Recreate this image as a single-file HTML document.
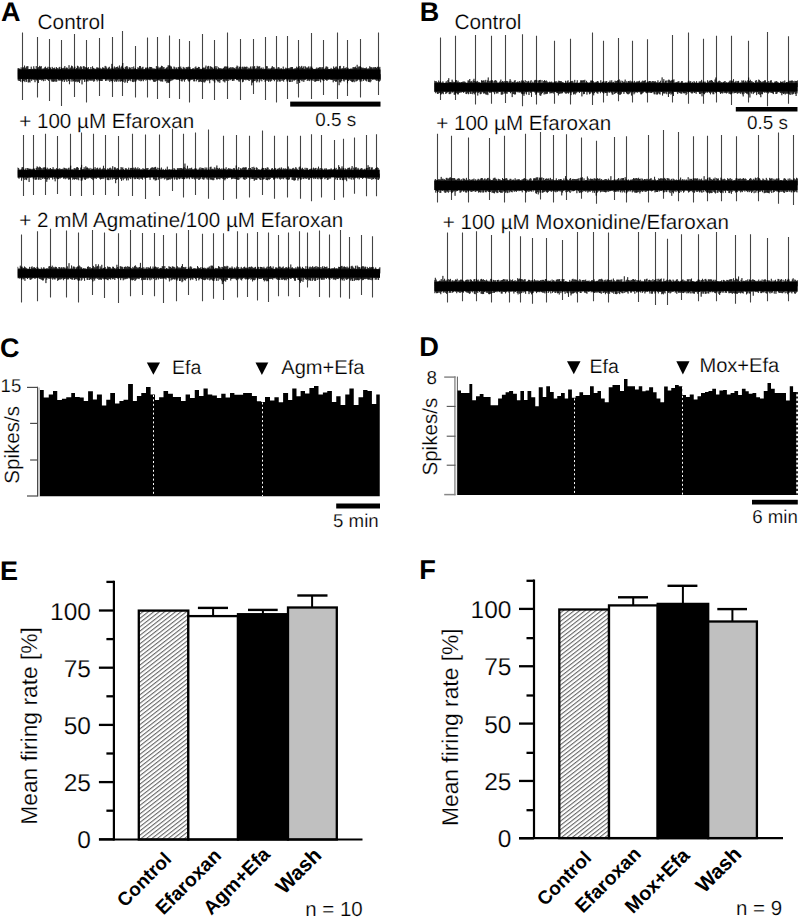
<!DOCTYPE html>
<html><head><meta charset="utf-8"><style>
html,body{margin:0;padding:0;background:#fff;}
svg{display:block;}
text{font-family:"Liberation Sans", sans-serif;fill:#000;text-rendering:geometricPrecision;stroke:#fff;stroke-width:0.2px;}
text[font-weight=bold]{stroke:none;}
</style></head><body>
<svg width="800" height="918" viewBox="0 0 800 918">
<defs>
<pattern id="hatch" patternUnits="userSpaceOnUse" width="10" height="3.35" patternTransform="rotate(-38)">
<rect width="10" height="3.35" fill="#fff"/>
<line x1="0" y1="0.6" x2="10" y2="0.6" stroke="#444" stroke-width="0.9"/>
</pattern>
</defs>
<rect width="800" height="918" fill="#fff"/>
<text x="1.1" y="20.9" font-size="27" font-weight="bold" text-anchor="start" >A</text>
<text x="419.8" y="20.8" font-size="27" font-weight="bold" text-anchor="start" >B</text>
<text x="-0.1" y="356.6" font-size="27" font-weight="bold" text-anchor="start" >C</text>
<text x="419.3" y="356.4" font-size="27.2" font-weight="bold" text-anchor="start" >D</text>
<text x="0.0" y="579.5" font-size="27" font-weight="bold" text-anchor="start" >E</text>
<text x="419.3" y="579.4" font-size="27.2" font-weight="bold" text-anchor="start" >F</text>
<text x="37.6" y="28.7" font-size="20.8" font-weight="normal" text-anchor="start" >Control</text>
<text x="19.2" y="128.0" font-size="20.6" font-weight="normal" text-anchor="start" >+ 100 µM Efaroxan</text>
<text x="19.2" y="227.0" font-size="20.62" font-weight="normal" text-anchor="start" >+ 2 mM Agmatine/100 µM Efaroxan</text>
<text x="454.4" y="28.7" font-size="20.8" font-weight="normal" text-anchor="start" >Control</text>
<text x="436.2" y="130.3" font-size="20.6" font-weight="normal" text-anchor="start" >+ 100 µM Efaroxan</text>
<text x="442.8" y="229.2" font-size="20.6" font-weight="normal" text-anchor="start" >+ 100 µM Moxonidine/Efaroxan</text>
<line x1="22.5" y1="32.5" x2="22.5" y2="100" stroke="#444" stroke-width="1.1"/>
<line x1="37.5" y1="37" x2="37.5" y2="97.5" stroke="#444" stroke-width="1.1"/>
<line x1="49.5" y1="39" x2="49.5" y2="101" stroke="#444" stroke-width="1.1"/>
<line x1="61.5" y1="40" x2="61.5" y2="106" stroke="#444" stroke-width="1.1"/>
<line x1="74.5" y1="34" x2="74.5" y2="97" stroke="#444" stroke-width="1.1"/>
<line x1="86.5" y1="40" x2="86.5" y2="102.5" stroke="#444" stroke-width="1.1"/>
<line x1="99.5" y1="38" x2="99.5" y2="96" stroke="#444" stroke-width="1.1"/>
<line x1="112.5" y1="37" x2="112.5" y2="97" stroke="#444" stroke-width="1.1"/>
<line x1="122.5" y1="31" x2="122.5" y2="96" stroke="#444" stroke-width="1.1"/>
<line x1="135.5" y1="46" x2="135.5" y2="97.5" stroke="#444" stroke-width="1.1"/>
<line x1="147.5" y1="37.5" x2="147.5" y2="97.5" stroke="#444" stroke-width="1.1"/>
<line x1="157.5" y1="37" x2="157.5" y2="99" stroke="#444" stroke-width="1.1"/>
<line x1="169.5" y1="35.5" x2="169.5" y2="98" stroke="#444" stroke-width="1.1"/>
<line x1="179.5" y1="39" x2="179.5" y2="99" stroke="#444" stroke-width="1.1"/>
<line x1="189.5" y1="41" x2="189.5" y2="102.5" stroke="#444" stroke-width="1.1"/>
<line x1="202.5" y1="34" x2="202.5" y2="99" stroke="#444" stroke-width="1.1"/>
<line x1="214.5" y1="40" x2="214.5" y2="100" stroke="#444" stroke-width="1.1"/>
<line x1="227.5" y1="32.5" x2="227.5" y2="99" stroke="#444" stroke-width="1.1"/>
<line x1="240.5" y1="39" x2="240.5" y2="100" stroke="#444" stroke-width="1.1"/>
<line x1="253.5" y1="39" x2="253.5" y2="94" stroke="#444" stroke-width="1.1"/>
<line x1="265.5" y1="37" x2="265.5" y2="100" stroke="#444" stroke-width="1.1"/>
<line x1="276.5" y1="36" x2="276.5" y2="102.5" stroke="#444" stroke-width="1.1"/>
<line x1="287.5" y1="36" x2="287.5" y2="99" stroke="#444" stroke-width="1.1"/>
<line x1="298.5" y1="40" x2="298.5" y2="97.5" stroke="#444" stroke-width="1.1"/>
<line x1="311.5" y1="33" x2="311.5" y2="99" stroke="#444" stroke-width="1.1"/>
<line x1="323.5" y1="40" x2="323.5" y2="95" stroke="#444" stroke-width="1.1"/>
<line x1="337.5" y1="32.5" x2="337.5" y2="99" stroke="#444" stroke-width="1.1"/>
<line x1="347.5" y1="40" x2="347.5" y2="96" stroke="#444" stroke-width="1.1"/>
<line x1="360.5" y1="39" x2="360.5" y2="97.5" stroke="#444" stroke-width="1.1"/>
<line x1="378.5" y1="32.5" x2="378.5" y2="95" stroke="#444" stroke-width="1.1"/>
<rect x="17.8" y="69.50" width="362.7" height="9.40" fill="#000"/>
<polyline points="17.80,68.2 17.92,74.2 18.22,80.4 18.34,74.2 18.64,68.2 18.76,74.2 19.06,80.9 19.18,74.2 19.48,68.7 19.60,74.2 19.90,81.0 20.02,74.2 20.32,69.3 20.44,74.2 20.74,81.8 20.86,74.2 21.16,67.4 21.28,74.2 21.58,79.0 21.70,74.2 22.00,69.2 22.12,74.2 22.42,82.4 22.54,74.2 22.84,67.6 22.96,74.2 23.26,81.1 23.38,74.2 23.68,67.4 23.80,74.2 24.10,80.9 24.22,74.2 24.52,65.6 24.64,74.2 24.94,82.1 25.06,74.2 25.36,68.2 25.48,74.2 25.78,80.1 25.90,74.2 26.20,66.8 26.32,74.2 26.62,81.9 26.74,74.2 27.04,66.2 27.16,74.2 27.46,78.9 27.58,74.2 27.88,66.2 28.00,74.2 28.30,82.5 28.42,74.2 28.72,69.1 28.84,74.2 29.14,81.9 29.26,74.2 29.56,69.1 29.68,74.2 29.98,82.5 30.10,74.2 30.40,69.0 30.52,74.2 30.82,79.4 30.94,74.2 31.24,66.7 31.36,74.2 31.66,80.9 31.78,74.2 32.08,68.8 32.20,74.2 32.50,79.4 32.62,74.2 32.92,69.0 33.04,74.2 33.34,79.7 33.46,74.2 33.76,66.3 33.88,74.2 34.18,80.1 34.30,74.2 34.60,68.6 34.72,74.2 35.02,82.2 35.14,74.2 35.44,69.0 35.56,74.2 35.86,79.9 35.98,74.2 36.28,66.1 36.40,74.2 36.70,80.4 36.82,74.2 37.12,69.0 37.24,74.2 37.54,80.1 37.66,74.2 37.96,67.7 38.08,74.2 38.38,83.0 38.50,74.2 38.80,67.0 38.92,74.2 39.22,79.8 39.34,74.2 39.64,65.9 39.76,74.2 40.06,80.0 40.18,74.2 40.48,66.7 40.60,74.2 40.90,79.8 41.02,74.2 41.32,66.2 41.44,74.2 41.74,80.6 41.86,74.2 42.16,69.3 42.28,74.2 42.58,79.9 42.70,74.2 43.00,68.4 43.12,74.2 43.42,81.2 43.54,74.2 43.84,68.7 43.96,74.2 44.26,79.2 44.38,74.2 44.68,67.5 44.80,74.2 45.10,80.9 45.22,74.2 45.52,66.7 45.64,74.2 45.94,79.0 46.06,74.2 46.36,68.2 46.48,74.2 46.78,79.4 46.90,74.2 47.20,67.9 47.32,74.2 47.62,79.9 47.74,74.2 48.04,66.8 48.16,74.2 48.46,80.9 48.58,74.2 48.88,69.0 49.00,74.2 49.30,79.0 49.42,74.2 49.72,67.1 49.84,74.2 50.14,79.0 50.26,74.2 50.56,67.7 50.68,74.2 50.98,80.2 51.10,74.2 51.40,69.2 51.52,74.2 51.82,81.5 51.94,74.2 52.24,66.9 52.36,74.2 52.66,81.6 52.78,74.2 53.08,68.3 53.20,74.2 53.50,81.7 53.62,74.2 53.92,68.1 54.04,74.2 54.34,81.5 54.46,74.2 54.76,67.6 54.88,74.2 55.18,80.7 55.30,74.2 55.60,69.2 55.72,74.2 56.02,82.0 56.14,74.2 56.44,67.1 56.56,74.2 56.86,81.3 56.98,74.2 57.28,68.0 57.40,74.2 57.70,79.2 57.82,74.2 58.12,69.4 58.24,74.2 58.54,80.4 58.66,74.2 58.96,67.6 59.08,74.2 59.38,80.5 59.50,74.2 59.80,66.9 59.92,74.2 60.22,80.5 60.34,74.2 60.64,69.1 60.76,74.2 61.06,80.4 61.18,74.2 61.48,67.5 61.60,74.2 61.90,80.6 62.02,74.2 62.32,68.3 62.44,74.2 62.74,81.5 62.86,74.2 63.16,68.2 63.28,74.2 63.58,80.0 63.70,74.2 64.00,67.7 64.12,74.2 64.42,81.9 64.54,74.2 64.84,66.1 64.96,74.2 65.26,79.6 65.38,74.2 65.68,68.4 65.80,74.2 66.10,80.5 66.22,74.2 66.52,67.6 66.64,74.2 66.94,81.9 67.06,74.2 67.36,67.8 67.48,74.2 67.78,79.1 67.90,74.2 68.20,69.3 68.32,74.2 68.62,81.0 68.74,74.2 69.04,65.2 69.16,74.2 69.46,84.2 69.58,74.2 69.88,68.5 70.00,74.2 70.30,79.1 70.42,74.2 70.72,67.6 70.84,74.2 71.14,81.6 71.26,74.2 71.56,65.7 71.68,74.2 71.98,79.8 72.10,74.2 72.40,66.3 72.52,74.2 72.82,81.5 72.94,74.2 73.24,68.5 73.36,74.2 73.66,81.2 73.78,74.2 74.08,67.5 74.20,74.2 74.50,80.2 74.62,74.2 74.92,66.7 75.04,74.2 75.34,81.8 75.46,74.2 75.76,69.0 75.88,74.2 76.18,81.1 76.30,74.2 76.60,68.0 76.72,74.2 77.02,82.2 77.14,74.2 77.44,65.8 77.56,74.2 77.86,81.6 77.98,74.2 78.28,66.4 78.40,74.2 78.70,81.7 78.82,74.2 79.12,68.5 79.24,74.2 79.54,83.0 79.66,74.2 79.96,67.2 80.08,74.2 80.38,80.3 80.50,74.2 80.80,66.1 80.92,74.2 81.22,79.3 81.34,74.2 81.64,67.2 81.76,74.2 82.06,84.4 82.18,74.2 82.48,69.2 82.60,74.2 82.90,79.7 83.02,74.2 83.32,66.2 83.44,74.2 83.74,79.7 83.86,74.2 84.16,66.3 84.28,74.2 84.58,81.9 84.70,74.2 85.00,67.3 85.12,74.2 85.42,79.3 85.54,74.2 85.84,67.3 85.96,74.2 86.26,81.7 86.38,74.2 86.68,67.5 86.80,74.2 87.10,80.9 87.22,74.2 87.52,68.2 87.64,74.2 87.94,81.5 88.06,74.2 88.36,67.1 88.48,74.2 88.78,80.4 88.90,74.2 89.20,68.9 89.32,74.2 89.62,80.4 89.74,74.2 90.04,69.4 90.16,74.2 90.46,80.5 90.58,74.2 90.88,67.0 91.00,74.2 91.30,80.6 91.42,74.2 91.72,69.2 91.84,74.2 92.14,80.4 92.26,74.2 92.56,66.3 92.68,74.2 92.98,80.6 93.10,74.2 93.40,67.9 93.52,74.2 93.82,81.8 93.94,74.2 94.24,68.4 94.36,74.2 94.66,80.9 94.78,74.2 95.08,69.0 95.20,74.2 95.50,79.0 95.62,74.2 95.92,68.7 96.04,74.2 96.34,80.0 96.46,74.2 96.76,67.4 96.88,74.2 97.18,81.4 97.30,74.2 97.60,67.6 97.72,74.2 98.02,79.7 98.14,74.2 98.44,67.8 98.56,74.2 98.86,80.5 98.98,74.2 99.28,68.9 99.40,74.2 99.70,81.0 99.82,74.2 100.12,67.8 100.24,74.2 100.54,80.7 100.66,74.2 100.96,68.8 101.08,74.2 101.38,81.0 101.50,74.2 101.80,68.7 101.92,74.2 102.22,81.0 102.34,74.2 102.64,67.3 102.76,74.2 103.06,79.3 103.18,74.2 103.48,67.8 103.60,74.2 103.90,79.2 104.02,74.2 104.32,68.3 104.44,74.2 104.74,79.3 104.86,74.2 105.16,65.9 105.28,74.2 105.58,81.0 105.70,74.2 106.00,66.5 106.12,74.2 106.42,80.6 106.54,74.2 106.84,67.8 106.96,74.2 107.26,79.6 107.38,74.2 107.68,69.1 107.80,74.2 108.10,80.7 108.22,74.2 108.52,67.7 108.64,74.2 108.94,79.6 109.06,74.2 109.36,66.8 109.48,74.2 109.78,81.9 109.90,74.2 110.20,69.2 110.32,74.2 110.62,80.7 110.74,74.2 111.04,68.2 111.16,74.2 111.46,81.0 111.58,74.2 111.88,63.9 112.00,74.2 112.30,82.4 112.42,74.2 112.72,67.5 112.84,74.2 113.14,80.7 113.26,74.2 113.56,68.7 113.68,74.2 113.98,79.0 114.10,74.2 114.40,66.5 114.52,74.2 114.82,81.9 114.94,74.2 115.24,68.0 115.36,74.2 115.66,80.6 115.78,74.2 116.08,67.0 116.20,74.2 116.50,81.7 116.62,74.2 116.92,67.1 117.04,74.2 117.34,80.3 117.46,74.2 117.76,66.6 117.88,74.2 118.18,81.6 118.30,74.2 118.60,67.9 118.72,74.2 119.02,79.2 119.14,74.2 119.44,65.5 119.56,74.2 119.86,81.4 119.98,74.2 120.28,68.5 120.40,74.2 120.70,81.6 120.82,74.2 121.12,66.9 121.24,74.2 121.54,81.0 121.66,74.2 121.96,65.8 122.08,74.2 122.38,81.6 122.50,74.2 122.80,63.0 122.92,74.2 123.22,81.8 123.34,74.2 123.64,67.8 123.76,74.2 124.06,79.8 124.18,74.2 124.48,69.0 124.60,74.2 124.90,82.8 125.02,74.2 125.32,67.1 125.44,74.2 125.74,81.6 125.86,74.2 126.16,66.5 126.28,74.2 126.58,79.3 126.70,74.2 127.00,66.0 127.12,74.2 127.42,82.9 127.54,74.2 127.84,67.4 127.96,74.2 128.26,81.0 128.38,74.2 128.68,69.2 128.80,74.2 129.10,80.5 129.22,74.2 129.52,67.4 129.64,74.2 129.94,79.9 130.06,74.2 130.36,67.7 130.48,74.2 130.78,81.2 130.90,74.2 131.20,69.4 131.32,74.2 131.62,79.1 131.74,74.2 132.04,67.0 132.16,74.2 132.46,81.8 132.58,74.2 132.88,69.3 133.00,74.2 133.30,82.1 133.42,74.2 133.72,66.5 133.84,74.2 134.14,80.6 134.26,74.2 134.56,68.6 134.68,74.2 134.98,81.9 135.10,74.2 135.40,68.0 135.52,74.2 135.82,81.4 135.94,74.2 136.24,69.1 136.36,74.2 136.66,80.3 136.78,74.2 137.08,69.3 137.20,74.2 137.50,79.4 137.62,74.2 137.92,67.3 138.04,74.2 138.34,79.9 138.46,74.2 138.76,67.9 138.88,74.2 139.18,80.9 139.30,74.2 139.60,66.0 139.72,74.2 140.02,79.9 140.14,74.2 140.44,66.1 140.56,74.2 140.86,81.3 140.98,74.2 141.28,68.4 141.40,74.2 141.70,80.9 141.82,74.2 142.12,67.4 142.24,74.2 142.54,79.6 142.66,74.2 142.96,66.8 143.08,74.2 143.38,81.2 143.50,74.2 143.80,69.3 143.92,74.2 144.22,80.0 144.34,74.2 144.64,69.2 144.76,74.2 145.06,79.1 145.18,74.2 145.48,67.7 145.60,74.2 145.90,80.6 146.02,74.2 146.32,68.1 146.44,74.2 146.74,79.9 146.86,74.2 147.16,67.1 147.28,74.2 147.58,79.3 147.70,74.2 148.00,67.7 148.12,74.2 148.42,79.6 148.54,74.2 148.84,68.7 148.96,74.2 149.26,80.0 149.38,74.2 149.68,66.9 149.80,74.2 150.10,80.4 150.22,74.2 150.52,67.1 150.64,74.2 150.94,80.0 151.06,74.2 151.36,67.0 151.48,74.2 151.78,79.2 151.90,74.2 152.20,67.8 152.32,74.2 152.62,80.1 152.74,74.2 153.04,69.1 153.16,74.2 153.46,81.5 153.58,74.2 153.88,68.2 154.00,74.2 154.30,81.8 154.42,74.2 154.72,68.8 154.84,74.2 155.14,81.9 155.26,74.2 155.56,68.9 155.68,74.2 155.98,81.1 156.10,74.2 156.40,66.1 156.52,74.2 156.82,80.5 156.94,74.2 157.24,68.4 157.36,74.2 157.66,80.3 157.78,74.2 158.08,66.6 158.20,74.2 158.50,80.2 158.62,74.2 158.92,68.2 159.04,74.2 159.34,80.3 159.46,74.2 159.76,67.5 159.88,74.2 160.18,80.9 160.30,74.2 160.60,67.4 160.72,74.2 161.02,81.7 161.14,74.2 161.44,65.8 161.56,74.2 161.86,81.0 161.98,74.2 162.28,66.1 162.40,74.2 162.70,81.7 162.82,74.2 163.12,67.5 163.24,74.2 163.54,79.3 163.66,74.2 163.96,67.0 164.08,74.2 164.38,79.3 164.50,74.2 164.80,68.9 164.92,74.2 165.22,81.3 165.34,74.2 165.64,68.6 165.76,74.2 166.06,81.1 166.18,74.2 166.48,67.7 166.60,74.2 166.90,83.1 167.02,74.2 167.32,67.2 167.44,74.2 167.74,82.3 167.86,74.2 168.16,65.3 168.28,74.2 168.58,82.8 168.70,74.2 169.00,65.6 169.12,74.2 169.42,82.6 169.54,74.2 169.84,65.4 169.96,74.2 170.26,81.2 170.38,74.2 170.68,66.3 170.80,74.2 171.10,80.6 171.22,74.2 171.52,66.7 171.64,74.2 171.94,80.4 172.06,74.2 172.36,68.7 172.48,74.2 172.78,80.1 172.90,74.2 173.20,69.2 173.32,74.2 173.62,79.4 173.74,74.2 174.04,66.6 174.16,74.2 174.46,79.2 174.58,74.2 174.88,67.3 175.00,74.2 175.30,79.1 175.42,74.2 175.72,68.8 175.84,74.2 176.14,79.8 176.26,74.2 176.56,67.5 176.68,74.2 176.98,79.6 177.10,74.2 177.40,68.9 177.52,74.2 177.82,79.9 177.94,74.2 178.24,67.2 178.36,74.2 178.66,79.7 178.78,74.2 179.08,66.9 179.20,74.2 179.50,80.6 179.62,74.2 179.92,67.9 180.04,74.2 180.34,79.1 180.46,74.2 180.76,66.6 180.88,74.2 181.18,80.9 181.30,74.2 181.60,68.3 181.72,74.2 182.02,81.5 182.14,74.2 182.44,69.4 182.56,74.2 182.86,80.4 182.98,74.2 183.28,66.9 183.40,74.2 183.70,79.5 183.82,74.2 184.12,68.3 184.24,74.2 184.54,81.6 184.66,74.2 184.96,67.5 185.08,74.2 185.38,79.8 185.50,74.2 185.80,69.0 185.92,74.2 186.22,78.9 186.34,74.2 186.64,67.1 186.76,74.2 187.06,79.2 187.18,74.2 187.48,67.4 187.60,74.2 187.90,80.4 188.02,74.2 188.32,66.7 188.44,74.2 188.74,81.4 188.86,74.2 189.16,67.2 189.28,74.2 189.58,81.4 189.70,74.2 190.00,67.3 190.12,74.2 190.42,80.3 190.54,74.2 190.84,69.0 190.96,74.2 191.26,79.7 191.38,74.2 191.68,69.3 191.80,74.2 192.10,80.0 192.22,74.2 192.52,68.6 192.64,74.2 192.94,79.2 193.06,74.2 193.36,68.2 193.48,74.2 193.78,81.3 193.90,74.2 194.20,69.4 194.32,74.2 194.62,81.3 194.74,74.2 195.04,67.4 195.16,74.2 195.46,79.0 195.58,74.2 195.88,66.5 196.00,74.2 196.30,81.3 196.42,74.2 196.72,68.0 196.84,74.2 197.14,80.1 197.26,74.2 197.56,68.0 197.68,74.2 197.98,79.9 198.10,74.2 198.40,66.9 198.52,74.2 198.82,82.1 198.94,74.2 199.24,67.0 199.36,74.2 199.66,81.7 199.78,74.2 200.08,68.9 200.20,74.2 200.50,81.3 200.62,74.2 200.92,68.8 201.04,74.2 201.34,82.0 201.46,74.2 201.76,69.1 201.88,74.2 202.18,79.6 202.30,74.2 202.60,67.9 202.72,74.2 203.02,82.3 203.14,74.2 203.44,67.6 203.56,74.2 203.86,81.6 203.98,74.2 204.28,68.1 204.40,74.2 204.70,82.5 204.82,74.2 205.12,67.3 205.24,74.2 205.54,81.3 205.66,74.2 205.96,65.6 206.08,74.2 206.38,80.1 206.50,74.2 206.80,69.1 206.92,74.2 207.22,80.7 207.34,74.2 207.64,66.5 207.76,74.2 208.06,79.6 208.18,74.2 208.48,65.9 208.60,74.2 208.90,80.5 209.02,74.2 209.32,68.8 209.44,74.2 209.74,83.2 209.86,74.2 210.16,66.2 210.28,74.2 210.58,79.9 210.70,74.2 211.00,66.7 211.12,74.2 211.42,79.4 211.54,74.2 211.84,67.0 211.96,74.2 212.26,80.4 212.38,74.2 212.68,67.9 212.80,74.2 213.10,79.5 213.22,74.2 213.52,68.9 213.64,74.2 213.94,81.2 214.06,74.2 214.36,67.2 214.48,74.2 214.78,82.6 214.90,74.2 215.20,66.1 215.32,74.2 215.62,79.5 215.74,74.2 216.04,68.2 216.16,74.2 216.46,80.0 216.58,74.2 216.88,66.2 217.00,74.2 217.30,81.0 217.42,74.2 217.72,69.3 217.84,74.2 218.14,82.2 218.26,74.2 218.56,67.4 218.68,74.2 218.98,81.0 219.10,74.2 219.40,68.3 219.52,74.2 219.82,82.8 219.94,74.2 220.24,68.1 220.36,74.2 220.66,80.1 220.78,74.2 221.08,68.9 221.20,74.2 221.50,79.8 221.62,74.2 221.92,68.3 222.04,74.2 222.34,79.1 222.46,74.2 222.76,68.9 222.88,74.2 223.18,81.2 223.30,74.2 223.60,67.9 223.72,74.2 224.02,81.5 224.14,74.2 224.44,66.7 224.56,74.2 224.86,82.4 224.98,74.2 225.28,66.5 225.40,74.2 225.70,80.5 225.82,74.2 226.12,66.6 226.24,74.2 226.54,80.7 226.66,74.2 226.96,66.7 227.08,74.2 227.38,79.1 227.50,74.2 227.80,66.6 227.92,74.2 228.22,80.9 228.34,74.2 228.64,68.4 228.76,74.2 229.06,79.2 229.18,74.2 229.48,67.9 229.60,74.2 229.90,80.3 230.02,74.2 230.32,67.2 230.44,74.2 230.74,79.8 230.86,74.2 231.16,68.2 231.28,74.2 231.58,79.2 231.70,74.2 232.00,67.0 232.12,74.2 232.42,81.0 232.54,74.2 232.84,67.6 232.96,74.2 233.26,80.6 233.38,74.2 233.68,67.6 233.80,74.2 234.10,80.6 234.22,74.2 234.52,68.2 234.64,74.2 234.94,78.9 235.06,74.2 235.36,68.7 235.48,74.2 235.78,79.1 235.90,74.2 236.20,67.1 236.32,74.2 236.62,80.1 236.74,74.2 237.04,65.6 237.16,74.2 237.46,80.0 237.58,74.2 237.88,66.4 238.00,74.2 238.30,80.6 238.42,74.2 238.72,68.4 238.84,74.2 239.14,81.8 239.26,74.2 239.56,66.8 239.68,74.2 239.98,80.5 240.10,74.2 240.40,66.7 240.52,74.2 240.82,79.7 240.94,74.2 241.24,68.8 241.36,74.2 241.66,79.1 241.78,74.2 242.08,66.9 242.20,74.2 242.50,82.2 242.62,74.2 242.92,66.7 243.04,74.2 243.34,81.6 243.46,74.2 243.76,67.6 243.88,74.2 244.18,79.9 244.30,74.2 244.60,66.7 244.72,74.2 245.02,79.7 245.14,74.2 245.44,67.1 245.56,74.2 245.86,80.3 245.98,74.2 246.28,66.7 246.40,74.2 246.70,79.7 246.82,74.2 247.12,66.8 247.24,74.2 247.54,79.8 247.66,74.2 247.96,69.2 248.08,74.2 248.38,80.3 248.50,74.2 248.80,67.7 248.92,74.2 249.22,81.0 249.34,74.2 249.64,68.5 249.76,74.2 250.06,79.3 250.18,74.2 250.48,66.6 250.60,74.2 250.90,80.1 251.02,74.2 251.32,68.6 251.44,74.2 251.74,85.3 251.86,74.2 252.16,66.4 252.28,74.2 252.58,82.6 252.70,74.2 253.00,68.7 253.12,74.2 253.42,81.5 253.54,74.2 253.84,66.8 253.96,74.2 254.26,81.0 254.38,74.2 254.68,66.1 254.80,74.2 255.10,81.1 255.22,74.2 255.52,68.7 255.64,74.2 255.94,79.7 256.06,74.2 256.36,68.3 256.48,74.2 256.78,82.4 256.90,74.2 257.20,65.9 257.32,74.2 257.62,81.2 257.74,74.2 258.04,66.8 258.16,74.2 258.46,79.1 258.58,74.2 258.88,66.5 259.00,74.2 259.30,82.3 259.42,74.2 259.72,66.3 259.84,74.2 260.14,80.5 260.26,74.2 260.56,68.5 260.68,74.2 260.98,79.2 261.10,74.2 261.40,67.7 261.52,74.2 261.82,81.3 261.94,74.2 262.24,69.0 262.36,74.2 262.66,79.1 262.78,74.2 263.08,67.5 263.20,74.2 263.50,79.9 263.62,74.2 263.92,69.1 264.04,74.2 264.34,79.6 264.46,74.2 264.76,68.8 264.88,74.2 265.18,81.9 265.30,74.2 265.60,69.2 265.72,74.2 266.02,80.3 266.14,74.2 266.44,66.2 266.56,74.2 266.86,80.6 266.98,74.2 267.28,66.3 267.40,74.2 267.70,80.5 267.82,74.2 268.12,69.3 268.24,74.2 268.54,81.8 268.66,74.2 268.96,68.1 269.08,74.2 269.38,80.4 269.50,74.2 269.80,69.3 269.92,74.2 270.22,81.7 270.34,74.2 270.64,68.5 270.76,74.2 271.06,81.1 271.18,74.2 271.48,67.7 271.60,74.2 271.90,80.4 272.02,74.2 272.32,66.1 272.44,74.2 272.74,79.1 272.86,74.2 273.16,67.4 273.28,74.2 273.58,80.0 273.70,74.2 274.00,67.1 274.12,74.2 274.42,81.2 274.54,74.2 274.84,68.5 274.96,74.2 275.26,79.9 275.38,74.2 275.68,68.9 275.80,74.2 276.10,79.4 276.22,74.2 276.52,69.0 276.64,74.2 276.94,79.5 277.06,74.2 277.36,68.6 277.48,74.2 277.78,81.6 277.90,74.2 278.20,67.1 278.32,74.2 278.62,80.1 278.74,74.2 279.04,67.4 279.16,74.2 279.46,81.4 279.58,74.2 279.88,68.6 280.00,74.2 280.30,81.5 280.42,74.2 280.72,68.6 280.84,74.2 281.14,79.4 281.26,74.2 281.56,68.4 281.68,74.2 281.98,81.0 282.10,74.2 282.40,69.4 282.52,74.2 282.82,80.2 282.94,74.2 283.24,66.6 283.36,74.2 283.66,81.6 283.78,74.2 284.08,69.2 284.20,74.2 284.50,79.9 284.62,74.2 284.92,68.8 285.04,74.2 285.34,79.1 285.46,74.2 285.76,67.7 285.88,74.2 286.18,79.5 286.30,74.2 286.60,68.4 286.72,74.2 287.02,81.4 287.14,74.2 287.44,68.7 287.56,74.2 287.86,81.3 287.98,74.2 288.28,68.2 288.40,74.2 288.70,79.7 288.82,74.2 289.12,68.4 289.24,74.2 289.54,82.0 289.66,74.2 289.96,67.7 290.08,74.2 290.38,81.9 290.50,74.2 290.80,67.3 290.92,74.2 291.22,79.7 291.34,74.2 291.64,67.1 291.76,74.2 292.06,82.0 292.18,74.2 292.48,67.1 292.60,74.2 292.90,80.6 293.02,74.2 293.32,69.2 293.44,74.2 293.74,80.2 293.86,74.2 294.16,68.4 294.28,74.2 294.58,80.5 294.70,74.2 295.00,68.8 295.12,74.2 295.42,79.9 295.54,74.2 295.84,68.1 295.96,74.2 296.26,79.6 296.38,74.2 296.68,66.7 296.80,74.2 297.10,83.9 297.22,74.2 297.52,67.8 297.64,74.2 297.94,80.8 298.06,74.2 298.36,67.1 298.48,74.2 298.78,81.2 298.90,74.2 299.20,66.1 299.32,74.2 299.62,83.0 299.74,74.2 300.04,68.1 300.16,74.2 300.46,79.9 300.58,74.2 300.88,66.8 301.00,74.2 301.30,80.5 301.42,74.2 301.72,65.9 301.84,74.2 302.14,81.3 302.26,74.2 302.56,67.9 302.68,74.2 302.98,80.0 303.10,74.2 303.40,66.5 303.52,74.2 303.82,81.9 303.94,74.2 304.24,68.9 304.36,74.2 304.66,80.1 304.78,74.2 305.08,66.1 305.20,74.2 305.50,79.7 305.62,74.2 305.92,67.0 306.04,74.2 306.34,78.9 306.46,74.2 306.76,68.0 306.88,74.2 307.18,80.7 307.30,74.2 307.60,67.6 307.72,74.2 308.02,80.8 308.14,74.2 308.44,66.5 308.56,74.2 308.86,80.1 308.98,74.2 309.28,68.4 309.40,74.2 309.70,81.1 309.82,74.2 310.12,66.5 310.24,74.2 310.54,79.5 310.66,74.2 310.96,67.8 311.08,74.2 311.38,80.3 311.50,74.2 311.80,66.7 311.92,74.2 312.22,79.9 312.34,74.2 312.64,68.1 312.76,74.2 313.06,81.0 313.18,74.2 313.48,69.2 313.60,74.2 313.90,79.4 314.02,74.2 314.32,69.0 314.44,74.2 314.74,81.7 314.86,74.2 315.16,68.9 315.28,74.2 315.58,81.6 315.70,74.2 316.00,68.7 316.12,74.2 316.42,81.1 316.54,74.2 316.84,67.5 316.96,74.2 317.26,80.8 317.38,74.2 317.68,68.5 317.80,74.2 318.10,81.1 318.22,74.2 318.52,67.9 318.64,74.2 318.94,80.9 319.06,74.2 319.36,67.2 319.48,74.2 319.78,79.3 319.90,74.2 320.20,67.6 320.32,74.2 320.62,82.3 320.74,74.2 321.04,67.0 321.16,74.2 321.46,79.3 321.58,74.2 321.88,68.4 322.00,74.2 322.30,80.0 322.42,74.2 322.72,67.1 322.84,74.2 323.14,80.7 323.26,74.2 323.56,69.4 323.68,74.2 323.98,80.8 324.10,74.2 324.40,69.1 324.52,74.2 324.82,79.0 324.94,74.2 325.24,67.9 325.36,74.2 325.66,80.0 325.78,74.2 326.08,66.5 326.20,74.2 326.50,80.5 326.62,74.2 326.92,66.6 327.04,74.2 327.34,80.5 327.46,74.2 327.76,67.3 327.88,74.2 328.18,79.6 328.30,74.2 328.60,69.0 328.72,74.2 329.02,79.9 329.14,74.2 329.44,69.0 329.56,74.2 329.86,79.0 329.98,74.2 330.28,69.0 330.40,74.2 330.70,79.9 330.82,74.2 331.12,67.9 331.24,74.2 331.54,79.8 331.66,74.2 331.96,69.2 332.08,74.2 332.38,80.0 332.50,74.2 332.80,68.8 332.92,74.2 333.22,82.3 333.34,74.2 333.64,66.5 333.76,74.2 334.06,80.5 334.18,74.2 334.48,68.0 334.60,74.2 334.90,80.9 335.02,74.2 335.32,67.3 335.44,74.2 335.74,81.9 335.86,74.2 336.16,66.4 336.28,74.2 336.58,81.5 336.70,74.2 337.00,67.3 337.12,74.2 337.42,79.4 337.54,74.2 337.84,68.2 337.96,74.2 338.26,80.1 338.38,74.2 338.68,69.4 338.80,74.2 339.10,85.2 339.22,74.2 339.52,66.2 339.64,74.2 339.94,82.1 340.06,74.2 340.36,65.9 340.48,74.2 340.78,82.4 340.90,74.2 341.20,68.9 341.32,74.2 341.62,80.9 341.74,74.2 342.04,68.2 342.16,74.2 342.46,79.0 342.58,74.2 342.88,68.4 343.00,74.2 343.30,80.6 343.42,74.2 343.72,66.2 343.84,74.2 344.14,81.5 344.26,74.2 344.56,68.3 344.68,74.2 344.98,80.2 345.10,74.2 345.40,68.1 345.52,74.2 345.82,79.8 345.94,74.2 346.24,67.3 346.36,74.2 346.66,79.7 346.78,74.2 347.08,68.8 347.20,74.2 347.50,83.2 347.62,74.2 347.92,67.8 348.04,74.2 348.34,81.0 348.46,74.2 348.76,68.7 348.88,74.2 349.18,80.1 349.30,74.2 349.60,69.1 349.72,74.2 350.02,80.3 350.14,74.2 350.44,68.7 350.56,74.2 350.86,81.0 350.98,74.2 351.28,68.6 351.40,74.2 351.70,81.7 351.82,74.2 352.12,68.8 352.24,74.2 352.54,82.1 352.66,74.2 352.96,67.3 353.08,74.2 353.38,81.3 353.50,74.2 353.80,67.1 353.92,74.2 354.22,82.2 354.34,74.2 354.64,67.4 354.76,74.2 355.06,79.5 355.18,74.2 355.48,66.7 355.60,74.2 355.90,81.5 356.02,74.2 356.32,68.0 356.44,74.2 356.74,81.1 356.86,74.2 357.16,64.8 357.28,74.2 357.58,80.5 357.70,74.2 358.00,67.5 358.12,74.2 358.42,79.5 358.54,74.2 358.84,66.5 358.96,74.2 359.26,80.0 359.38,74.2 359.68,66.5 359.80,74.2 360.10,81.6 360.22,74.2 360.52,66.4 360.64,74.2 360.94,79.7 361.06,74.2 361.36,67.4 361.48,74.2 361.78,81.4 361.90,74.2 362.20,67.9 362.32,74.2 362.62,79.1 362.74,74.2 363.04,67.6 363.16,74.2 363.46,80.9 363.58,74.2 363.88,68.2 364.00,74.2 364.30,79.4 364.42,74.2 364.72,68.1 364.84,74.2 365.14,80.2 365.26,74.2 365.56,68.3 365.68,74.2 365.98,80.8 366.10,74.2 366.40,67.5 366.52,74.2 366.82,81.4 366.94,74.2 367.24,69.0 367.36,74.2 367.66,79.3 367.78,74.2 368.08,68.2 368.20,74.2 368.50,81.8 368.62,74.2 368.92,68.8 369.04,74.2 369.34,81.9 369.46,74.2 369.76,66.3 369.88,74.2 370.18,82.3 370.30,74.2 370.60,67.3 370.72,74.2 371.02,81.3 371.14,74.2 371.44,67.3 371.56,74.2 371.86,79.0 371.98,74.2 372.28,68.4 372.40,74.2 372.70,79.9 372.82,74.2 373.12,67.1 373.24,74.2 373.54,79.4 373.66,74.2 373.96,67.8 374.08,74.2 374.38,79.4 374.50,74.2 374.80,67.2 374.92,74.2 375.22,79.7 375.34,74.2 375.64,67.0 375.76,74.2 376.06,80.3 376.18,74.2 376.48,68.0 376.60,74.2 376.90,81.0 377.02,74.2 377.32,66.9 377.44,74.2 377.74,80.3 377.86,74.2 378.16,66.8 378.28,74.2 378.58,80.9 378.70,74.2 379.00,67.8 379.12,74.2 379.42,81.5 379.54,74.2 379.84,66.9 379.96,74.2 380.26,80.5 380.38,74.2" fill="none" stroke="#000" stroke-width="0.6"/>
<line x1="23.5" y1="135" x2="23.5" y2="196" stroke="#444" stroke-width="1.1"/>
<line x1="33.5" y1="135" x2="33.5" y2="195" stroke="#444" stroke-width="1.1"/>
<line x1="45.5" y1="133.75" x2="45.5" y2="195" stroke="#444" stroke-width="1.1"/>
<line x1="57.5" y1="136" x2="57.5" y2="194" stroke="#444" stroke-width="1.1"/>
<line x1="70.5" y1="133.75" x2="70.5" y2="196" stroke="#444" stroke-width="1.1"/>
<line x1="81.5" y1="132.5" x2="81.5" y2="196" stroke="#444" stroke-width="1.1"/>
<line x1="93.5" y1="133.75" x2="93.5" y2="195" stroke="#444" stroke-width="1.1"/>
<line x1="105.5" y1="135" x2="105.5" y2="195" stroke="#444" stroke-width="1.1"/>
<line x1="118.5" y1="136" x2="118.5" y2="196" stroke="#444" stroke-width="1.1"/>
<line x1="132.5" y1="133.75" x2="132.5" y2="196" stroke="#444" stroke-width="1.1"/>
<line x1="145.5" y1="134.5" x2="145.5" y2="199" stroke="#444" stroke-width="1.1"/>
<line x1="159.5" y1="134.5" x2="159.5" y2="196" stroke="#444" stroke-width="1.1"/>
<line x1="172.5" y1="128.75" x2="172.5" y2="191" stroke="#444" stroke-width="1.1"/>
<line x1="183.5" y1="133.75" x2="183.5" y2="197.5" stroke="#444" stroke-width="1.1"/>
<line x1="195.5" y1="132.5" x2="195.5" y2="195" stroke="#444" stroke-width="1.1"/>
<line x1="208.5" y1="129.5" x2="208.5" y2="198.75" stroke="#444" stroke-width="1.1"/>
<line x1="223.5" y1="135.75" x2="223.5" y2="200" stroke="#444" stroke-width="1.1"/>
<line x1="236.5" y1="135" x2="236.5" y2="198.75" stroke="#444" stroke-width="1.1"/>
<line x1="249.5" y1="135.75" x2="249.5" y2="197.5" stroke="#444" stroke-width="1.1"/>
<line x1="262.5" y1="130.5" x2="262.5" y2="195" stroke="#444" stroke-width="1.1"/>
<line x1="274.5" y1="135.75" x2="274.5" y2="198.75" stroke="#444" stroke-width="1.1"/>
<line x1="287.5" y1="135.75" x2="287.5" y2="197.5" stroke="#444" stroke-width="1.1"/>
<line x1="300.5" y1="135.75" x2="300.5" y2="198.75" stroke="#444" stroke-width="1.1"/>
<line x1="311.5" y1="134.25" x2="311.5" y2="201.25" stroke="#444" stroke-width="1.1"/>
<line x1="321.5" y1="135" x2="321.5" y2="197.5" stroke="#444" stroke-width="1.1"/>
<line x1="334.5" y1="140" x2="334.5" y2="200" stroke="#444" stroke-width="1.1"/>
<line x1="343.5" y1="138.75" x2="343.5" y2="197.5" stroke="#444" stroke-width="1.1"/>
<line x1="354.5" y1="137.5" x2="354.5" y2="193.75" stroke="#444" stroke-width="1.1"/>
<line x1="366.5" y1="135" x2="366.5" y2="196.25" stroke="#444" stroke-width="1.1"/>
<line x1="376.5" y1="134.25" x2="376.5" y2="196.25" stroke="#444" stroke-width="1.1"/>
<rect x="17.8" y="170.10" width="361.7" height="7.00" fill="#000"/>
<polyline points="17.80,167.5 17.92,173.6 18.22,177.9 18.34,173.6 18.64,168.1 18.76,173.6 19.06,178.7 19.18,173.6 19.48,169.6 19.60,173.6 19.90,177.6 20.02,173.6 20.32,169.9 20.44,173.6 20.74,177.4 20.86,173.6 21.16,169.1 21.28,173.6 21.58,180.7 21.70,173.6 22.00,167.4 22.12,173.6 22.42,177.5 22.54,173.6 22.84,167.1 22.96,173.6 23.26,178.6 23.38,173.6 23.68,168.9 23.80,173.6 24.10,177.8 24.22,173.6 24.52,169.9 24.64,173.6 24.94,180.0 25.06,173.6 25.36,168.5 25.48,173.6 25.78,178.8 25.90,173.6 26.20,170.0 26.32,173.6 26.62,180.1 26.74,173.6 27.04,168.1 27.16,173.6 27.46,178.2 27.58,173.6 27.88,168.2 28.00,173.6 28.30,177.8 28.42,173.6 28.72,168.7 28.84,173.6 29.14,182.0 29.26,173.6 29.56,168.8 29.68,173.6 29.98,177.8 30.10,173.6 30.40,168.8 30.52,173.6 30.82,177.5 30.94,173.6 31.24,169.4 31.36,173.6 31.66,177.3 31.78,173.6 32.08,168.8 32.20,173.6 32.50,177.3 32.62,173.6 32.92,169.3 33.04,173.6 33.34,178.8 33.46,173.6 33.76,168.4 33.88,173.6 34.18,177.7 34.30,173.6 34.60,168.8 34.72,173.6 35.02,179.6 35.14,173.6 35.44,170.1 35.56,173.6 35.86,179.7 35.98,173.6 36.28,168.0 36.40,173.6 36.70,179.4 36.82,173.6 37.12,166.4 37.24,173.6 37.54,177.2 37.66,173.6 37.96,167.0 38.08,173.6 38.38,179.7 38.50,173.6 38.80,168.0 38.92,173.6 39.22,179.5 39.34,173.6 39.64,166.7 39.76,173.6 40.06,177.8 40.18,173.6 40.48,167.3 40.60,173.6 40.90,180.0 41.02,173.6 41.32,168.1 41.44,173.6 41.74,177.8 41.86,173.6 42.16,169.3 42.28,173.6 42.58,178.9 42.70,173.6 43.00,167.8 43.12,173.6 43.42,177.8 43.54,173.6 43.84,167.5 43.96,173.6 44.26,178.9 44.38,173.6 44.68,167.4 44.80,173.6 45.10,178.4 45.22,173.6 45.52,167.5 45.64,173.6 45.94,178.8 46.06,173.6 46.36,169.0 46.48,173.6 46.78,181.8 46.90,173.6 47.20,167.7 47.32,173.6 47.62,179.4 47.74,173.6 48.04,168.7 48.16,173.6 48.46,178.1 48.58,173.6 48.88,169.1 49.00,173.6 49.30,179.5 49.42,173.6 49.72,168.6 49.84,173.6 50.14,177.5 50.26,173.6 50.56,168.0 50.68,173.6 50.98,177.9 51.10,173.6 51.40,169.0 51.52,173.6 51.82,177.6 51.94,173.6 52.24,169.0 52.36,173.6 52.66,179.5 52.78,173.6 53.08,167.2 53.20,173.6 53.50,177.2 53.62,173.6 53.92,168.8 54.04,173.6 54.34,178.9 54.46,173.6 54.76,169.4 54.88,173.6 55.18,181.3 55.30,173.6 55.60,169.4 55.72,173.6 56.02,178.1 56.14,173.6 56.44,168.2 56.56,173.6 56.86,178.6 56.98,173.6 57.28,169.0 57.40,173.6 57.70,179.0 57.82,173.6 58.12,169.0 58.24,173.6 58.54,179.1 58.66,173.6 58.96,168.7 59.08,173.6 59.38,178.2 59.50,173.6 59.80,168.4 59.92,173.6 60.22,178.5 60.34,173.6 60.64,169.2 60.76,173.6 61.06,177.9 61.18,173.6 61.48,169.2 61.60,173.6 61.90,177.5 62.02,173.6 62.32,168.8 62.44,173.6 62.74,177.2 62.86,173.6 63.16,169.3 63.28,173.6 63.58,178.7 63.70,173.6 64.00,167.7 64.12,173.6 64.42,178.2 64.54,173.6 64.84,168.0 64.96,173.6 65.26,179.2 65.38,173.6 65.68,168.6 65.80,173.6 66.10,178.1 66.22,173.6 66.52,168.6 66.64,173.6 66.94,178.6 67.06,173.6 67.36,169.4 67.48,173.6 67.78,178.1 67.90,173.6 68.20,168.3 68.32,173.6 68.62,179.7 68.74,173.6 69.04,167.7 69.16,173.6 69.46,179.2 69.58,173.6 69.88,169.6 70.00,173.6 70.30,179.5 70.42,173.6 70.72,165.7 70.84,173.6 71.14,177.2 71.26,173.6 71.56,169.5 71.68,173.6 71.98,178.1 72.10,173.6 72.40,169.4 72.52,173.6 72.82,179.8 72.94,173.6 73.24,169.7 73.36,173.6 73.66,178.9 73.78,173.6 74.08,168.4 74.20,173.6 74.50,179.6 74.62,173.6 74.92,168.1 75.04,173.6 75.34,179.0 75.46,173.6 75.76,168.8 75.88,173.6 76.18,179.2 76.30,173.6 76.60,167.4 76.72,173.6 77.02,179.7 77.14,173.6 77.44,167.1 77.56,173.6 77.86,178.6 77.98,173.6 78.28,167.9 78.40,173.6 78.70,180.2 78.82,173.6 79.12,169.8 79.24,173.6 79.54,177.5 79.66,173.6 79.96,170.0 80.08,173.6 80.38,177.7 80.50,173.6 80.80,167.6 80.92,173.6 81.22,180.7 81.34,173.6 81.64,164.9 81.76,173.6 82.06,180.4 82.18,173.6 82.48,169.3 82.60,173.6 82.90,178.6 83.02,173.6 83.32,169.0 83.44,173.6 83.74,177.4 83.86,173.6 84.16,167.3 84.28,173.6 84.58,179.4 84.70,173.6 85.00,168.9 85.12,173.6 85.42,179.9 85.54,173.6 85.84,166.3 85.96,173.6 86.26,178.7 86.38,173.6 86.68,167.6 86.80,173.6 87.10,178.2 87.22,173.6 87.52,167.6 87.64,173.6 87.94,178.5 88.06,173.6 88.36,168.4 88.48,173.6 88.78,178.1 88.90,173.6 89.20,169.1 89.32,173.6 89.62,177.5 89.74,173.6 90.04,167.9 90.16,173.6 90.46,177.8 90.58,173.6 90.88,169.8 91.00,173.6 91.30,178.7 91.42,173.6 91.72,168.6 91.84,173.6 92.14,178.8 92.26,173.6 92.56,169.1 92.68,173.6 92.98,180.1 93.10,173.6 93.40,168.4 93.52,173.6 93.82,177.8 93.94,173.6 94.24,169.3 94.36,173.6 94.66,178.4 94.78,173.6 95.08,167.2 95.20,173.6 95.50,178.2 95.62,173.6 95.92,168.9 96.04,173.6 96.34,178.9 96.46,173.6 96.76,168.3 96.88,173.6 97.18,177.8 97.30,173.6 97.60,167.7 97.72,173.6 98.02,177.6 98.14,173.6 98.44,169.3 98.56,173.6 98.86,177.7 98.98,173.6 99.28,168.5 99.40,173.6 99.70,178.6 99.82,173.6 100.12,167.7 100.24,173.6 100.54,179.5 100.66,173.6 100.96,168.9 101.08,173.6 101.38,178.9 101.50,173.6 101.80,169.5 101.92,173.6 102.22,178.7 102.34,173.6 102.64,168.7 102.76,173.6 103.06,178.6 103.18,173.6 103.48,165.8 103.60,173.6 103.90,178.7 104.02,173.6 104.32,168.2 104.44,173.6 104.74,177.5 104.86,173.6 105.16,169.1 105.28,173.6 105.58,177.8 105.70,173.6 106.00,169.9 106.12,173.6 106.42,177.5 106.54,173.6 106.84,169.5 106.96,173.6 107.26,179.7 107.38,173.6 107.68,168.4 107.80,173.6 108.10,180.1 108.22,173.6 108.52,169.2 108.64,173.6 108.94,180.1 109.06,173.6 109.36,168.3 109.48,173.6 109.78,177.8 109.90,173.6 110.20,167.7 110.32,173.6 110.62,179.5 110.74,173.6 111.04,168.5 111.16,173.6 111.46,177.5 111.58,173.6 111.88,169.5 112.00,173.6 112.30,179.6 112.42,173.6 112.72,166.2 112.84,173.6 113.14,178.3 113.26,173.6 113.56,169.8 113.68,173.6 113.98,178.9 114.10,173.6 114.40,167.4 114.52,173.6 114.82,178.9 114.94,173.6 115.24,167.4 115.36,173.6 115.66,183.2 115.78,173.6 116.08,168.5 116.20,173.6 116.50,179.9 116.62,173.6 116.92,168.9 117.04,173.6 117.34,179.1 117.46,173.6 117.76,168.0 117.88,173.6 118.18,179.4 118.30,173.6 118.60,169.0 118.72,173.6 119.02,177.4 119.14,173.6 119.44,169.9 119.56,173.6 119.86,177.6 119.98,173.6 120.28,169.5 120.40,173.6 120.70,179.1 120.82,173.6 121.12,167.0 121.24,173.6 121.54,180.8 121.66,173.6 121.96,168.4 122.08,173.6 122.38,178.3 122.50,173.6 122.80,167.4 122.92,173.6 123.22,180.2 123.34,173.6 123.64,169.0 123.76,173.6 124.06,178.7 124.18,173.6 124.48,170.0 124.60,173.6 124.90,178.4 125.02,173.6 125.32,168.4 125.44,173.6 125.74,178.3 125.86,173.6 126.16,168.2 126.28,173.6 126.58,180.4 126.70,173.6 127.00,169.0 127.12,173.6 127.42,178.3 127.54,173.6 127.84,169.8 127.96,173.6 128.26,180.3 128.38,173.6 128.68,167.7 128.80,173.6 129.10,177.6 129.22,173.6 129.52,169.8 129.64,173.6 129.94,178.4 130.06,173.6 130.36,168.2 130.48,173.6 130.78,179.1 130.90,173.6 131.20,167.9 131.32,173.6 131.62,177.3 131.74,173.6 132.04,168.0 132.16,173.6 132.46,178.3 132.58,173.6 132.88,169.5 133.00,173.6 133.30,177.4 133.42,173.6 133.72,167.7 133.84,173.6 134.14,178.6 134.26,173.6 134.56,168.6 134.68,173.6 134.98,179.3 135.10,173.6 135.40,167.4 135.52,173.6 135.82,179.0 135.94,173.6 136.24,168.5 136.36,173.6 136.66,177.7 136.78,173.6 137.08,168.8 137.20,173.6 137.50,179.0 137.62,173.6 137.92,167.4 138.04,173.6 138.34,178.6 138.46,173.6 138.76,169.0 138.88,173.6 139.18,179.6 139.30,173.6 139.60,168.3 139.72,173.6 140.02,177.6 140.14,173.6 140.44,169.6 140.56,173.6 140.86,178.8 140.98,173.6 141.28,169.3 141.40,173.6 141.70,178.6 141.82,173.6 142.12,169.6 142.24,173.6 142.54,179.6 142.66,173.6 142.96,168.2 143.08,173.6 143.38,177.5 143.50,173.6 143.80,168.9 143.92,173.6 144.22,177.5 144.34,173.6 144.64,168.9 144.76,173.6 145.06,178.7 145.18,173.6 145.48,169.9 145.60,173.6 145.90,177.7 146.02,173.6 146.32,168.4 146.44,173.6 146.74,178.0 146.86,173.6 147.16,168.3 147.28,173.6 147.58,177.6 147.70,173.6 148.00,168.0 148.12,173.6 148.42,177.3 148.54,173.6 148.84,170.1 148.96,173.6 149.26,177.6 149.38,173.6 149.68,169.4 149.80,173.6 150.10,179.8 150.22,173.6 150.52,168.5 150.64,173.6 150.94,177.7 151.06,173.6 151.36,167.8 151.48,173.6 151.78,177.2 151.90,173.6 152.20,167.4 152.32,173.6 152.62,177.4 152.74,173.6 153.04,167.5 153.16,173.6 153.46,179.3 153.58,173.6 153.88,168.0 154.00,173.6 154.30,179.1 154.42,173.6 154.72,167.2 154.84,173.6 155.14,180.4 155.26,173.6 155.56,166.9 155.68,173.6 155.98,180.4 156.10,173.6 156.40,169.1 156.52,173.6 156.82,180.0 156.94,173.6 157.24,167.7 157.36,173.6 157.66,177.1 157.78,173.6 158.08,170.1 158.20,173.6 158.50,179.6 158.62,173.6 158.92,167.9 159.04,173.6 159.34,178.2 159.46,173.6 159.76,168.4 159.88,173.6 160.18,177.4 160.30,173.6 160.60,169.6 160.72,173.6 161.02,179.1 161.14,173.6 161.44,167.6 161.56,173.6 161.86,178.1 161.98,173.6 162.28,169.9 162.40,173.6 162.70,178.3 162.82,173.6 163.12,168.9 163.24,173.6 163.54,177.8 163.66,173.6 163.96,169.8 164.08,173.6 164.38,179.4 164.50,173.6 164.80,170.1 164.92,173.6 165.22,178.4 165.34,173.6 165.64,168.8 165.76,173.6 166.06,178.6 166.18,173.6 166.48,169.8 166.60,173.6 166.90,180.3 167.02,173.6 167.32,166.7 167.44,173.6 167.74,179.8 167.86,173.6 168.16,169.6 168.28,173.6 168.58,179.7 168.70,173.6 169.00,169.4 169.12,173.6 169.42,179.2 169.54,173.6 169.84,169.2 169.96,173.6 170.26,179.5 170.38,173.6 170.68,169.7 170.80,173.6 171.10,178.4 171.22,173.6 171.52,169.6 171.64,173.6 171.94,178.7 172.06,173.6 172.36,169.5 172.48,173.6 172.78,178.4 172.90,173.6 173.20,169.9 173.32,173.6 173.62,177.3 173.74,173.6 174.04,168.1 174.16,173.6 174.46,179.5 174.58,173.6 174.88,168.9 175.00,173.6 175.30,177.4 175.42,173.6 175.72,169.9 175.84,173.6 176.14,179.1 176.26,173.6 176.56,169.9 176.68,173.6 176.98,180.0 177.10,173.6 177.40,168.3 177.52,173.6 177.82,178.6 177.94,173.6 178.24,168.3 178.36,173.6 178.66,178.3 178.78,173.6 179.08,168.4 179.20,173.6 179.50,179.2 179.62,173.6 179.92,168.1 180.04,173.6 180.34,178.5 180.46,173.6 180.76,168.1 180.88,173.6 181.18,177.6 181.30,173.6 181.60,168.2 181.72,173.6 182.02,178.9 182.14,173.6 182.44,168.7 182.56,173.6 182.86,179.0 182.98,173.6 183.28,168.6 183.40,173.6 183.70,179.3 183.82,173.6 184.12,167.1 184.24,173.6 184.54,179.1 184.66,173.6 184.96,163.6 185.08,173.6 185.38,177.4 185.50,173.6 185.80,168.2 185.92,173.6 186.22,178.7 186.34,173.6 186.64,169.1 186.76,173.6 187.06,178.1 187.18,173.6 187.48,165.8 187.60,173.6 187.90,178.5 188.02,173.6 188.32,169.0 188.44,173.6 188.74,177.5 188.86,173.6 189.16,168.1 189.28,173.6 189.58,179.2 189.70,173.6 190.00,169.1 190.12,173.6 190.42,177.2 190.54,173.6 190.84,168.1 190.96,173.6 191.26,177.6 191.38,173.6 191.68,167.7 191.80,173.6 192.10,178.8 192.22,173.6 192.52,169.3 192.64,173.6 192.94,178.8 193.06,173.6 193.36,169.4 193.48,173.6 193.78,177.7 193.90,173.6 194.20,168.9 194.32,173.6 194.62,179.4 194.74,173.6 195.04,168.3 195.16,173.6 195.46,177.4 195.58,173.6 195.88,168.7 196.00,173.6 196.30,178.4 196.42,173.6 196.72,168.7 196.84,173.6 197.14,178.9 197.26,173.6 197.56,169.8 197.68,173.6 197.98,178.1 198.10,173.6 198.40,169.6 198.52,173.6 198.82,180.0 198.94,173.6 199.24,168.5 199.36,173.6 199.66,179.5 199.78,173.6 200.08,167.4 200.20,173.6 200.50,178.6 200.62,173.6 200.92,169.2 201.04,173.6 201.34,177.1 201.46,173.6 201.76,167.8 201.88,173.6 202.18,178.8 202.30,173.6 202.60,168.1 202.72,173.6 203.02,179.3 203.14,173.6 203.44,168.3 203.56,173.6 203.86,179.7 203.98,173.6 204.28,169.4 204.40,173.6 204.70,178.4 204.82,173.6 205.12,167.5 205.24,173.6 205.54,177.5 205.66,173.6 205.96,169.0 206.08,173.6 206.38,178.4 206.50,173.6 206.80,167.6 206.92,173.6 207.22,179.5 207.34,173.6 207.64,169.7 207.76,173.6 208.06,177.6 208.18,173.6 208.48,168.7 208.60,173.6 208.90,179.6 209.02,173.6 209.32,169.5 209.44,173.6 209.74,178.1 209.86,173.6 210.16,167.2 210.28,173.6 210.58,179.5 210.70,173.6 211.00,166.7 211.12,173.6 211.42,179.5 211.54,173.6 211.84,168.9 211.96,173.6 212.26,179.8 212.38,173.6 212.68,168.8 212.80,173.6 213.10,180.3 213.22,173.6 213.52,169.4 213.64,173.6 213.94,179.8 214.06,173.6 214.36,167.4 214.48,173.6 214.78,178.0 214.90,173.6 215.20,169.3 215.32,173.6 215.62,177.6 215.74,173.6 216.04,167.7 216.16,173.6 216.46,179.3 216.58,173.6 216.88,165.5 217.00,173.6 217.30,179.4 217.42,173.6 217.72,168.1 217.84,173.6 218.14,178.6 218.26,173.6 218.56,168.9 218.68,173.6 218.98,178.9 219.10,173.6 219.40,167.9 219.52,173.6 219.82,179.4 219.94,173.6 220.24,168.9 220.36,173.6 220.66,178.3 220.78,173.6 221.08,169.2 221.20,173.6 221.50,178.0 221.62,173.6 221.92,168.4 222.04,173.6 222.34,178.6 222.46,173.6 222.76,169.5 222.88,173.6 223.18,178.5 223.30,173.6 223.60,168.4 223.72,173.6 224.02,179.2 224.14,173.6 224.44,168.8 224.56,173.6 224.86,180.3 224.98,173.6 225.28,168.9 225.40,173.6 225.70,179.1 225.82,173.6 226.12,167.3 226.24,173.6 226.54,178.0 226.66,173.6 226.96,169.8 227.08,173.6 227.38,178.7 227.50,173.6 227.80,168.9 227.92,173.6 228.22,177.8 228.34,173.6 228.64,168.2 228.76,173.6 229.06,177.8 229.18,173.6 229.48,168.7 229.60,173.6 229.90,177.4 230.02,173.6 230.32,168.6 230.44,173.6 230.74,177.5 230.86,173.6 231.16,169.0 231.28,173.6 231.58,179.2 231.70,173.6 232.00,168.8 232.12,173.6 232.42,178.7 232.54,173.6 232.84,169.5 232.96,173.6 233.26,178.4 233.38,173.6 233.68,168.1 233.80,173.6 234.10,178.7 234.22,173.6 234.52,168.4 234.64,173.6 234.94,178.8 235.06,173.6 235.36,169.8 235.48,173.6 235.78,179.1 235.90,173.6 236.20,165.5 236.32,173.6 236.62,179.0 236.74,173.6 237.04,168.7 237.16,173.6 237.46,179.7 237.58,173.6 237.88,169.7 238.00,173.6 238.30,179.9 238.42,173.6 238.72,167.2 238.84,173.6 239.14,179.4 239.26,173.6 239.56,170.0 239.68,173.6 239.98,177.1 240.10,173.6 240.40,168.2 240.52,173.6 240.82,178.3 240.94,173.6 241.24,169.1 241.36,173.6 241.66,177.2 241.78,173.6 242.08,168.2 242.20,173.6 242.50,177.2 242.62,173.6 242.92,167.6 243.04,173.6 243.34,179.1 243.46,173.6 243.76,167.4 243.88,173.6 244.18,179.4 244.30,173.6 244.60,167.7 244.72,173.6 245.02,179.9 245.14,173.6 245.44,167.4 245.56,173.6 245.86,178.3 245.98,173.6 246.28,167.4 246.40,173.6 246.70,178.9 246.82,173.6 247.12,170.0 247.24,173.6 247.54,177.3 247.66,173.6 247.96,169.4 248.08,173.6 248.38,177.6 248.50,173.6 248.80,168.0 248.92,173.6 249.22,177.5 249.34,173.6 249.64,170.0 249.76,173.6 250.06,179.3 250.18,173.6 250.48,168.0 250.60,173.6 250.90,177.5 251.02,173.6 251.32,169.1 251.44,173.6 251.74,178.9 251.86,173.6 252.16,167.0 252.28,173.6 252.58,178.9 252.70,173.6 253.00,169.3 253.12,173.6 253.42,178.8 253.54,173.6 253.84,166.8 253.96,173.6 254.26,180.8 254.38,173.6 254.68,168.0 254.80,173.6 255.10,179.9 255.22,173.6 255.52,170.0 255.64,173.6 255.94,179.4 256.06,173.6 256.36,167.4 256.48,173.6 256.78,180.0 256.90,173.6 257.20,167.9 257.32,173.6 257.62,178.3 257.74,173.6 258.04,169.7 258.16,173.6 258.46,178.1 258.58,173.6 258.88,169.1 259.00,173.6 259.30,178.8 259.42,173.6 259.72,169.8 259.84,173.6 260.14,179.8 260.26,173.6 260.56,169.8 260.68,173.6 260.98,180.0 261.10,173.6 261.40,169.1 261.52,173.6 261.82,178.1 261.94,173.6 262.24,167.8 262.36,173.6 262.66,179.5 262.78,173.6 263.08,168.0 263.20,173.6 263.50,179.3 263.62,173.6 263.92,168.1 264.04,173.6 264.34,178.8 264.46,173.6 264.76,169.8 264.88,173.6 265.18,177.3 265.30,173.6 265.60,168.1 265.72,173.6 266.02,179.7 266.14,173.6 266.44,168.8 266.56,173.6 266.86,180.0 266.98,173.6 267.28,167.4 267.40,173.6 267.70,180.2 267.82,173.6 268.12,167.7 268.24,173.6 268.54,179.2 268.66,173.6 268.96,169.6 269.08,173.6 269.38,179.6 269.50,173.6 269.80,169.4 269.92,173.6 270.22,179.0 270.34,173.6 270.64,170.0 270.76,173.6 271.06,177.5 271.18,173.6 271.48,168.7 271.60,173.6 271.90,178.0 272.02,173.6 272.32,168.0 272.44,173.6 272.74,177.8 272.86,173.6 273.16,169.3 273.28,173.6 273.58,179.5 273.70,173.6 274.00,169.5 274.12,173.6 274.42,179.2 274.54,173.6 274.84,167.9 274.96,173.6 275.26,178.5 275.38,173.6 275.68,168.4 275.80,173.6 276.10,177.7 276.22,173.6 276.52,169.8 276.64,173.6 276.94,178.4 277.06,173.6 277.36,168.9 277.48,173.6 277.78,178.5 277.90,173.6 278.20,168.7 278.32,173.6 278.62,177.4 278.74,173.6 279.04,168.3 279.16,173.6 279.46,178.7 279.58,173.6 279.88,167.7 280.00,173.6 280.30,179.6 280.42,173.6 280.72,169.0 280.84,173.6 281.14,178.3 281.26,173.6 281.56,167.5 281.68,173.6 281.98,179.0 282.10,173.6 282.40,169.5 282.52,173.6 282.82,178.1 282.94,173.6 283.24,168.4 283.36,173.6 283.66,179.2 283.78,173.6 284.08,168.6 284.20,173.6 284.50,177.7 284.62,173.6 284.92,168.9 285.04,173.6 285.34,177.6 285.46,173.6 285.76,168.4 285.88,173.6 286.18,179.1 286.30,173.6 286.60,169.1 286.72,173.6 287.02,179.5 287.14,173.6 287.44,169.2 287.56,173.6 287.86,179.2 287.98,173.6 288.28,166.6 288.40,173.6 288.70,179.9 288.82,173.6 289.12,168.6 289.24,173.6 289.54,179.2 289.66,173.6 289.96,169.2 290.08,173.6 290.38,177.3 290.50,173.6 290.80,168.8 290.92,173.6 291.22,177.1 291.34,173.6 291.64,169.4 291.76,173.6 292.06,179.8 292.18,173.6 292.48,168.5 292.60,173.6 292.90,179.9 293.02,173.6 293.32,167.9 293.44,173.6 293.74,180.4 293.86,173.6 294.16,169.1 294.28,173.6 294.58,180.5 294.70,173.6 295.00,168.6 295.12,173.6 295.42,180.1 295.54,173.6 295.84,167.1 295.96,173.6 296.26,177.7 296.38,173.6 296.68,168.4 296.80,173.6 297.10,177.9 297.22,173.6 297.52,169.4 297.64,173.6 297.94,180.5 298.06,173.6 298.36,170.0 298.48,173.6 298.78,179.1 298.90,173.6 299.20,167.3 299.32,173.6 299.62,178.1 299.74,173.6 300.04,166.5 300.16,173.6 300.46,179.7 300.58,173.6 300.88,168.4 301.00,173.6 301.30,179.5 301.42,173.6 301.72,168.8 301.84,173.6 302.14,177.3 302.26,173.6 302.56,167.8 302.68,173.6 302.98,178.8 303.10,173.6 303.40,169.1 303.52,173.6 303.82,179.1 303.94,173.6 304.24,169.9 304.36,173.6 304.66,178.1 304.78,173.6 305.08,167.8 305.20,173.6 305.50,178.4 305.62,173.6 305.92,169.7 306.04,173.6 306.34,178.9 306.46,173.6 306.76,167.9 306.88,173.6 307.18,178.0 307.30,173.6 307.60,168.4 307.72,173.6 308.02,178.7 308.14,173.6 308.44,170.0 308.56,173.6 308.86,180.0 308.98,173.6 309.28,169.3 309.40,173.6 309.70,179.3 309.82,173.6 310.12,168.9 310.24,173.6 310.54,178.0 310.66,173.6 310.96,168.8 311.08,173.6 311.38,178.1 311.50,173.6 311.80,168.4 311.92,173.6 312.22,177.6 312.34,173.6 312.64,169.6 312.76,173.6 313.06,178.2 313.18,173.6 313.48,167.7 313.60,173.6 313.90,179.1 314.02,173.6 314.32,168.8 314.44,173.6 314.74,178.1 314.86,173.6 315.16,168.1 315.28,173.6 315.58,178.9 315.70,173.6 316.00,167.9 316.12,173.6 316.42,177.6 316.54,173.6 316.84,169.9 316.96,173.6 317.26,178.8 317.38,173.6 317.68,168.6 317.80,173.6 318.10,179.3 318.22,173.6 318.52,166.7 318.64,173.6 318.94,177.8 319.06,173.6 319.36,169.4 319.48,173.6 319.78,178.5 319.90,173.6 320.20,168.0 320.32,173.6 320.62,179.3 320.74,173.6 321.04,169.6 321.16,173.6 321.46,179.0 321.58,173.6 321.88,168.2 322.00,173.6 322.30,178.7 322.42,173.6 322.72,169.2 322.84,173.6 323.14,177.6 323.26,173.6 323.56,169.9 323.68,173.6 323.98,177.3 324.10,173.6 324.40,168.6 324.52,173.6 324.82,179.2 324.94,173.6 325.24,169.4 325.36,173.6 325.66,178.3 325.78,173.6 326.08,168.1 326.20,173.6 326.50,178.0 326.62,173.6 326.92,169.0 327.04,173.6 327.34,179.8 327.46,173.6 327.76,169.9 327.88,173.6 328.18,179.6 328.30,173.6 328.60,169.4 328.72,173.6 329.02,178.5 329.14,173.6 329.44,169.4 329.56,173.6 329.86,178.5 329.98,173.6 330.28,169.3 330.40,173.6 330.70,178.4 330.82,173.6 331.12,168.3 331.24,173.6 331.54,177.2 331.66,173.6 331.96,169.0 332.08,173.6 332.38,177.3 332.50,173.6 332.80,169.9 332.92,173.6 333.22,177.2 333.34,173.6 333.64,169.1 333.76,173.6 334.06,177.4 334.18,173.6 334.48,167.7 334.60,173.6 334.90,177.3 335.02,173.6 335.32,168.9 335.44,173.6 335.74,179.4 335.86,173.6 336.16,167.9 336.28,173.6 336.58,177.9 336.70,173.6 337.00,169.8 337.12,173.6 337.42,180.0 337.54,173.6 337.84,169.3 337.96,173.6 338.26,178.0 338.38,173.6 338.68,165.2 338.80,173.6 339.10,177.9 339.22,173.6 339.52,167.0 339.64,173.6 339.94,179.7 340.06,173.6 340.36,168.6 340.48,173.6 340.78,179.8 340.90,173.6 341.20,168.6 341.32,173.6 341.62,178.0 341.74,173.6 342.04,166.4 342.16,173.6 342.46,180.1 342.58,173.6 342.88,168.5 343.00,173.6 343.30,180.2 343.42,173.6 343.72,168.0 343.84,173.6 344.14,179.6 344.26,173.6 344.56,169.7 344.68,173.6 344.98,177.8 345.10,173.6 345.40,168.5 345.52,173.6 345.82,179.7 345.94,173.6 346.24,169.5 346.36,173.6 346.66,181.2 346.78,173.6 347.08,169.0 347.20,173.6 347.50,177.3 347.62,173.6 347.92,167.9 348.04,173.6 348.34,178.5 348.46,173.6 348.76,167.9 348.88,173.6 349.18,178.0 349.30,173.6 349.60,167.6 349.72,173.6 350.02,179.2 350.14,173.6 350.44,169.5 350.56,173.6 350.86,177.4 350.98,173.6 351.28,168.4 351.40,173.6 351.70,179.6 351.82,173.6 352.12,166.1 352.24,173.6 352.54,177.8 352.66,173.6 352.96,169.8 353.08,173.6 353.38,179.5 353.50,173.6 353.80,167.7 353.92,173.6 354.22,177.6 354.34,173.6 354.64,169.3 354.76,173.6 355.06,178.4 355.18,173.6 355.48,167.5 355.60,173.6 355.90,178.0 356.02,173.6 356.32,167.3 356.44,173.6 356.74,177.6 356.86,173.6 357.16,169.2 357.28,173.6 357.58,178.4 357.70,173.6 358.00,167.9 358.12,173.6 358.42,177.6 358.54,173.6 358.84,168.8 358.96,173.6 359.26,179.3 359.38,173.6 359.68,169.9 359.80,173.6 360.10,177.6 360.22,173.6 360.52,168.8 360.64,173.6 360.94,178.0 361.06,173.6 361.36,168.1 361.48,173.6 361.78,178.0 361.90,173.6 362.20,168.5 362.32,173.6 362.62,179.0 362.74,173.6 363.04,169.8 363.16,173.6 363.46,178.0 363.58,173.6 363.88,169.4 364.00,173.6 364.30,177.4 364.42,173.6 364.72,168.8 364.84,173.6 365.14,178.0 365.26,173.6 365.56,169.6 365.68,173.6 365.98,178.3 366.10,173.6 366.40,168.0 366.52,173.6 366.82,177.4 366.94,173.6 367.24,168.0 367.36,173.6 367.66,178.5 367.78,173.6 368.08,165.2 368.20,173.6 368.50,178.5 368.62,173.6 368.92,167.5 369.04,173.6 369.34,178.6 369.46,173.6 369.76,166.9 369.88,173.6 370.18,178.9 370.30,173.6 370.60,169.6 370.72,173.6 371.02,177.9 371.14,173.6 371.44,167.6 371.56,173.6 371.86,179.9 371.98,173.6 372.28,167.4 372.40,173.6 372.70,178.8 372.82,173.6 373.12,169.8 373.24,173.6 373.54,179.1 373.66,173.6 373.96,169.3 374.08,173.6 374.38,178.0 374.50,173.6 374.80,169.4 374.92,173.6 375.22,179.2 375.34,173.6 375.64,168.2 375.76,173.6 376.06,179.0 376.18,173.6 376.48,167.8 376.60,173.6 376.90,177.5 377.02,173.6 377.32,167.4 377.44,173.6 377.74,179.7 377.86,173.6 378.16,168.0 378.28,173.6 378.58,179.9 378.70,173.6 379.00,169.6 379.12,173.6 379.42,178.5 379.54,173.6" fill="none" stroke="#000" stroke-width="0.6"/>
<line x1="21.5" y1="234.5" x2="21.5" y2="302.5" stroke="#444" stroke-width="1.1"/>
<line x1="37.5" y1="231.25" x2="37.5" y2="301.25" stroke="#444" stroke-width="1.1"/>
<line x1="50.5" y1="228.75" x2="50.5" y2="297.5" stroke="#444" stroke-width="1.1"/>
<line x1="66.5" y1="230.5" x2="66.5" y2="297.5" stroke="#444" stroke-width="1.1"/>
<line x1="78.5" y1="232.5" x2="78.5" y2="302.5" stroke="#444" stroke-width="1.1"/>
<line x1="92.5" y1="230" x2="92.5" y2="295" stroke="#444" stroke-width="1.1"/>
<line x1="104.5" y1="232.5" x2="104.5" y2="298" stroke="#444" stroke-width="1.1"/>
<line x1="118.5" y1="233.25" x2="118.5" y2="303" stroke="#444" stroke-width="1.1"/>
<line x1="130.5" y1="230" x2="130.5" y2="296.25" stroke="#444" stroke-width="1.1"/>
<line x1="142.5" y1="233" x2="142.5" y2="295" stroke="#444" stroke-width="1.1"/>
<line x1="154.5" y1="233" x2="154.5" y2="296.25" stroke="#444" stroke-width="1.1"/>
<line x1="163.5" y1="235" x2="163.5" y2="303" stroke="#444" stroke-width="1.1"/>
<line x1="176.5" y1="233.25" x2="176.5" y2="301.25" stroke="#444" stroke-width="1.1"/>
<line x1="188.5" y1="230" x2="188.5" y2="295" stroke="#444" stroke-width="1.1"/>
<line x1="202.5" y1="233.75" x2="202.5" y2="301.25" stroke="#444" stroke-width="1.1"/>
<line x1="213.5" y1="233.25" x2="213.5" y2="298.75" stroke="#444" stroke-width="1.1"/>
<line x1="223.5" y1="233.25" x2="223.5" y2="300" stroke="#444" stroke-width="1.1"/>
<line x1="237.5" y1="231.25" x2="237.5" y2="297.5" stroke="#444" stroke-width="1.1"/>
<line x1="247.5" y1="233.25" x2="247.5" y2="297" stroke="#444" stroke-width="1.1"/>
<line x1="257.5" y1="232" x2="257.5" y2="300.5" stroke="#444" stroke-width="1.1"/>
<line x1="268.5" y1="232.5" x2="268.5" y2="302" stroke="#444" stroke-width="1.1"/>
<line x1="278.5" y1="235" x2="278.5" y2="296.25" stroke="#444" stroke-width="1.1"/>
<line x1="288.5" y1="232.5" x2="288.5" y2="296.25" stroke="#444" stroke-width="1.1"/>
<line x1="299.5" y1="231.25" x2="299.5" y2="297" stroke="#444" stroke-width="1.1"/>
<line x1="307.5" y1="232.5" x2="307.5" y2="287.5" stroke="#444" stroke-width="1.1"/>
<line x1="319.5" y1="230.5" x2="319.5" y2="297" stroke="#444" stroke-width="1.1"/>
<line x1="329.5" y1="234.5" x2="329.5" y2="297.5" stroke="#444" stroke-width="1.1"/>
<line x1="340.5" y1="230" x2="340.5" y2="297.5" stroke="#444" stroke-width="1.1"/>
<line x1="349.5" y1="237" x2="349.5" y2="298.75" stroke="#444" stroke-width="1.1"/>
<line x1="361.5" y1="235" x2="361.5" y2="295" stroke="#444" stroke-width="1.1"/>
<line x1="372.5" y1="236.25" x2="372.5" y2="297.5" stroke="#444" stroke-width="1.1"/>
<rect x="17.8" y="269.30" width="362.2" height="8.20" fill="#000"/>
<polyline points="17.80,266.8 17.92,273.4 18.22,278.3 18.34,273.4 18.64,268.5 18.76,273.4 19.06,278.0 19.18,273.4 19.48,268.6 19.60,273.4 19.90,278.8 20.02,273.4 20.32,265.7 20.44,273.4 20.74,278.0 20.86,273.4 21.16,267.0 21.28,273.4 21.58,279.8 21.70,273.4 22.00,266.6 22.12,273.4 22.42,278.4 22.54,273.4 22.84,267.7 22.96,273.4 23.26,279.4 23.38,273.4 23.68,268.0 23.80,273.4 24.10,278.7 24.22,273.4 24.52,266.5 24.64,273.4 24.94,280.8 25.06,273.4 25.36,267.4 25.48,273.4 25.78,278.0 25.90,273.4 26.20,267.9 26.32,273.4 26.62,278.1 26.74,273.4 27.04,268.6 27.16,273.4 27.46,279.0 27.58,273.4 27.88,268.9 28.00,273.4 28.30,278.1 28.42,273.4 28.72,268.8 28.84,273.4 29.14,277.7 29.26,273.4 29.56,266.9 29.68,273.4 29.98,279.5 30.10,273.4 30.40,269.1 30.52,273.4 30.82,279.9 30.94,273.4 31.24,267.2 31.36,273.4 31.66,278.9 31.78,273.4 32.08,266.4 32.20,273.4 32.50,278.3 32.62,273.4 32.92,268.0 33.04,273.4 33.34,278.0 33.46,273.4 33.76,267.3 33.88,273.4 34.18,278.3 34.30,273.4 34.60,267.3 34.72,273.4 35.02,278.8 35.14,273.4 35.44,268.0 35.56,273.4 35.86,278.2 35.98,273.4 36.28,268.8 36.40,273.4 36.70,277.8 36.82,273.4 37.12,266.9 37.24,273.4 37.54,277.7 37.66,273.4 37.96,267.7 38.08,273.4 38.38,277.5 38.50,273.4 38.80,268.7 38.92,273.4 39.22,278.7 39.34,273.4 39.64,268.9 39.76,273.4 40.06,279.0 40.18,273.4 40.48,269.3 40.60,273.4 40.90,279.3 41.02,273.4 41.32,267.5 41.44,273.4 41.74,279.7 41.86,273.4 42.16,269.2 42.28,273.4 42.58,280.4 42.70,273.4 43.00,268.4 43.12,273.4 43.42,280.3 43.54,273.4 43.84,267.2 43.96,273.4 44.26,278.5 44.38,273.4 44.68,268.5 44.80,273.4 45.10,277.7 45.22,273.4 45.52,268.9 45.64,273.4 45.94,283.1 46.06,273.4 46.36,268.5 46.48,273.4 46.78,279.6 46.90,273.4 47.20,268.2 47.32,273.4 47.62,278.1 47.74,273.4 48.04,268.8 48.16,273.4 48.46,278.4 48.58,273.4 48.88,266.5 49.00,273.4 49.30,278.9 49.42,273.4 49.72,266.1 49.84,273.4 50.14,277.7 50.26,273.4 50.56,268.7 50.68,273.4 50.98,278.9 51.10,273.4 51.40,267.0 51.52,273.4 51.82,277.5 51.94,273.4 52.24,265.7 52.36,273.4 52.66,279.6 52.78,273.4 53.08,267.8 53.20,273.4 53.50,278.4 53.62,273.4 53.92,266.9 54.04,273.4 54.34,279.3 54.46,273.4 54.76,267.8 54.88,273.4 55.18,279.4 55.30,273.4 55.60,266.8 55.72,273.4 56.02,277.9 56.14,273.4 56.44,267.1 56.56,273.4 56.86,278.4 56.98,273.4 57.28,268.4 57.40,273.4 57.70,280.9 57.82,273.4 58.12,268.9 58.24,273.4 58.54,280.0 58.66,273.4 58.96,267.0 59.08,273.4 59.38,279.3 59.50,273.4 59.80,267.2 59.92,273.4 60.22,279.6 60.34,273.4 60.64,268.4 60.76,273.4 61.06,278.8 61.18,273.4 61.48,267.3 61.60,273.4 61.90,279.3 62.02,273.4 62.32,268.4 62.44,273.4 62.74,278.2 62.86,273.4 63.16,267.0 63.28,273.4 63.58,280.2 63.70,273.4 64.00,267.8 64.12,273.4 64.42,279.0 64.54,273.4 64.84,267.5 64.96,273.4 65.26,278.9 65.38,273.4 65.68,268.5 65.80,273.4 66.10,277.7 66.22,273.4 66.52,268.6 66.64,273.4 66.94,279.6 67.06,273.4 67.36,266.4 67.48,273.4 67.78,279.2 67.90,273.4 68.20,268.6 68.32,273.4 68.62,279.3 68.74,273.4 69.04,263.2 69.16,273.4 69.46,277.9 69.58,273.4 69.88,268.8 70.00,273.4 70.30,278.8 70.42,273.4 70.72,268.6 70.84,273.4 71.14,279.1 71.26,273.4 71.56,265.5 71.68,273.4 71.98,279.6 72.10,273.4 72.40,268.6 72.52,273.4 72.82,279.6 72.94,273.4 73.24,266.6 73.36,273.4 73.66,277.9 73.78,273.4 74.08,266.6 74.20,273.4 74.50,279.9 74.62,273.4 74.92,267.3 75.04,273.4 75.34,279.2 75.46,273.4 75.76,268.9 75.88,273.4 76.18,279.2 76.30,273.4 76.60,267.4 76.72,273.4 77.02,279.1 77.14,273.4 77.44,266.5 77.56,273.4 77.86,280.3 77.98,273.4 78.28,267.1 78.40,273.4 78.70,281.0 78.82,273.4 79.12,265.5 79.24,273.4 79.54,280.3 79.66,273.4 79.96,266.4 80.08,273.4 80.38,277.9 80.50,273.4 80.80,267.4 80.92,273.4 81.22,280.7 81.34,273.4 81.64,267.4 81.76,273.4 82.06,279.7 82.18,273.4 82.48,268.9 82.60,273.4 82.90,278.1 83.02,273.4 83.32,268.2 83.44,273.4 83.74,278.3 83.86,273.4 84.16,268.2 84.28,273.4 84.58,280.8 84.70,273.4 85.00,268.8 85.12,273.4 85.42,277.8 85.54,273.4 85.84,268.4 85.96,273.4 86.26,277.6 86.38,273.4 86.68,269.1 86.80,273.4 87.10,279.7 87.22,273.4 87.52,266.9 87.64,273.4 87.94,280.0 88.06,273.4 88.36,266.4 88.48,273.4 88.78,277.7 88.90,273.4 89.20,267.5 89.32,273.4 89.62,280.0 89.74,273.4 90.04,267.0 90.16,273.4 90.46,279.0 90.58,273.4 90.88,268.3 91.00,273.4 91.30,279.5 91.42,273.4 91.72,268.2 91.84,273.4 92.14,278.0 92.26,273.4 92.56,268.5 92.68,273.4 92.98,281.4 93.10,273.4 93.40,265.9 93.52,273.4 93.82,278.9 93.94,273.4 94.24,267.3 94.36,273.4 94.66,280.5 94.78,273.4 95.08,267.5 95.20,273.4 95.50,278.5 95.62,273.4 95.92,264.2 96.04,273.4 96.34,277.9 96.46,273.4 96.76,266.6 96.88,273.4 97.18,279.0 97.30,273.4 97.60,266.2 97.72,273.4 98.02,278.4 98.14,273.4 98.44,264.4 98.56,273.4 98.86,279.9 98.98,273.4 99.28,268.9 99.40,273.4 99.70,279.4 99.82,273.4 100.12,266.3 100.24,273.4 100.54,279.4 100.66,273.4 100.96,267.7 101.08,273.4 101.38,279.9 101.50,273.4 101.80,264.8 101.92,273.4 102.22,278.5 102.34,273.4 102.64,268.5 102.76,273.4 103.06,278.5 103.18,273.4 103.48,267.9 103.60,273.4 103.90,279.3 104.02,273.4 104.32,268.0 104.44,273.4 104.74,279.3 104.86,273.4 105.16,267.0 105.28,273.4 105.58,279.1 105.70,273.4 106.00,268.5 106.12,273.4 106.42,279.1 106.54,273.4 106.84,269.1 106.96,273.4 107.26,280.0 107.38,273.4 107.68,266.4 107.80,273.4 108.10,280.2 108.22,273.4 108.52,267.3 108.64,273.4 108.94,278.9 109.06,273.4 109.36,266.9 109.48,273.4 109.78,278.9 109.90,273.4 110.20,267.2 110.32,273.4 110.62,279.6 110.74,273.4 111.04,268.1 111.16,273.4 111.46,277.9 111.58,273.4 111.88,269.0 112.00,273.4 112.30,279.2 112.42,273.4 112.72,266.7 112.84,273.4 113.14,279.1 113.26,273.4 113.56,266.9 113.68,273.4 113.98,278.3 114.10,273.4 114.40,268.0 114.52,273.4 114.82,280.0 114.94,273.4 115.24,269.2 115.36,273.4 115.66,278.1 115.78,273.4 116.08,267.9 116.20,273.4 116.50,277.9 116.62,273.4 116.92,264.8 117.04,273.4 117.34,278.3 117.46,273.4 117.76,267.0 117.88,273.4 118.18,278.8 118.30,273.4 118.60,268.6 118.72,273.4 119.02,277.9 119.14,273.4 119.44,269.0 119.56,273.4 119.86,278.2 119.98,273.4 120.28,266.2 120.40,273.4 120.70,280.1 120.82,273.4 121.12,266.7 121.24,273.4 121.54,278.2 121.66,273.4 121.96,266.7 122.08,273.4 122.38,278.2 122.50,273.4 122.80,267.2 122.92,273.4 123.22,280.3 123.34,273.4 123.64,268.9 123.76,273.4 124.06,279.5 124.18,273.4 124.48,267.0 124.60,273.4 124.90,278.7 125.02,273.4 125.32,266.6 125.44,273.4 125.74,279.2 125.86,273.4 126.16,266.8 126.28,273.4 126.58,278.6 126.70,273.4 127.00,267.4 127.12,273.4 127.42,278.7 127.54,273.4 127.84,266.1 127.96,273.4 128.26,277.5 128.38,273.4 128.68,267.0 128.80,273.4 129.10,278.5 129.22,273.4 129.52,266.8 129.64,273.4 129.94,278.1 130.06,273.4 130.36,267.8 130.48,273.4 130.78,280.3 130.90,273.4 131.20,268.1 131.32,273.4 131.62,279.6 131.74,273.4 132.04,268.7 132.16,273.4 132.46,280.3 132.58,273.4 132.88,266.9 133.00,273.4 133.30,280.0 133.42,273.4 133.72,267.9 133.84,273.4 134.14,278.9 134.26,273.4 134.56,266.2 134.68,273.4 134.98,281.0 135.10,273.4 135.40,265.4 135.52,273.4 135.82,280.0 135.94,273.4 136.24,266.8 136.36,273.4 136.66,278.8 136.78,273.4 137.08,267.5 137.20,273.4 137.50,278.4 137.62,273.4 137.92,267.8 138.04,273.4 138.34,278.7 138.46,273.4 138.76,267.5 138.88,273.4 139.18,279.1 139.30,273.4 139.60,267.0 139.72,273.4 140.02,278.0 140.14,273.4 140.44,262.9 140.56,273.4 140.86,277.6 140.98,273.4 141.28,268.0 141.40,273.4 141.70,280.2 141.82,273.4 142.12,267.7 142.24,273.4 142.54,278.1 142.66,273.4 142.96,269.1 143.08,273.4 143.38,279.8 143.50,273.4 143.80,267.3 143.92,273.4 144.22,279.8 144.34,273.4 144.64,268.7 144.76,273.4 145.06,279.8 145.18,273.4 145.48,268.7 145.60,273.4 145.90,279.6 146.02,273.4 146.32,267.3 146.44,273.4 146.74,277.5 146.86,273.4 147.16,268.7 147.28,273.4 147.58,280.1 147.70,273.4 148.00,267.1 148.12,273.4 148.42,277.9 148.54,273.4 148.84,267.8 148.96,273.4 149.26,279.4 149.38,273.4 149.68,267.8 149.80,273.4 150.10,280.3 150.22,273.4 150.52,266.5 150.64,273.4 150.94,278.2 151.06,273.4 151.36,268.7 151.48,273.4 151.78,279.5 151.90,273.4 152.20,268.7 152.32,273.4 152.62,277.9 152.74,273.4 153.04,266.6 153.16,273.4 153.46,278.8 153.58,273.4 153.88,268.1 154.00,273.4 154.30,278.1 154.42,273.4 154.72,267.1 154.84,273.4 155.14,277.8 155.26,273.4 155.56,266.6 155.68,273.4 155.98,280.1 156.10,273.4 156.40,267.3 156.52,273.4 156.82,279.3 156.94,273.4 157.24,267.8 157.36,273.4 157.66,277.8 157.78,273.4 158.08,267.1 158.20,273.4 158.50,279.4 158.62,273.4 158.92,269.0 159.04,273.4 159.34,277.8 159.46,273.4 159.76,268.3 159.88,273.4 160.18,278.8 160.30,273.4 160.60,267.9 160.72,273.4 161.02,278.8 161.14,273.4 161.44,268.2 161.56,273.4 161.86,278.5 161.98,273.4 162.28,266.3 162.40,273.4 162.70,278.6 162.82,273.4 163.12,266.4 163.24,273.4 163.54,278.2 163.66,273.4 163.96,268.9 164.08,273.4 164.38,278.4 164.50,273.4 164.80,266.1 164.92,273.4 165.22,278.6 165.34,273.4 165.64,269.2 165.76,273.4 166.06,279.5 166.18,273.4 166.48,268.0 166.60,273.4 166.90,277.6 167.02,273.4 167.32,268.5 167.44,273.4 167.74,277.8 167.86,273.4 168.16,269.2 168.28,273.4 168.58,278.3 168.70,273.4 169.00,266.2 169.12,273.4 169.42,281.4 169.54,273.4 169.84,267.0 169.96,273.4 170.26,277.9 170.38,273.4 170.68,266.9 170.80,273.4 171.10,280.4 171.22,273.4 171.52,268.1 171.64,273.4 171.94,279.5 172.06,273.4 172.36,266.4 172.48,273.4 172.78,279.4 172.90,273.4 173.20,266.7 173.32,273.4 173.62,278.9 173.74,273.4 174.04,266.9 174.16,273.4 174.46,279.5 174.58,273.4 174.88,267.5 175.00,273.4 175.30,278.7 175.42,273.4 175.72,268.6 175.84,273.4 176.14,279.7 176.26,273.4 176.56,268.4 176.68,273.4 176.98,280.6 177.10,273.4 177.40,266.3 177.52,273.4 177.82,279.3 177.94,273.4 178.24,267.7 178.36,273.4 178.66,277.7 178.78,273.4 179.08,267.3 179.20,273.4 179.50,281.0 179.62,273.4 179.92,268.0 180.04,273.4 180.34,280.8 180.46,273.4 180.76,267.6 180.88,273.4 181.18,278.8 181.30,273.4 181.60,266.2 181.72,273.4 182.02,282.2 182.14,273.4 182.44,264.1 182.56,273.4 182.86,281.2 182.98,273.4 183.28,267.1 183.40,273.4 183.70,278.8 183.82,273.4 184.12,267.0 184.24,273.4 184.54,280.1 184.66,273.4 184.96,267.8 185.08,273.4 185.38,280.5 185.50,273.4 185.80,266.9 185.92,273.4 186.22,279.1 186.34,273.4 186.64,269.0 186.76,273.4 187.06,278.5 187.18,273.4 187.48,269.2 187.60,273.4 187.90,278.3 188.02,273.4 188.32,267.6 188.44,273.4 188.74,278.1 188.86,273.4 189.16,268.3 189.28,273.4 189.58,278.1 189.70,273.4 190.00,266.7 190.12,273.4 190.42,280.2 190.54,273.4 190.84,266.4 190.96,273.4 191.26,278.4 191.38,273.4 191.68,267.4 191.80,273.4 192.10,279.5 192.22,273.4 192.52,269.0 192.64,273.4 192.94,279.5 193.06,273.4 193.36,268.5 193.48,273.4 193.78,277.6 193.90,273.4 194.20,268.3 194.32,273.4 194.62,278.1 194.74,273.4 195.04,268.2 195.16,273.4 195.46,278.9 195.58,273.4 195.88,268.7 196.00,273.4 196.30,280.8 196.42,273.4 196.72,268.7 196.84,273.4 197.14,278.1 197.26,273.4 197.56,266.0 197.68,273.4 197.98,277.9 198.10,273.4 198.40,267.4 198.52,273.4 198.82,280.3 198.94,273.4 199.24,268.2 199.36,273.4 199.66,279.1 199.78,273.4 200.08,268.0 200.20,273.4 200.50,278.2 200.62,273.4 200.92,267.1 201.04,273.4 201.34,279.1 201.46,273.4 201.76,268.9 201.88,273.4 202.18,279.0 202.30,273.4 202.60,267.5 202.72,273.4 203.02,279.7 203.14,273.4 203.44,268.0 203.56,273.4 203.86,279.9 203.98,273.4 204.28,267.7 204.40,273.4 204.70,280.2 204.82,273.4 205.12,268.5 205.24,273.4 205.54,279.7 205.66,273.4 205.96,267.9 206.08,273.4 206.38,278.5 206.50,273.4 206.80,269.1 206.92,273.4 207.22,279.4 207.34,273.4 207.64,267.7 207.76,273.4 208.06,279.6 208.18,273.4 208.48,267.7 208.60,273.4 208.90,278.0 209.02,273.4 209.32,266.5 209.44,273.4 209.74,280.4 209.86,273.4 210.16,268.5 210.28,273.4 210.58,279.5 210.70,273.4 211.00,265.7 211.12,273.4 211.42,279.2 211.54,273.4 211.84,265.7 211.96,273.4 212.26,280.0 212.38,273.4 212.68,265.8 212.80,273.4 213.10,281.0 213.22,273.4 213.52,267.3 213.64,273.4 213.94,280.8 214.06,273.4 214.36,269.1 214.48,273.4 214.78,279.1 214.90,273.4 215.20,267.9 215.32,273.4 215.62,277.6 215.74,273.4 216.04,268.5 216.16,273.4 216.46,280.8 216.58,273.4 216.88,268.1 217.00,273.4 217.30,278.0 217.42,273.4 217.72,268.5 217.84,273.4 218.14,280.8 218.26,273.4 218.56,266.1 218.68,273.4 218.98,278.3 219.10,273.4 219.40,266.8 219.52,273.4 219.82,279.4 219.94,273.4 220.24,267.5 220.36,273.4 220.66,279.1 220.78,273.4 221.08,268.9 221.20,273.4 221.50,280.4 221.62,273.4 221.92,266.9 222.04,273.4 222.34,284.1 222.46,273.4 222.76,267.2 222.88,273.4 223.18,282.1 223.30,273.4 223.60,268.2 223.72,273.4 224.02,281.1 224.14,273.4 224.44,266.3 224.56,273.4 224.86,280.6 224.98,273.4 225.28,266.4 225.40,273.4 225.70,281.6 225.82,273.4 226.12,266.9 226.24,273.4 226.54,279.7 226.66,273.4 226.96,265.8 227.08,273.4 227.38,280.0 227.50,273.4 227.80,266.2 227.92,273.4 228.22,277.7 228.34,273.4 228.64,268.9 228.76,273.4 229.06,278.3 229.18,273.4 229.48,267.8 229.60,273.4 229.90,278.0 230.02,273.4 230.32,267.7 230.44,273.4 230.74,280.5 230.86,273.4 231.16,268.1 231.28,273.4 231.58,279.0 231.70,273.4 232.00,266.5 232.12,273.4 232.42,278.7 232.54,273.4 232.84,267.8 232.96,273.4 233.26,278.4 233.38,273.4 233.68,269.2 233.80,273.4 234.10,278.8 234.22,273.4 234.52,267.5 234.64,273.4 234.94,278.3 235.06,273.4 235.36,268.5 235.48,273.4 235.78,279.2 235.90,273.4 236.20,267.6 236.32,273.4 236.62,280.2 236.74,273.4 237.04,266.4 237.16,273.4 237.46,278.8 237.58,273.4 237.88,268.8 238.00,273.4 238.30,279.3 238.42,273.4 238.72,267.1 238.84,273.4 239.14,278.3 239.26,273.4 239.56,268.9 239.68,273.4 239.98,278.5 240.10,273.4 240.40,268.7 240.52,273.4 240.82,279.7 240.94,273.4 241.24,266.9 241.36,273.4 241.66,280.4 241.78,273.4 242.08,268.0 242.20,273.4 242.50,278.8 242.62,273.4 242.92,268.7 243.04,273.4 243.34,278.2 243.46,273.4 243.76,267.2 243.88,273.4 244.18,277.5 244.30,273.4 244.60,266.7 244.72,273.4 245.02,279.0 245.14,273.4 245.44,267.8 245.56,273.4 245.86,279.5 245.98,273.4 246.28,267.7 246.40,273.4 246.70,278.9 246.82,273.4 247.12,267.9 247.24,273.4 247.54,279.4 247.66,273.4 247.96,268.6 248.08,273.4 248.38,279.4 248.50,273.4 248.80,267.3 248.92,273.4 249.22,279.0 249.34,273.4 249.64,266.9 249.76,273.4 250.06,278.0 250.18,273.4 250.48,267.4 250.60,273.4 250.90,279.7 251.02,273.4 251.32,266.5 251.44,273.4 251.74,279.0 251.86,273.4 252.16,266.9 252.28,273.4 252.58,281.4 252.70,273.4 253.00,267.8 253.12,273.4 253.42,279.9 253.54,273.4 253.84,267.9 253.96,273.4 254.26,280.3 254.38,273.4 254.68,267.5 254.80,273.4 255.10,279.8 255.22,273.4 255.52,266.9 255.64,273.4 255.94,278.4 256.06,273.4 256.36,269.3 256.48,273.4 256.78,277.6 256.90,273.4 257.20,268.3 257.32,273.4 257.62,280.1 257.74,273.4 258.04,266.8 258.16,273.4 258.46,278.4 258.58,273.4 258.88,267.1 259.00,273.4 259.30,278.9 259.42,273.4 259.72,269.2 259.84,273.4 260.14,279.0 260.26,273.4 260.56,266.9 260.68,273.4 260.98,278.8 261.10,273.4 261.40,267.0 261.52,273.4 261.82,278.8 261.94,273.4 262.24,267.3 262.36,273.4 262.66,278.0 262.78,273.4 263.08,268.2 263.20,273.4 263.50,280.0 263.62,273.4 263.92,266.8 264.04,273.4 264.34,281.3 264.46,273.4 264.76,268.2 264.88,273.4 265.18,279.9 265.30,273.4 265.60,268.5 265.72,273.4 266.02,280.7 266.14,273.4 266.44,267.6 266.56,273.4 266.86,281.3 266.98,273.4 267.28,266.6 267.40,273.4 267.70,280.9 267.82,273.4 268.12,268.9 268.24,273.4 268.54,281.2 268.66,273.4 268.96,267.0 269.08,273.4 269.38,279.0 269.50,273.4 269.80,266.7 269.92,273.4 270.22,279.1 270.34,273.4 270.64,266.1 270.76,273.4 271.06,278.8 271.18,273.4 271.48,267.6 271.60,273.4 271.90,278.9 272.02,273.4 272.32,268.2 272.44,273.4 272.74,279.6 272.86,273.4 273.16,266.5 273.28,273.4 273.58,278.2 273.70,273.4 274.00,269.2 274.12,273.4 274.42,278.3 274.54,273.4 274.84,268.8 274.96,273.4 275.26,277.6 275.38,273.4 275.68,267.4 275.80,273.4 276.10,278.8 276.22,273.4 276.52,267.6 276.64,273.4 276.94,279.3 277.06,273.4 277.36,267.8 277.48,273.4 277.78,279.8 277.90,273.4 278.20,269.1 278.32,273.4 278.62,279.5 278.74,273.4 279.04,266.9 279.16,273.4 279.46,279.9 279.58,273.4 279.88,266.5 280.00,273.4 280.30,277.7 280.42,273.4 280.72,267.4 280.84,273.4 281.14,279.8 281.26,273.4 281.56,267.9 281.68,273.4 281.98,279.4 282.10,273.4 282.40,267.4 282.52,273.4 282.82,279.9 282.94,273.4 283.24,266.5 283.36,273.4 283.66,279.0 283.78,273.4 284.08,268.4 284.20,273.4 284.50,280.2 284.62,273.4 284.92,268.0 285.04,273.4 285.34,279.6 285.46,273.4 285.76,267.3 285.88,273.4 286.18,280.3 286.30,273.4 286.60,267.3 286.72,273.4 287.02,279.2 287.14,273.4 287.44,268.1 287.56,273.4 287.86,278.9 287.98,273.4 288.28,266.7 288.40,273.4 288.70,279.6 288.82,273.4 289.12,267.3 289.24,273.4 289.54,277.9 289.66,273.4 289.96,268.6 290.08,273.4 290.38,278.8 290.50,273.4 290.80,264.5 290.92,273.4 291.22,278.7 291.34,273.4 291.64,267.7 291.76,273.4 292.06,278.0 292.18,273.4 292.48,267.4 292.60,273.4 292.90,278.0 293.02,273.4 293.32,268.4 293.44,273.4 293.74,278.6 293.86,273.4 294.16,268.3 294.28,273.4 294.58,280.6 294.70,273.4 295.00,268.7 295.12,273.4 295.42,280.8 295.54,273.4 295.84,267.3 295.96,273.4 296.26,277.6 296.38,273.4 296.68,268.5 296.80,273.4 297.10,278.0 297.22,273.4 297.52,266.6 297.64,273.4 297.94,279.8 298.06,273.4 298.36,267.5 298.48,273.4 298.78,280.0 298.90,273.4 299.20,266.8 299.32,273.4 299.62,280.9 299.74,273.4 300.04,266.6 300.16,273.4 300.46,282.7 300.58,273.4 300.88,267.8 301.00,273.4 301.30,281.1 301.42,273.4 301.72,268.7 301.84,273.4 302.14,277.5 302.26,273.4 302.56,266.9 302.68,273.4 302.98,281.8 303.10,273.4 303.40,268.0 303.52,273.4 303.82,279.8 303.94,273.4 304.24,268.6 304.36,273.4 304.66,277.7 304.78,273.4 305.08,269.1 305.20,273.4 305.50,279.1 305.62,273.4 305.92,266.2 306.04,273.4 306.34,279.8 306.46,273.4 306.76,269.0 306.88,273.4 307.18,278.9 307.30,273.4 307.60,266.3 307.72,273.4 308.02,279.2 308.14,273.4 308.44,268.8 308.56,273.4 308.86,280.5 308.98,273.4 309.28,267.4 309.40,273.4 309.70,280.1 309.82,273.4 310.12,266.6 310.24,273.4 310.54,280.7 310.66,273.4 310.96,267.5 311.08,273.4 311.38,278.2 311.50,273.4 311.80,267.3 311.92,273.4 312.22,281.0 312.34,273.4 312.64,266.2 312.76,273.4 313.06,279.8 313.18,273.4 313.48,267.6 313.60,273.4 313.90,278.4 314.02,273.4 314.32,266.9 314.44,273.4 314.74,280.9 314.86,273.4 315.16,267.2 315.28,273.4 315.58,280.8 315.70,273.4 316.00,266.0 316.12,273.4 316.42,277.9 316.54,273.4 316.84,267.7 316.96,273.4 317.26,280.0 317.38,273.4 317.68,266.7 317.80,273.4 318.10,277.9 318.22,273.4 318.52,267.2 318.64,273.4 318.94,279.4 319.06,273.4 319.36,268.2 319.48,273.4 319.78,279.4 319.90,273.4 320.20,267.1 320.32,273.4 320.62,278.2 320.74,273.4 321.04,268.9 321.16,273.4 321.46,279.7 321.58,273.4 321.88,267.3 322.00,273.4 322.30,279.8 322.42,273.4 322.72,266.2 322.84,273.4 323.14,278.6 323.26,273.4 323.56,268.1 323.68,273.4 323.98,280.0 324.10,273.4 324.40,266.5 324.52,273.4 324.82,278.6 324.94,273.4 325.24,267.0 325.36,273.4 325.66,278.0 325.78,273.4 326.08,267.1 326.20,273.4 326.50,278.9 326.62,273.4 326.92,266.6 327.04,273.4 327.34,277.7 327.46,273.4 327.76,268.4 327.88,273.4 328.18,278.1 328.30,273.4 328.60,268.2 328.72,273.4 329.02,279.3 329.14,273.4 329.44,268.1 329.56,273.4 329.86,279.8 329.98,273.4 330.28,269.1 330.40,273.4 330.70,278.1 330.82,273.4 331.12,268.2 331.24,273.4 331.54,278.5 331.66,273.4 331.96,268.8 332.08,273.4 332.38,277.8 332.50,273.4 332.80,268.1 332.92,273.4 333.22,279.4 333.34,273.4 333.64,268.4 333.76,273.4 334.06,279.5 334.18,273.4 334.48,267.4 334.60,273.4 334.90,279.3 335.02,273.4 335.32,268.7 335.44,273.4 335.74,280.1 335.86,273.4 336.16,268.0 336.28,273.4 336.58,278.7 336.70,273.4 337.00,268.8 337.12,273.4 337.42,279.0 337.54,273.4 337.84,268.4 337.96,273.4 338.26,279.1 338.38,273.4 338.68,266.8 338.80,273.4 339.10,278.3 339.22,273.4 339.52,267.0 339.64,273.4 339.94,278.1 340.06,273.4 340.36,267.3 340.48,273.4 340.78,280.3 340.90,273.4 341.20,266.1 341.32,273.4 341.62,279.1 341.74,273.4 342.04,265.9 342.16,273.4 342.46,280.3 342.58,273.4 342.88,267.5 343.00,273.4 343.30,278.9 343.42,273.4 343.72,266.7 343.84,273.4 344.14,280.7 344.26,273.4 344.56,266.5 344.68,273.4 344.98,278.0 345.10,273.4 345.40,267.1 345.52,273.4 345.82,279.2 345.94,273.4 346.24,267.6 346.36,273.4 346.66,279.9 346.78,273.4 347.08,266.6 347.20,273.4 347.50,279.2 347.62,273.4 347.92,267.7 348.04,273.4 348.34,278.7 348.46,273.4 348.76,267.8 348.88,273.4 349.18,278.2 349.30,273.4 349.60,266.6 349.72,273.4 350.02,279.7 350.14,273.4 350.44,268.9 350.56,273.4 350.86,280.7 350.98,273.4 351.28,266.3 351.40,273.4 351.70,279.2 351.82,273.4 352.12,265.8 352.24,273.4 352.54,281.0 352.66,273.4 352.96,266.8 353.08,273.4 353.38,278.2 353.50,273.4 353.80,268.0 353.92,273.4 354.22,281.0 354.34,273.4 354.64,268.7 354.76,273.4 355.06,280.1 355.18,273.4 355.48,265.8 355.60,273.4 355.90,279.7 356.02,273.4 356.32,269.1 356.44,273.4 356.74,280.2 356.86,273.4 357.16,265.6 357.28,273.4 357.58,279.9 357.70,273.4 358.00,266.7 358.12,273.4 358.42,280.3 358.54,273.4 358.84,267.3 358.96,273.4 359.26,280.1 359.38,273.4 359.68,267.1 359.80,273.4 360.10,278.7 360.22,273.4 360.52,268.7 360.64,273.4 360.94,279.3 361.06,273.4 361.36,267.3 361.48,273.4 361.78,278.5 361.90,273.4 362.20,266.4 362.32,273.4 362.62,280.2 362.74,273.4 363.04,266.3 363.16,273.4 363.46,279.9 363.58,273.4 363.88,266.5 364.00,273.4 364.30,279.0 364.42,273.4 364.72,267.5 364.84,273.4 365.14,279.2 365.26,273.4 365.56,266.7 365.68,273.4 365.98,279.0 366.10,273.4 366.40,269.1 366.52,273.4 366.82,278.7 366.94,273.4 367.24,266.9 367.36,273.4 367.66,279.4 367.78,273.4 368.08,268.1 368.20,273.4 368.50,279.6 368.62,273.4 368.92,268.1 369.04,273.4 369.34,279.3 369.46,273.4 369.76,266.9 369.88,273.4 370.18,280.0 370.30,273.4 370.60,267.6 370.72,273.4 371.02,277.7 371.14,273.4 371.44,267.2 371.56,273.4 371.86,280.2 371.98,273.4 372.28,267.3 372.40,273.4 372.70,279.4 372.82,273.4 373.12,266.9 373.24,273.4 373.54,277.6 373.66,273.4 373.96,268.5 374.08,273.4 374.38,277.9 374.50,273.4 374.80,269.2 374.92,273.4 375.22,279.8 375.34,273.4 375.64,267.5 375.76,273.4 376.06,278.5 376.18,273.4 376.48,268.8 376.60,273.4 376.90,279.8 377.02,273.4 377.32,269.2 377.44,273.4 377.74,278.0 377.86,273.4 378.16,269.2 378.28,273.4 378.58,280.0 378.70,273.4 379.00,268.6 379.12,273.4 379.42,277.9 379.54,273.4 379.84,267.3 379.96,273.4" fill="none" stroke="#000" stroke-width="0.6"/>
<line x1="440.5" y1="37.5" x2="440.5" y2="100" stroke="#444" stroke-width="1.1"/>
<line x1="455.5" y1="35.75" x2="455.5" y2="100" stroke="#444" stroke-width="1.1"/>
<line x1="475.5" y1="35" x2="475.5" y2="104.5" stroke="#444" stroke-width="1.1"/>
<line x1="491.5" y1="35.75" x2="491.5" y2="103.75" stroke="#444" stroke-width="1.1"/>
<line x1="505.5" y1="35" x2="505.5" y2="103" stroke="#444" stroke-width="1.1"/>
<line x1="522.5" y1="34.25" x2="522.5" y2="106.25" stroke="#444" stroke-width="1.1"/>
<line x1="536.5" y1="35.75" x2="536.5" y2="104.5" stroke="#444" stroke-width="1.1"/>
<line x1="554.5" y1="40.75" x2="554.5" y2="103.75" stroke="#444" stroke-width="1.1"/>
<line x1="570.5" y1="38.75" x2="570.5" y2="104.5" stroke="#444" stroke-width="1.1"/>
<line x1="592.5" y1="32.5" x2="592.5" y2="105" stroke="#444" stroke-width="1.1"/>
<line x1="603.5" y1="40.75" x2="603.5" y2="102.5" stroke="#444" stroke-width="1.1"/>
<line x1="618.5" y1="38" x2="618.5" y2="101.25" stroke="#444" stroke-width="1.1"/>
<line x1="632.5" y1="40.75" x2="632.5" y2="102.5" stroke="#444" stroke-width="1.1"/>
<line x1="647.5" y1="39.25" x2="647.5" y2="102.5" stroke="#444" stroke-width="1.1"/>
<line x1="672.5" y1="35" x2="672.5" y2="102.5" stroke="#444" stroke-width="1.1"/>
<line x1="688.5" y1="32.5" x2="688.5" y2="103.75" stroke="#444" stroke-width="1.1"/>
<line x1="703.5" y1="38.75" x2="703.5" y2="103.75" stroke="#444" stroke-width="1.1"/>
<line x1="716.5" y1="35.75" x2="716.5" y2="102.5" stroke="#444" stroke-width="1.1"/>
<line x1="731.5" y1="35.75" x2="731.5" y2="105" stroke="#444" stroke-width="1.1"/>
<line x1="748.5" y1="40.75" x2="748.5" y2="102.5" stroke="#444" stroke-width="1.1"/>
<line x1="767.5" y1="32" x2="767.5" y2="106.25" stroke="#444" stroke-width="1.1"/>
<line x1="788.5" y1="36.25" x2="788.5" y2="103.75" stroke="#444" stroke-width="1.1"/>
<rect x="434.5" y="83.10" width="363.0" height="8.30" fill="#000"/>
<polyline points="434.50,80.7 434.62,87.2 434.92,92.1 435.04,87.2 435.34,81.4 435.46,87.2 435.76,93.2 435.88,87.2 436.18,81.1 436.30,87.2 436.60,92.1 436.72,87.2 437.02,82.0 437.14,87.2 437.44,93.9 437.56,87.2 437.86,82.5 437.98,87.2 438.28,93.8 438.40,87.2 438.70,80.6 438.82,87.2 439.12,92.8 439.24,87.2 439.54,82.2 439.66,87.2 439.96,93.1 440.08,87.2 440.38,81.2 440.50,87.2 440.80,94.8 440.92,87.2 441.22,82.6 441.34,87.2 441.64,93.8 441.76,87.2 442.06,82.7 442.18,87.2 442.48,93.3 442.60,87.2 442.90,81.4 443.02,87.2 443.32,94.2 443.44,87.2 443.74,82.7 443.86,87.2 444.16,91.8 444.28,87.2 444.58,83.0 444.70,87.2 445.00,91.9 445.12,87.2 445.42,82.7 445.54,87.2 445.84,94.0 445.96,87.2 446.26,81.3 446.38,87.2 446.68,93.1 446.80,87.2 447.10,82.7 447.22,87.2 447.52,92.3 447.64,87.2 447.94,80.1 448.06,87.2 448.36,91.9 448.48,87.2 448.78,78.2 448.90,87.2 449.20,94.1 449.32,87.2 449.62,82.0 449.74,87.2 450.04,94.1 450.16,87.2 450.46,82.1 450.58,87.2 450.88,93.4 451.00,87.2 451.30,82.2 451.42,87.2 451.72,91.6 451.84,87.2 452.14,79.7 452.26,87.2 452.56,92.5 452.68,87.2 452.98,81.6 453.10,87.2 453.40,91.6 453.52,87.2 453.82,82.2 453.94,87.2 454.24,94.7 454.36,87.2 454.66,82.1 454.78,87.2 455.08,94.7 455.20,87.2 455.50,80.4 455.62,87.2 455.92,93.4 456.04,87.2 456.34,80.1 456.46,87.2 456.76,93.1 456.88,87.2 457.18,81.9 457.30,87.2 457.60,94.3 457.72,87.2 458.02,80.7 458.14,87.2 458.44,94.3 458.56,87.2 458.86,82.2 458.98,87.2 459.28,93.0 459.40,87.2 459.70,82.2 459.82,87.2 460.12,92.1 460.24,87.2 460.54,82.6 460.66,87.2 460.96,92.8 461.08,87.2 461.38,82.0 461.50,87.2 461.80,92.1 461.92,87.2 462.22,82.0 462.34,87.2 462.64,92.0 462.76,87.2 463.06,81.5 463.18,87.2 463.48,92.8 463.60,87.2 463.90,81.7 464.02,87.2 464.32,92.2 464.44,87.2 464.74,81.6 464.86,87.2 465.16,91.5 465.28,87.2 465.58,82.4 465.70,87.2 466.00,93.9 466.12,87.2 466.42,82.9 466.54,87.2 466.84,94.1 466.96,87.2 467.26,82.7 467.38,87.2 467.68,92.8 467.80,87.2 468.10,80.4 468.22,87.2 468.52,94.2 468.64,87.2 468.94,80.7 469.06,87.2 469.36,91.9 469.48,87.2 469.78,79.0 469.90,87.2 470.20,93.6 470.32,87.2 470.62,81.6 470.74,87.2 471.04,94.0 471.16,87.2 471.46,81.2 471.58,87.2 471.88,91.4 472.00,87.2 472.30,82.3 472.42,87.2 472.72,94.2 472.84,87.2 473.14,80.5 473.26,87.2 473.56,92.9 473.68,87.2 473.98,78.8 474.10,87.2 474.40,94.3 474.52,87.2 474.82,81.0 474.94,87.2 475.24,92.9 475.36,87.2 475.66,81.8 475.78,87.2 476.08,91.6 476.20,87.2 476.50,81.7 476.62,87.2 476.92,92.5 477.04,87.2 477.34,80.9 477.46,87.2 477.76,95.5 477.88,87.2 478.18,81.9 478.30,87.2 478.60,92.8 478.72,87.2 479.02,82.4 479.14,87.2 479.44,92.2 479.56,87.2 479.86,82.2 479.98,87.2 480.28,94.2 480.40,87.2 480.70,83.0 480.82,87.2 481.12,93.9 481.24,87.2 481.54,80.3 481.66,87.2 481.96,92.3 482.08,87.2 482.38,80.8 482.50,87.2 482.80,92.2 482.92,87.2 483.22,80.6 483.34,87.2 483.64,93.6 483.76,87.2 484.06,80.4 484.18,87.2 484.48,93.2 484.60,87.2 484.90,81.9 485.02,87.2 485.32,93.8 485.44,87.2 485.74,79.9 485.86,87.2 486.16,94.8 486.28,87.2 486.58,82.4 486.70,87.2 487.00,94.1 487.12,87.2 487.42,80.5 487.54,87.2 487.84,95.1 487.96,87.2 488.26,77.5 488.38,87.2 488.68,91.7 488.80,87.2 489.10,80.9 489.22,87.2 489.52,92.6 489.64,87.2 489.94,81.5 490.06,87.2 490.36,92.6 490.48,87.2 490.78,80.6 490.90,87.2 491.20,92.5 491.32,87.2 491.62,80.3 491.74,87.2 492.04,91.5 492.16,87.2 492.46,80.4 492.58,87.2 492.88,92.1 493.00,87.2 493.30,82.6 493.42,87.2 493.72,92.3 493.84,87.2 494.14,81.0 494.26,87.2 494.56,94.2 494.68,87.2 494.98,80.3 495.10,87.2 495.40,91.8 495.52,87.2 495.82,80.1 495.94,87.2 496.24,93.6 496.36,87.2 496.66,81.1 496.78,87.2 497.08,92.8 497.20,87.2 497.50,82.6 497.62,87.2 497.92,93.5 498.04,87.2 498.34,82.8 498.46,87.2 498.76,91.8 498.88,87.2 499.18,82.2 499.30,87.2 499.60,91.9 499.72,87.2 500.02,81.3 500.14,87.2 500.44,91.7 500.56,87.2 500.86,79.6 500.98,87.2 501.28,94.6 501.40,87.2 501.70,82.0 501.82,87.2 502.12,94.7 502.24,87.2 502.54,81.0 502.66,87.2 502.96,94.1 503.08,87.2 503.38,81.9 503.50,87.2 503.80,91.7 503.92,87.2 504.22,81.1 504.34,87.2 504.64,93.5 504.76,87.2 505.06,82.6 505.18,87.2 505.48,92.4 505.60,87.2 505.90,81.3 506.02,87.2 506.32,93.5 506.44,87.2 506.74,80.9 506.86,87.2 507.16,93.7 507.28,87.2 507.58,81.3 507.70,87.2 508.00,92.1 508.12,87.2 508.42,82.6 508.54,87.2 508.84,91.8 508.96,87.2 509.26,81.3 509.38,87.2 509.68,92.1 509.80,87.2 510.10,79.2 510.22,87.2 510.52,93.2 510.64,87.2 510.94,80.8 511.06,87.2 511.36,92.1 511.48,87.2 511.78,82.4 511.90,87.2 512.20,97.1 512.32,87.2 512.62,81.9 512.74,87.2 513.04,94.0 513.16,87.2 513.46,82.3 513.58,87.2 513.88,94.1 514.00,87.2 514.30,80.8 514.42,87.2 514.72,94.5 514.84,87.2 515.14,80.1 515.26,87.2 515.56,94.3 515.68,87.2 515.98,82.6 516.10,87.2 516.40,91.5 516.52,87.2 516.82,82.0 516.94,87.2 517.24,92.3 517.36,87.2 517.66,81.6 517.78,87.2 518.08,91.5 518.20,87.2 518.50,82.4 518.62,87.2 518.92,92.5 519.04,87.2 519.34,81.0 519.46,87.2 519.76,92.4 519.88,87.2 520.18,82.5 520.30,87.2 520.60,92.2 520.72,87.2 521.02,81.5 521.14,87.2 521.44,93.5 521.56,87.2 521.86,80.4 521.98,87.2 522.28,94.2 522.40,87.2 522.70,81.6 522.82,87.2 523.12,94.1 523.24,87.2 523.54,80.7 523.66,87.2 523.96,95.8 524.08,87.2 524.38,82.1 524.50,87.2 524.80,93.7 524.92,87.2 525.22,80.2 525.34,87.2 525.64,92.2 525.76,87.2 526.06,82.9 526.18,87.2 526.48,94.4 526.60,87.2 526.90,81.0 527.02,87.2 527.32,92.1 527.44,87.2 527.74,81.9 527.86,87.2 528.16,91.6 528.28,87.2 528.58,80.9 528.70,87.2 529.00,95.0 529.12,87.2 529.42,82.7 529.54,87.2 529.84,91.5 529.96,87.2 530.26,81.4 530.38,87.2 530.68,92.8 530.80,87.2 531.10,80.2 531.22,87.2 531.52,96.9 531.64,87.2 531.94,83.0 532.06,87.2 532.36,91.5 532.48,87.2 532.78,81.7 532.90,87.2 533.20,91.5 533.32,87.2 533.62,82.7 533.74,87.2 534.04,91.6 534.16,87.2 534.46,80.5 534.58,87.2 534.88,92.6 535.00,87.2 535.30,79.9 535.42,87.2 535.72,94.7 535.84,87.2 536.14,80.1 536.26,87.2 536.56,94.2 536.68,87.2 536.98,80.4 537.10,87.2 537.40,92.4 537.52,87.2 537.82,82.9 537.94,87.2 538.24,92.6 538.36,87.2 538.66,80.5 538.78,87.2 539.08,92.5 539.20,87.2 539.50,80.1 539.62,87.2 539.92,95.3 540.04,87.2 540.34,79.9 540.46,87.2 540.76,95.8 540.88,87.2 541.18,82.8 541.30,87.2 541.60,94.2 541.72,87.2 542.02,80.2 542.14,87.2 542.44,93.0 542.56,87.2 542.86,82.5 542.98,87.2 543.28,92.0 543.40,87.2 543.70,81.0 543.82,87.2 544.12,94.5 544.24,87.2 544.54,80.1 544.66,87.2 544.96,93.5 545.08,87.2 545.38,81.1 545.50,87.2 545.80,94.2 545.92,87.2 546.22,80.5 546.34,87.2 546.64,93.8 546.76,87.2 547.06,81.4 547.18,87.2 547.48,93.6 547.60,87.2 547.90,82.2 548.02,87.2 548.32,91.7 548.44,87.2 548.74,82.4 548.86,87.2 549.16,92.1 549.28,87.2 549.58,81.7 549.70,87.2 550.00,93.5 550.12,87.2 550.42,82.2 550.54,87.2 550.84,92.9 550.96,87.2 551.26,81.6 551.38,87.2 551.68,93.2 551.80,87.2 552.10,81.9 552.22,87.2 552.52,92.6 552.64,87.2 552.94,83.1 553.06,87.2 553.36,93.5 553.48,87.2 553.78,82.3 553.90,87.2 554.20,91.9 554.32,87.2 554.62,81.4 554.74,87.2 555.04,92.0 555.16,87.2 555.46,81.6 555.58,87.2 555.88,92.1 556.00,87.2 556.30,81.3 556.42,87.2 556.72,92.9 556.84,87.2 557.14,82.7 557.26,87.2 557.56,93.1 557.68,87.2 557.98,81.7 558.10,87.2 558.40,95.4 558.52,87.2 558.82,80.7 558.94,87.2 559.24,94.0 559.36,87.2 559.66,81.0 559.78,87.2 560.08,93.2 560.20,87.2 560.50,81.3 560.62,87.2 560.92,93.7 561.04,87.2 561.34,81.2 561.46,87.2 561.76,93.2 561.88,87.2 562.18,82.0 562.30,87.2 562.60,93.2 562.72,87.2 563.02,82.3 563.14,87.2 563.44,91.6 563.56,87.2 563.86,82.7 563.98,87.2 564.28,92.1 564.40,87.2 564.70,83.0 564.82,87.2 565.12,93.1 565.24,87.2 565.54,80.8 565.66,87.2 565.96,93.8 566.08,87.2 566.38,82.7 566.50,87.2 566.80,93.3 566.92,87.2 567.22,81.2 567.34,87.2 567.64,92.8 567.76,87.2 568.06,80.3 568.18,87.2 568.48,93.6 568.60,87.2 568.90,82.6 569.02,87.2 569.32,92.3 569.44,87.2 569.74,82.2 569.86,87.2 570.16,92.8 570.28,87.2 570.58,81.5 570.70,87.2 571.00,95.1 571.12,87.2 571.42,81.2 571.54,87.2 571.84,92.5 571.96,87.2 572.26,80.9 572.38,87.2 572.68,91.8 572.80,87.2 573.10,81.6 573.22,87.2 573.52,94.4 573.64,87.2 573.94,83.0 574.06,87.2 574.36,93.7 574.48,87.2 574.78,79.9 574.90,87.2 575.20,94.5 575.32,87.2 575.62,82.8 575.74,87.2 576.04,93.3 576.16,87.2 576.46,82.6 576.58,87.2 576.88,92.5 577.00,87.2 577.30,80.3 577.42,87.2 577.72,91.6 577.84,87.2 578.14,82.9 578.26,87.2 578.56,91.6 578.68,87.2 578.98,82.8 579.10,87.2 579.40,93.0 579.52,87.2 579.82,82.5 579.94,87.2 580.24,91.8 580.36,87.2 580.66,80.4 580.78,87.2 581.08,91.7 581.20,87.2 581.50,80.5 581.62,87.2 581.92,96.4 582.04,87.2 582.34,80.6 582.46,87.2 582.76,91.8 582.88,87.2 583.18,80.1 583.30,87.2 583.60,94.2 583.72,87.2 584.02,80.6 584.14,87.2 584.44,93.9 584.56,87.2 584.86,79.8 584.98,87.2 585.28,91.8 585.40,87.2 585.70,82.4 585.82,87.2 586.12,91.7 586.24,87.2 586.54,80.9 586.66,87.2 586.96,94.6 587.08,87.2 587.38,82.2 587.50,87.2 587.80,92.2 587.92,87.2 588.22,82.8 588.34,87.2 588.64,92.2 588.76,87.2 589.06,82.5 589.18,87.2 589.48,94.2 589.60,87.2 589.90,82.5 590.02,87.2 590.32,93.6 590.44,87.2 590.74,80.6 590.86,87.2 591.16,92.3 591.28,87.2 591.58,80.7 591.70,87.2 592.00,92.4 592.12,87.2 592.42,80.4 592.54,87.2 592.84,93.6 592.96,87.2 593.26,81.1 593.38,87.2 593.68,95.3 593.80,87.2 594.10,82.1 594.22,87.2 594.52,93.1 594.64,87.2 594.94,82.9 595.06,87.2 595.36,91.7 595.48,87.2 595.78,81.9 595.90,87.2 596.20,92.3 596.32,87.2 596.62,81.8 596.74,87.2 597.04,93.2 597.16,87.2 597.46,81.0 597.58,87.2 597.88,93.7 598.00,87.2 598.30,81.5 598.42,87.2 598.72,91.7 598.84,87.2 599.14,82.7 599.26,87.2 599.56,91.4 599.68,87.2 599.98,83.0 600.10,87.2 600.40,93.2 600.52,87.2 600.82,80.3 600.94,87.2 601.24,91.4 601.36,87.2 601.66,82.6 601.78,87.2 602.08,92.1 602.20,87.2 602.50,81.9 602.62,87.2 602.92,92.9 603.04,87.2 603.34,81.3 603.46,87.2 603.76,93.6 603.88,87.2 604.18,82.8 604.30,87.2 604.60,92.4 604.72,87.2 605.02,81.4 605.14,87.2 605.44,93.0 605.56,87.2 605.86,81.6 605.98,87.2 606.28,93.0 606.40,87.2 606.70,81.0 606.82,87.2 607.12,95.8 607.24,87.2 607.54,82.9 607.66,87.2 607.96,92.7 608.08,87.2 608.38,82.1 608.50,87.2 608.80,91.7 608.92,87.2 609.22,81.8 609.34,87.2 609.64,92.7 609.76,87.2 610.06,80.5 610.18,87.2 610.48,91.5 610.60,87.2 610.90,82.0 611.02,87.2 611.32,92.7 611.44,87.2 611.74,80.3 611.86,87.2 612.16,94.5 612.28,87.2 612.58,82.4 612.70,87.2 613.00,94.6 613.12,87.2 613.42,81.9 613.54,87.2 613.84,92.0 613.96,87.2 614.26,82.8 614.38,87.2 614.68,94.0 614.80,87.2 615.10,80.7 615.22,87.2 615.52,93.1 615.64,87.2 615.94,81.3 616.06,87.2 616.36,92.8 616.48,87.2 616.78,81.0 616.90,87.2 617.20,92.3 617.32,87.2 617.62,80.3 617.74,87.2 618.04,94.1 618.16,87.2 618.46,80.4 618.58,87.2 618.88,93.7 619.00,87.2 619.30,79.5 619.42,87.2 619.72,94.9 619.84,87.2 620.14,81.9 620.26,87.2 620.56,94.5 620.68,87.2 620.98,80.6 621.10,87.2 621.40,93.7 621.52,87.2 621.82,82.9 621.94,87.2 622.24,92.1 622.36,87.2 622.66,80.9 622.78,87.2 623.08,91.9 623.20,87.2 623.50,82.3 623.62,87.2 623.92,93.9 624.04,87.2 624.34,81.7 624.46,87.2 624.76,92.1 624.88,87.2 625.18,79.6 625.30,87.2 625.60,91.9 625.72,87.2 626.02,82.6 626.14,87.2 626.44,93.1 626.56,87.2 626.86,81.2 626.98,87.2 627.28,94.0 627.40,87.2 627.70,82.6 627.82,87.2 628.12,94.4 628.24,87.2 628.54,81.0 628.66,87.2 628.96,93.9 629.08,87.2 629.38,81.4 629.50,87.2 629.80,93.2 629.92,87.2 630.22,80.7 630.34,87.2 630.64,92.2 630.76,87.2 631.06,82.0 631.18,87.2 631.48,95.5 631.60,87.2 631.90,81.2 632.02,87.2 632.32,92.2 632.44,87.2 632.74,81.6 632.86,87.2 633.16,92.2 633.28,87.2 633.58,82.6 633.70,87.2 634.00,94.3 634.12,87.2 634.42,80.9 634.54,87.2 634.84,93.2 634.96,87.2 635.26,82.6 635.38,87.2 635.68,92.1 635.80,87.2 636.10,81.9 636.22,87.2 636.52,92.2 636.64,87.2 636.94,81.4 637.06,87.2 637.36,92.7 637.48,87.2 637.78,81.6 637.90,87.2 638.20,91.9 638.32,87.2 638.62,81.4 638.74,87.2 639.04,92.2 639.16,87.2 639.46,80.8 639.58,87.2 639.88,92.2 640.00,87.2 640.30,82.5 640.42,87.2 640.72,94.3 640.84,87.2 641.14,81.9 641.26,87.2 641.56,94.2 641.68,87.2 641.98,81.5 642.10,87.2 642.40,93.4 642.52,87.2 642.82,80.6 642.94,87.2 643.24,92.7 643.36,87.2 643.66,81.2 643.78,87.2 644.08,91.7 644.20,87.2 644.50,80.8 644.62,87.2 644.92,91.4 645.04,87.2 645.34,80.2 645.46,87.2 645.76,92.5 645.88,87.2 646.18,82.8 646.30,87.2 646.60,93.2 646.72,87.2 647.02,82.1 647.14,87.2 647.44,92.5 647.56,87.2 647.86,81.7 647.98,87.2 648.28,92.7 648.40,87.2 648.70,81.5 648.82,87.2 649.12,92.2 649.24,87.2 649.54,81.0 649.66,87.2 649.96,92.9 650.08,87.2 650.38,81.1 650.50,87.2 650.80,92.8 650.92,87.2 651.22,82.2 651.34,87.2 651.64,93.0 651.76,87.2 652.06,81.3 652.18,87.2 652.48,92.2 652.60,87.2 652.90,81.0 653.02,87.2 653.32,92.3 653.44,87.2 653.74,81.4 653.86,87.2 654.16,94.2 654.28,87.2 654.58,81.6 654.70,87.2 655.00,94.3 655.12,87.2 655.42,81.3 655.54,87.2 655.84,92.1 655.96,87.2 656.26,82.3 656.38,87.2 656.68,94.5 656.80,87.2 657.10,82.5 657.22,87.2 657.52,94.4 657.64,87.2 657.94,80.3 658.06,87.2 658.36,92.7 658.48,87.2 658.78,82.6 658.90,87.2 659.20,94.0 659.32,87.2 659.62,82.1 659.74,87.2 660.04,94.5 660.16,87.2 660.46,80.8 660.58,87.2 660.88,91.8 661.00,87.2 661.30,82.9 661.42,87.2 661.72,92.0 661.84,87.2 662.14,77.4 662.26,87.2 662.56,95.5 662.68,87.2 662.98,81.4 663.10,87.2 663.40,93.4 663.52,87.2 663.82,79.2 663.94,87.2 664.24,93.4 664.36,87.2 664.66,82.5 664.78,87.2 665.08,93.5 665.20,87.2 665.50,80.8 665.62,87.2 665.92,92.3 666.04,87.2 666.34,80.6 666.46,87.2 666.76,94.2 666.88,87.2 667.18,83.1 667.30,87.2 667.60,91.7 667.72,87.2 668.02,80.4 668.14,87.2 668.44,97.0 668.56,87.2 668.86,79.6 668.98,87.2 669.28,93.9 669.40,87.2 669.70,80.3 669.82,87.2 670.12,93.0 670.24,87.2 670.54,81.2 670.66,87.2 670.96,94.6 671.08,87.2 671.38,80.6 671.50,87.2 671.80,93.7 671.92,87.2 672.22,79.9 672.34,87.2 672.64,93.4 672.76,87.2 673.06,80.4 673.18,87.2 673.48,96.0 673.60,87.2 673.90,79.4 674.02,87.2 674.32,91.9 674.44,87.2 674.74,82.5 674.86,87.2 675.16,92.0 675.28,87.2 675.58,82.5 675.70,87.2 676.00,91.6 676.12,87.2 676.42,82.2 676.54,87.2 676.84,92.2 676.96,87.2 677.26,82.1 677.38,87.2 677.68,93.9 677.80,87.2 678.10,81.3 678.22,87.2 678.52,92.2 678.64,87.2 678.94,81.3 679.06,87.2 679.36,92.7 679.48,87.2 679.78,82.9 679.90,87.2 680.20,93.1 680.32,87.2 680.62,82.6 680.74,87.2 681.04,93.7 681.16,87.2 681.46,81.3 681.58,87.2 681.88,93.5 682.00,87.2 682.30,81.1 682.42,87.2 682.72,92.2 682.84,87.2 683.14,82.7 683.26,87.2 683.56,93.2 683.68,87.2 683.98,82.9 684.10,87.2 684.40,93.4 684.52,87.2 684.82,82.7 684.94,87.2 685.24,93.0 685.36,87.2 685.66,82.5 685.78,87.2 686.08,95.1 686.20,87.2 686.50,82.7 686.62,87.2 686.92,93.8 687.04,87.2 687.34,82.7 687.46,87.2 687.76,92.0 687.88,87.2 688.18,81.5 688.30,87.2 688.60,92.6 688.72,87.2 689.02,80.8 689.14,87.2 689.44,92.0 689.56,87.2 689.86,82.2 689.98,87.2 690.28,91.9 690.40,87.2 690.70,81.1 690.82,87.2 691.12,93.0 691.24,87.2 691.54,82.9 691.66,87.2 691.96,93.6 692.08,87.2 692.38,81.9 692.50,87.2 692.80,93.1 692.92,87.2 693.22,82.9 693.34,87.2 693.64,91.7 693.76,87.2 694.06,81.1 694.18,87.2 694.48,93.0 694.60,87.2 694.90,82.0 695.02,87.2 695.32,92.4 695.44,87.2 695.74,83.0 695.86,87.2 696.16,93.8 696.28,87.2 696.58,81.2 696.70,87.2 697.00,92.0 697.12,87.2 697.42,82.8 697.54,87.2 697.84,91.9 697.96,87.2 698.26,83.0 698.38,87.2 698.68,92.2 698.80,87.2 699.10,81.6 699.22,87.2 699.52,93.9 699.64,87.2 699.94,81.5 700.06,87.2 700.36,94.1 700.48,87.2 700.78,81.4 700.90,87.2 701.20,93.2 701.32,87.2 701.62,79.9 701.74,87.2 702.04,96.3 702.16,87.2 702.46,82.5 702.58,87.2 702.88,93.0 703.00,87.2 703.30,81.3 703.42,87.2 703.72,93.9 703.84,87.2 704.14,82.3 704.26,87.2 704.56,94.2 704.68,87.2 704.98,81.5 705.10,87.2 705.40,92.8 705.52,87.2 705.82,82.4 705.94,87.2 706.24,91.7 706.36,87.2 706.66,83.0 706.78,87.2 707.08,92.8 707.20,87.2 707.50,80.3 707.62,87.2 707.92,92.3 708.04,87.2 708.34,82.1 708.46,87.2 708.76,91.8 708.88,87.2 709.18,80.8 709.30,87.2 709.60,92.8 709.72,87.2 710.02,80.7 710.14,87.2 710.44,94.3 710.56,87.2 710.86,80.4 710.98,87.2 711.28,92.5 711.40,87.2 711.70,80.0 711.82,87.2 712.12,92.3 712.24,87.2 712.54,81.0 712.66,87.2 712.96,94.2 713.08,87.2 713.38,82.0 713.50,87.2 713.80,94.2 713.92,87.2 714.22,82.4 714.34,87.2 714.64,92.0 714.76,87.2 715.06,79.5 715.18,87.2 715.48,92.5 715.60,87.2 715.90,77.5 716.02,87.2 716.32,93.3 716.44,87.2 716.74,81.6 716.86,87.2 717.16,91.7 717.28,87.2 717.58,82.4 717.70,87.2 718.00,91.8 718.12,87.2 718.42,81.4 718.54,87.2 718.84,92.0 718.96,87.2 719.26,80.7 719.38,87.2 719.68,92.3 719.80,87.2 720.10,81.2 720.22,87.2 720.52,93.9 720.64,87.2 720.94,82.3 721.06,87.2 721.36,92.9 721.48,87.2 721.78,82.2 721.90,87.2 722.20,93.5 722.32,87.2 722.62,82.6 722.74,87.2 723.04,93.2 723.16,87.2 723.46,82.0 723.58,87.2 723.88,91.5 724.00,87.2 724.30,81.4 724.42,87.2 724.72,93.1 724.84,87.2 725.14,81.1 725.26,87.2 725.56,92.7 725.68,87.2 725.98,82.6 726.10,87.2 726.40,93.5 726.52,87.2 726.82,82.1 726.94,87.2 727.24,92.9 727.36,87.2 727.66,82.8 727.78,87.2 728.08,91.6 728.20,87.2 728.50,82.3 728.62,87.2 728.92,93.6 729.04,87.2 729.34,81.4 729.46,87.2 729.76,93.7 729.88,87.2 730.18,80.5 730.30,87.2 730.60,94.3 730.72,87.2 731.02,81.5 731.14,87.2 731.44,93.8 731.56,87.2 731.86,80.5 731.98,87.2 732.28,93.3 732.40,87.2 732.70,81.2 732.82,87.2 733.12,91.7 733.24,87.2 733.54,79.2 733.66,87.2 733.96,93.4 734.08,87.2 734.38,82.4 734.50,87.2 734.80,93.0 734.92,87.2 735.22,81.8 735.34,87.2 735.64,92.9 735.76,87.2 736.06,80.9 736.18,87.2 736.48,92.5 736.60,87.2 736.90,82.5 737.02,87.2 737.32,93.8 737.44,87.2 737.74,81.1 737.86,87.2 738.16,92.8 738.28,87.2 738.58,80.9 738.70,87.2 739.00,93.3 739.12,87.2 739.42,82.8 739.54,87.2 739.84,92.6 739.96,87.2 740.26,82.5 740.38,87.2 740.68,93.8 740.80,87.2 741.10,82.6 741.22,87.2 741.52,92.4 741.64,87.2 741.94,80.4 742.06,87.2 742.36,94.3 742.48,87.2 742.78,81.3 742.90,87.2 743.20,96.4 743.32,87.2 743.62,80.4 743.74,87.2 744.04,93.7 744.16,87.2 744.46,82.3 744.58,87.2 744.88,92.2 745.00,87.2 745.30,80.7 745.42,87.2 745.72,93.0 745.84,87.2 746.14,81.4 746.26,87.2 746.56,93.6 746.68,87.2 746.98,82.1 747.10,87.2 747.40,93.6 747.52,87.2 747.82,80.4 747.94,87.2 748.24,94.6 748.36,87.2 748.66,77.6 748.78,87.2 749.08,91.8 749.20,87.2 749.50,81.0 749.62,87.2 749.92,97.5 750.04,87.2 750.34,79.8 750.46,87.2 750.76,92.5 750.88,87.2 751.18,81.2 751.30,87.2 751.60,93.5 751.72,87.2 752.02,81.3 752.14,87.2 752.44,91.5 752.56,87.2 752.86,82.2 752.98,87.2 753.28,94.1 753.40,87.2 753.70,82.2 753.82,87.2 754.12,92.9 754.24,87.2 754.54,83.0 754.66,87.2 754.96,92.4 755.08,87.2 755.38,80.9 755.50,87.2 755.80,92.1 755.92,87.2 756.22,80.0 756.34,87.2 756.64,95.1 756.76,87.2 757.06,81.7 757.18,87.2 757.48,92.1 757.60,87.2 757.90,82.2 758.02,87.2 758.32,94.1 758.44,87.2 758.74,79.6 758.86,87.2 759.16,93.7 759.28,87.2 759.58,80.2 759.70,87.2 760.00,95.0 760.12,87.2 760.42,81.0 760.54,87.2 760.84,97.2 760.96,87.2 761.26,82.1 761.38,87.2 761.68,93.9 761.80,87.2 762.10,81.5 762.22,87.2 762.52,94.2 762.64,87.2 762.94,81.9 763.06,87.2 763.36,91.9 763.48,87.2 763.78,81.1 763.90,87.2 764.20,92.5 764.32,87.2 764.62,80.4 764.74,87.2 765.04,92.7 765.16,87.2 765.46,80.4 765.58,87.2 765.88,92.0 766.00,87.2 766.30,82.3 766.42,87.2 766.72,92.8 766.84,87.2 767.14,82.3 767.26,87.2 767.56,92.0 767.68,87.2 767.98,82.8 768.10,87.2 768.40,93.4 768.52,87.2 768.82,81.0 768.94,87.2 769.24,92.3 769.36,87.2 769.66,82.6 769.78,87.2 770.08,92.3 770.20,87.2 770.50,80.6 770.62,87.2 770.92,92.7 771.04,87.2 771.34,80.3 771.46,87.2 771.76,92.9 771.88,87.2 772.18,82.5 772.30,87.2 772.60,93.3 772.72,87.2 773.02,82.5 773.14,87.2 773.44,94.1 773.56,87.2 773.86,83.0 773.98,87.2 774.28,91.6 774.40,87.2 774.70,81.7 774.82,87.2 775.12,92.0 775.24,87.2 775.54,81.6 775.66,87.2 775.96,94.0 776.08,87.2 776.38,81.1 776.50,87.2 776.80,93.9 776.92,87.2 777.22,81.7 777.34,87.2 777.64,92.5 777.76,87.2 778.06,82.1 778.18,87.2 778.48,91.9 778.60,87.2 778.90,82.9 779.02,87.2 779.32,91.6 779.44,87.2 779.74,82.9 779.86,87.2 780.16,92.8 780.28,87.2 780.58,81.4 780.70,87.2 781.00,93.1 781.12,87.2 781.42,81.9 781.54,87.2 781.84,95.2 781.96,87.2 782.26,82.0 782.38,87.2 782.68,93.2 782.80,87.2 783.10,81.2 783.22,87.2 783.52,94.0 783.64,87.2 783.94,82.7 784.06,87.2 784.36,93.4 784.48,87.2 784.78,80.5 784.90,87.2 785.20,94.5 785.32,87.2 785.62,82.8 785.74,87.2 786.04,93.6 786.16,87.2 786.46,82.0 786.58,87.2 786.88,93.6 787.00,87.2 787.30,82.1 787.42,87.2 787.72,93.6 787.84,87.2 788.14,81.8 788.26,87.2 788.56,93.5 788.68,87.2 788.98,80.7 789.10,87.2 789.40,94.3 789.52,87.2 789.82,81.2 789.94,87.2 790.24,94.9 790.36,87.2 790.66,80.8 790.78,87.2 791.08,92.6 791.20,87.2 791.50,80.7 791.62,87.2 791.92,94.5 792.04,87.2 792.34,80.5 792.46,87.2 792.76,94.3 792.88,87.2 793.18,81.0 793.30,87.2 793.60,93.8 793.72,87.2 794.02,82.4 794.14,87.2 794.44,92.3 794.56,87.2 794.86,80.8 794.98,87.2 795.28,94.0 795.40,87.2 795.70,81.1 795.82,87.2 796.12,96.0 796.24,87.2 796.54,81.1 796.66,87.2 796.96,93.4 797.08,87.2 797.38,80.5 797.50,87.2" fill="none" stroke="#000" stroke-width="0.6"/>
<line x1="437.5" y1="133.75" x2="437.5" y2="202.5" stroke="#444" stroke-width="1.1"/>
<line x1="451.5" y1="135.75" x2="451.5" y2="200" stroke="#444" stroke-width="1.1"/>
<line x1="468.5" y1="137.5" x2="468.5" y2="202.5" stroke="#444" stroke-width="1.1"/>
<line x1="489.5" y1="138" x2="489.5" y2="200" stroke="#444" stroke-width="1.1"/>
<line x1="504.5" y1="135.75" x2="504.5" y2="202.5" stroke="#444" stroke-width="1.1"/>
<line x1="525.5" y1="133.75" x2="525.5" y2="202.5" stroke="#444" stroke-width="1.1"/>
<line x1="540.5" y1="132" x2="540.5" y2="199.5" stroke="#444" stroke-width="1.1"/>
<line x1="553.5" y1="135" x2="553.5" y2="202.5" stroke="#444" stroke-width="1.1"/>
<line x1="566.5" y1="134.25" x2="566.5" y2="200" stroke="#444" stroke-width="1.1"/>
<line x1="581.5" y1="137.5" x2="581.5" y2="198.75" stroke="#444" stroke-width="1.1"/>
<line x1="596.5" y1="140.75" x2="596.5" y2="203.75" stroke="#444" stroke-width="1.1"/>
<line x1="614.5" y1="137" x2="614.5" y2="200" stroke="#444" stroke-width="1.1"/>
<line x1="626.5" y1="136.25" x2="626.5" y2="202.5" stroke="#444" stroke-width="1.1"/>
<line x1="648.5" y1="135" x2="648.5" y2="202.5" stroke="#444" stroke-width="1.1"/>
<line x1="663.5" y1="130" x2="663.5" y2="198.75" stroke="#444" stroke-width="1.1"/>
<line x1="678.5" y1="132" x2="678.5" y2="201.25" stroke="#444" stroke-width="1.1"/>
<line x1="693.5" y1="136.25" x2="693.5" y2="202.5" stroke="#444" stroke-width="1.1"/>
<line x1="707.5" y1="135.75" x2="707.5" y2="201.25" stroke="#444" stroke-width="1.1"/>
<line x1="721.5" y1="135" x2="721.5" y2="201.25" stroke="#444" stroke-width="1.1"/>
<line x1="736.5" y1="136.25" x2="736.5" y2="201.25" stroke="#444" stroke-width="1.1"/>
<line x1="758.5" y1="135" x2="758.5" y2="201.25" stroke="#444" stroke-width="1.1"/>
<line x1="778.5" y1="132.5" x2="778.5" y2="203.75" stroke="#444" stroke-width="1.1"/>
<line x1="793.5" y1="135" x2="793.5" y2="205" stroke="#444" stroke-width="1.1"/>
<rect x="434.5" y="180.80" width="363.0" height="9.20" fill="#000"/>
<polyline points="434.50,180.3 434.62,185.4 434.92,190.1 435.04,185.4 435.34,179.0 435.46,185.4 435.76,192.6 435.88,185.4 436.18,179.8 436.30,185.4 436.60,190.9 436.72,185.4 437.02,180.0 437.14,185.4 437.44,192.7 437.56,185.4 437.86,180.0 437.98,185.4 438.28,191.8 438.40,185.4 438.70,179.2 438.82,185.4 439.12,190.3 439.24,185.4 439.54,179.5 439.66,185.4 439.96,192.9 440.08,185.4 440.38,179.5 440.50,185.4 440.80,192.8 440.92,185.4 441.22,176.9 441.34,185.4 441.64,190.5 441.76,185.4 442.06,179.1 442.18,185.4 442.48,190.8 442.60,185.4 442.90,178.6 443.02,185.4 443.32,190.4 443.44,185.4 443.74,179.5 443.86,185.4 444.16,191.6 444.28,185.4 444.58,179.3 444.70,185.4 445.00,192.8 445.12,185.4 445.42,180.0 445.54,185.4 445.84,192.7 445.96,185.4 446.26,177.9 446.38,185.4 446.68,191.5 446.80,185.4 447.10,177.9 447.22,185.4 447.52,191.6 447.64,185.4 447.94,179.1 448.06,185.4 448.36,192.7 448.48,185.4 448.78,178.4 448.90,185.4 449.20,190.2 449.32,185.4 449.62,177.7 449.74,185.4 450.04,191.8 450.16,185.4 450.46,177.4 450.58,185.4 450.88,190.3 451.00,185.4 451.30,178.6 451.42,185.4 451.72,193.1 451.84,185.4 452.14,178.0 452.26,185.4 452.56,192.4 452.68,185.4 452.98,178.2 453.10,185.4 453.40,191.5 453.52,185.4 453.82,178.1 453.94,185.4 454.24,191.2 454.36,185.4 454.66,178.1 454.78,185.4 455.08,195.8 455.20,185.4 455.50,179.6 455.62,185.4 455.92,191.6 456.04,185.4 456.34,180.0 456.46,185.4 456.76,191.0 456.88,185.4 457.18,178.9 457.30,185.4 457.60,191.0 457.72,185.4 458.02,178.7 458.14,185.4 458.44,190.2 458.56,185.4 458.86,178.2 458.98,185.4 459.28,190.4 459.40,185.4 459.70,178.9 459.82,185.4 460.12,192.8 460.24,185.4 460.54,180.4 460.66,185.4 460.96,192.2 461.08,185.4 461.38,179.3 461.50,185.4 461.80,191.2 461.92,185.4 462.22,180.8 462.34,185.4 462.64,190.5 462.76,185.4 463.06,178.5 463.18,185.4 463.48,191.7 463.60,185.4 463.90,178.6 464.02,185.4 464.32,190.8 464.44,185.4 464.74,179.1 464.86,185.4 465.16,191.8 465.28,185.4 465.58,180.2 465.70,185.4 466.00,192.7 466.12,185.4 466.42,177.9 466.54,185.4 466.84,192.3 466.96,185.4 467.26,179.8 467.38,185.4 467.68,190.9 467.80,185.4 468.10,180.6 468.22,185.4 468.52,191.9 468.64,185.4 468.94,180.5 469.06,185.4 469.36,190.6 469.48,185.4 469.78,179.0 469.90,185.4 470.20,191.2 470.32,185.4 470.62,180.2 470.74,185.4 471.04,191.8 471.16,185.4 471.46,179.8 471.58,185.4 471.88,191.9 472.00,185.4 472.30,179.4 472.42,185.4 472.72,191.2 472.84,185.4 473.14,179.6 473.26,185.4 473.56,191.1 473.68,185.4 473.98,178.6 474.10,185.4 474.40,190.7 474.52,185.4 474.82,180.7 474.94,185.4 475.24,192.0 475.36,185.4 475.66,179.3 475.78,185.4 476.08,191.4 476.20,185.4 476.50,180.7 476.62,185.4 476.92,191.1 477.04,185.4 477.34,179.8 477.46,185.4 477.76,191.1 477.88,185.4 478.18,178.8 478.30,185.4 478.60,192.6 478.72,185.4 479.02,179.3 479.14,185.4 479.44,191.9 479.56,185.4 479.86,180.0 479.98,185.4 480.28,192.5 480.40,185.4 480.70,178.6 480.82,185.4 481.12,192.3 481.24,185.4 481.54,178.1 481.66,185.4 481.96,190.6 482.08,185.4 482.38,178.2 482.50,185.4 482.80,192.5 482.92,185.4 483.22,180.0 483.34,185.4 483.64,192.4 483.76,185.4 484.06,179.1 484.18,185.4 484.48,190.5 484.60,185.4 484.90,178.3 485.02,185.4 485.32,192.1 485.44,185.4 485.74,179.6 485.86,185.4 486.16,192.3 486.28,185.4 486.58,179.4 486.70,185.4 487.00,191.3 487.12,185.4 487.42,178.2 487.54,185.4 487.84,191.1 487.96,185.4 488.26,177.9 488.38,185.4 488.68,192.0 488.80,185.4 489.10,180.3 489.22,185.4 489.52,191.9 489.64,185.4 489.94,178.9 490.06,185.4 490.36,192.0 490.48,185.4 490.78,180.0 490.90,185.4 491.20,190.8 491.32,185.4 491.62,180.1 491.74,185.4 492.04,192.7 492.16,185.4 492.46,180.1 492.58,185.4 492.88,192.5 493.00,185.4 493.30,178.6 493.42,185.4 493.72,193.1 493.84,185.4 494.14,177.9 494.26,185.4 494.56,193.3 494.68,185.4 494.98,177.7 495.10,185.4 495.40,191.5 495.52,185.4 495.82,178.8 495.94,185.4 496.24,192.2 496.36,185.4 496.66,179.4 496.78,185.4 497.08,193.1 497.20,185.4 497.50,180.8 497.62,185.4 497.92,192.8 498.04,185.4 498.34,178.8 498.46,185.4 498.76,190.3 498.88,185.4 499.18,179.3 499.30,185.4 499.60,192.0 499.72,185.4 500.02,179.4 500.14,185.4 500.44,192.6 500.56,185.4 500.86,180.1 500.98,185.4 501.28,192.6 501.40,185.4 501.70,180.3 501.82,185.4 502.12,192.9 502.24,185.4 502.54,178.0 502.66,185.4 502.96,191.5 503.08,185.4 503.38,179.1 503.50,185.4 503.80,191.4 503.92,185.4 504.22,179.0 504.34,185.4 504.64,191.1 504.76,185.4 505.06,178.8 505.18,185.4 505.48,192.7 505.60,185.4 505.90,178.3 506.02,185.4 506.32,191.6 506.44,185.4 506.74,178.2 506.86,185.4 507.16,193.1 507.28,185.4 507.58,179.7 507.70,185.4 508.00,192.7 508.12,185.4 508.42,180.3 508.54,185.4 508.84,190.6 508.96,185.4 509.26,179.9 509.38,185.4 509.68,192.4 509.80,185.4 510.10,178.8 510.22,185.4 510.52,191.2 510.64,185.4 510.94,178.9 511.06,185.4 511.36,191.9 511.48,185.4 511.78,180.3 511.90,185.4 512.20,192.3 512.32,185.4 512.62,179.8 512.74,185.4 513.04,190.4 513.16,185.4 513.46,179.6 513.58,185.4 513.88,191.3 514.00,185.4 514.30,180.4 514.42,185.4 514.72,191.7 514.84,185.4 515.14,178.3 515.26,185.4 515.56,191.0 515.68,185.4 515.98,179.9 516.10,185.4 516.40,191.9 516.52,185.4 516.82,179.6 516.94,185.4 517.24,191.0 517.36,185.4 517.66,179.5 517.78,185.4 518.08,190.4 518.20,185.4 518.50,179.4 518.62,185.4 518.92,191.2 519.04,185.4 519.34,179.3 519.46,185.4 519.76,190.9 519.88,185.4 520.18,180.0 520.30,185.4 520.60,190.7 520.72,185.4 521.02,180.5 521.14,185.4 521.44,190.7 521.56,185.4 521.86,179.6 521.98,185.4 522.28,192.3 522.40,185.4 522.70,179.4 522.82,185.4 523.12,190.1 523.24,185.4 523.54,178.8 523.66,185.4 523.96,190.5 524.08,185.4 524.38,178.1 524.50,185.4 524.80,191.0 524.92,185.4 525.22,178.9 525.34,185.4 525.64,191.5 525.76,185.4 526.06,178.9 526.18,185.4 526.48,192.5 526.60,185.4 526.90,180.7 527.02,185.4 527.32,191.0 527.44,185.4 527.74,179.6 527.86,185.4 528.16,191.9 528.28,185.4 528.58,180.5 528.70,185.4 529.00,191.2 529.12,185.4 529.42,179.3 529.54,185.4 529.84,191.6 529.96,185.4 530.26,178.2 530.38,185.4 530.68,191.0 530.80,185.4 531.10,178.7 531.22,185.4 531.52,191.6 531.64,185.4 531.94,180.8 532.06,185.4 532.36,190.2 532.48,185.4 532.78,180.7 532.90,185.4 533.20,191.5 533.32,185.4 533.62,178.4 533.74,185.4 534.04,190.0 534.16,185.4 534.46,178.3 534.58,185.4 534.88,190.6 535.00,185.4 535.30,178.5 535.42,185.4 535.72,193.2 535.84,185.4 536.14,177.6 536.26,185.4 536.56,193.7 536.68,185.4 536.98,177.4 537.10,185.4 537.40,192.0 537.52,185.4 537.82,177.4 537.94,185.4 538.24,194.4 538.36,185.4 538.66,179.8 538.78,185.4 539.08,192.5 539.20,185.4 539.50,177.7 539.62,185.4 539.92,190.6 540.04,185.4 540.34,178.2 540.46,185.4 540.76,192.7 540.88,185.4 541.18,177.7 541.30,185.4 541.60,190.0 541.72,185.4 542.02,177.5 542.14,185.4 542.44,192.7 542.56,185.4 542.86,180.3 542.98,185.4 543.28,192.4 543.40,185.4 543.70,178.0 543.82,185.4 544.12,191.8 544.24,185.4 544.54,180.0 544.66,185.4 544.96,191.7 545.08,185.4 545.38,179.0 545.50,185.4 545.80,190.9 545.92,185.4 546.22,178.5 546.34,185.4 546.64,192.2 546.76,185.4 547.06,178.6 547.18,185.4 547.48,192.7 547.60,185.4 547.90,179.0 548.02,185.4 548.32,191.9 548.44,185.4 548.74,178.4 548.86,185.4 549.16,190.9 549.28,185.4 549.58,179.8 549.70,185.4 550.00,191.1 550.12,185.4 550.42,177.9 550.54,185.4 550.84,191.3 550.96,185.4 551.26,179.6 551.38,185.4 551.68,191.8 551.80,185.4 552.10,179.2 552.22,185.4 552.52,190.7 552.64,185.4 552.94,179.7 553.06,185.4 553.36,190.8 553.48,185.4 553.78,180.5 553.90,185.4 554.20,191.4 554.32,185.4 554.62,180.3 554.74,185.4 555.04,191.5 555.16,185.4 555.46,180.3 555.58,185.4 555.88,192.3 556.00,185.4 556.30,178.4 556.42,185.4 556.72,191.3 556.84,185.4 557.14,180.0 557.26,185.4 557.56,191.7 557.68,185.4 557.98,180.3 558.10,185.4 558.40,190.8 558.52,185.4 558.82,179.1 558.94,185.4 559.24,191.3 559.36,185.4 559.66,179.6 559.78,185.4 560.08,190.8 560.20,185.4 560.50,179.0 560.62,185.4 560.92,191.6 561.04,185.4 561.34,179.2 561.46,185.4 561.76,195.4 561.88,185.4 562.18,180.2 562.30,185.4 562.60,192.5 562.72,185.4 563.02,180.3 563.14,185.4 563.44,190.8 563.56,185.4 563.86,178.5 563.98,185.4 564.28,190.6 564.40,185.4 564.70,180.3 564.82,185.4 565.12,190.1 565.24,185.4 565.54,176.1 565.66,185.4 565.96,192.2 566.08,185.4 566.38,178.6 566.50,185.4 566.80,190.1 566.92,185.4 567.22,179.5 567.34,185.4 567.64,191.9 567.76,185.4 568.06,179.9 568.18,185.4 568.48,191.0 568.60,185.4 568.90,180.5 569.02,185.4 569.32,191.9 569.44,185.4 569.74,178.8 569.86,185.4 570.16,192.9 570.28,185.4 570.58,178.1 570.70,185.4 571.00,190.0 571.12,185.4 571.42,180.2 571.54,185.4 571.84,191.4 571.96,185.4 572.26,179.1 572.38,185.4 572.68,190.9 572.80,185.4 573.10,178.9 573.22,185.4 573.52,191.2 573.64,185.4 573.94,179.3 574.06,185.4 574.36,191.0 574.48,185.4 574.78,179.0 574.90,185.4 575.20,190.3 575.32,185.4 575.62,179.3 575.74,185.4 576.04,190.3 576.16,185.4 576.46,179.3 576.58,185.4 576.88,193.2 577.00,185.4 577.30,178.8 577.42,185.4 577.72,190.5 577.84,185.4 578.14,179.2 578.26,185.4 578.56,191.2 578.68,185.4 578.98,178.1 579.10,185.4 579.40,192.9 579.52,185.4 579.82,180.7 579.94,185.4 580.24,192.1 580.36,185.4 580.66,177.7 580.78,185.4 581.08,193.1 581.20,185.4 581.50,178.1 581.62,185.4 581.92,190.6 582.04,185.4 582.34,177.3 582.46,185.4 582.76,192.1 582.88,185.4 583.18,180.7 583.30,185.4 583.60,190.9 583.72,185.4 584.02,178.4 584.14,185.4 584.44,190.9 584.56,185.4 584.86,180.5 584.98,185.4 585.28,191.6 585.40,185.4 585.70,180.0 585.82,185.4 586.12,191.4 586.24,185.4 586.54,180.1 586.66,185.4 586.96,190.8 587.08,185.4 587.38,176.5 587.50,185.4 587.80,192.6 587.92,185.4 588.22,178.4 588.34,185.4 588.64,191.5 588.76,185.4 589.06,180.5 589.18,185.4 589.48,191.3 589.60,185.4 589.90,179.1 590.02,185.4 590.32,191.7 590.44,185.4 590.74,178.5 590.86,185.4 591.16,190.7 591.28,185.4 591.58,179.1 591.70,185.4 592.00,190.9 592.12,185.4 592.42,178.9 592.54,185.4 592.84,192.7 592.96,185.4 593.26,179.6 593.38,185.4 593.68,191.1 593.80,185.4 594.10,178.4 594.22,185.4 594.52,192.8 594.64,185.4 594.94,178.4 595.06,185.4 595.36,190.8 595.48,185.4 595.78,179.1 595.90,185.4 596.20,195.6 596.32,185.4 596.62,179.4 596.74,185.4 597.04,192.8 597.16,185.4 597.46,178.2 597.58,185.4 597.88,191.8 598.00,185.4 598.30,179.1 598.42,185.4 598.72,190.9 598.84,185.4 599.14,178.6 599.26,185.4 599.56,190.6 599.68,185.4 599.98,178.6 600.10,185.4 600.40,192.3 600.52,185.4 600.82,179.9 600.94,185.4 601.24,191.6 601.36,185.4 601.66,179.0 601.78,185.4 602.08,191.5 602.20,185.4 602.50,180.3 602.62,185.4 602.92,191.5 603.04,185.4 603.34,180.0 603.46,185.4 603.76,191.7 603.88,185.4 604.18,179.7 604.30,185.4 604.60,191.9 604.72,185.4 605.02,179.2 605.14,185.4 605.44,192.3 605.56,185.4 605.86,179.0 605.98,185.4 606.28,192.2 606.40,185.4 606.70,179.4 606.82,185.4 607.12,191.2 607.24,185.4 607.54,180.2 607.66,185.4 607.96,191.6 608.08,185.4 608.38,178.7 608.50,185.4 608.80,191.7 608.92,185.4 609.22,179.8 609.34,185.4 609.64,191.0 609.76,185.4 610.06,180.1 610.18,185.4 610.48,191.1 610.60,185.4 610.90,176.2 611.02,185.4 611.32,190.7 611.44,185.4 611.74,180.3 611.86,185.4 612.16,191.0 612.28,185.4 612.58,180.3 612.70,185.4 613.00,190.4 613.12,185.4 613.42,180.3 613.54,185.4 613.84,191.7 613.96,185.4 614.26,179.4 614.38,185.4 614.68,191.1 614.80,185.4 615.10,179.5 615.22,185.4 615.52,191.8 615.64,185.4 615.94,180.4 616.06,185.4 616.36,191.5 616.48,185.4 616.78,179.6 616.90,185.4 617.20,191.4 617.32,185.4 617.62,179.3 617.74,185.4 618.04,191.3 618.16,185.4 618.46,178.1 618.58,185.4 618.88,191.6 619.00,185.4 619.30,180.3 619.42,185.4 619.72,190.2 619.84,185.4 620.14,178.6 620.26,185.4 620.56,192.3 620.68,185.4 620.98,179.7 621.10,185.4 621.40,190.8 621.52,185.4 621.82,178.1 621.94,185.4 622.24,192.5 622.36,185.4 622.66,178.2 622.78,185.4 623.08,190.8 623.20,185.4 623.50,178.0 623.62,185.4 623.92,191.7 624.04,185.4 624.34,180.2 624.46,185.4 624.76,192.6 624.88,185.4 625.18,177.2 625.30,185.4 625.60,190.2 625.72,185.4 626.02,179.3 626.14,185.4 626.44,193.4 626.56,185.4 626.86,179.7 626.98,185.4 627.28,192.3 627.40,185.4 627.70,180.2 627.82,185.4 628.12,191.0 628.24,185.4 628.54,179.5 628.66,185.4 628.96,191.6 629.08,185.4 629.38,180.8 629.50,185.4 629.80,190.4 629.92,185.4 630.22,179.9 630.34,185.4 630.64,191.4 630.76,185.4 631.06,179.5 631.18,185.4 631.48,190.2 631.60,185.4 631.90,179.9 632.02,185.4 632.32,192.4 632.44,185.4 632.74,179.2 632.86,185.4 633.16,191.2 633.28,185.4 633.58,178.0 633.70,185.4 634.00,191.6 634.12,185.4 634.42,178.6 634.54,185.4 634.84,192.6 634.96,185.4 635.26,178.6 635.38,185.4 635.68,192.6 635.80,185.4 636.10,178.0 636.22,185.4 636.52,192.7 636.64,185.4 636.94,178.2 637.06,185.4 637.36,192.4 637.48,185.4 637.78,178.8 637.90,185.4 638.20,192.1 638.32,185.4 638.62,177.8 638.74,185.4 639.04,191.6 639.16,185.4 639.46,179.0 639.58,185.4 639.88,193.4 640.00,185.4 640.30,178.7 640.42,185.4 640.72,191.9 640.84,185.4 641.14,180.6 641.26,185.4 641.56,190.9 641.68,185.4 641.98,178.4 642.10,185.4 642.40,191.9 642.52,185.4 642.82,179.2 642.94,185.4 643.24,191.3 643.36,185.4 643.66,180.0 643.78,185.4 644.08,190.7 644.20,185.4 644.50,179.0 644.62,185.4 644.92,191.6 645.04,185.4 645.34,179.3 645.46,185.4 645.76,191.8 645.88,185.4 646.18,179.4 646.30,185.4 646.60,191.4 646.72,185.4 647.02,178.8 647.14,185.4 647.44,190.8 647.56,185.4 647.86,179.4 647.98,185.4 648.28,191.0 648.40,185.4 648.70,180.2 648.82,185.4 649.12,190.2 649.24,185.4 649.54,179.3 649.66,185.4 649.96,190.9 650.08,185.4 650.38,178.6 650.50,185.4 650.80,190.7 650.92,185.4 651.22,178.3 651.34,185.4 651.64,191.4 651.76,185.4 652.06,180.1 652.18,185.4 652.48,190.9 652.60,185.4 652.90,179.7 653.02,185.4 653.32,190.5 653.44,185.4 653.74,180.1 653.86,185.4 654.16,190.2 654.28,185.4 654.58,176.8 654.70,185.4 655.00,192.4 655.12,185.4 655.42,179.5 655.54,185.4 655.84,191.6 655.96,185.4 656.26,180.8 656.38,185.4 656.68,192.0 656.80,185.4 657.10,180.0 657.22,185.4 657.52,192.0 657.64,185.4 657.94,179.9 658.06,185.4 658.36,190.5 658.48,185.4 658.78,178.3 658.90,185.4 659.20,191.6 659.32,185.4 659.62,179.0 659.74,185.4 660.04,190.8 660.16,185.4 660.46,178.4 660.58,185.4 660.88,191.0 661.00,185.4 661.30,178.4 661.42,185.4 661.72,190.9 661.84,185.4 662.14,178.5 662.26,185.4 662.56,190.3 662.68,185.4 662.98,178.7 663.10,185.4 663.40,192.3 663.52,185.4 663.82,178.8 663.94,185.4 664.24,192.3 664.36,185.4 664.66,177.9 664.78,185.4 665.08,190.2 665.20,185.4 665.50,178.9 665.62,185.4 665.92,191.7 666.04,185.4 666.34,180.1 666.46,185.4 666.76,192.1 666.88,185.4 667.18,178.0 667.30,185.4 667.60,190.3 667.72,185.4 668.02,178.6 668.14,185.4 668.44,190.2 668.56,185.4 668.86,178.4 668.98,185.4 669.28,191.9 669.40,185.4 669.70,179.5 669.82,185.4 670.12,193.1 670.24,185.4 670.54,180.3 670.66,185.4 670.96,191.2 671.08,185.4 671.38,178.9 671.50,185.4 671.80,195.8 671.92,185.4 672.22,180.6 672.34,185.4 672.64,192.2 672.76,185.4 673.06,178.6 673.18,185.4 673.48,193.3 673.60,185.4 673.90,179.2 674.02,185.4 674.32,191.4 674.44,185.4 674.74,179.8 674.86,185.4 675.16,191.0 675.28,185.4 675.58,180.2 675.70,185.4 676.00,192.1 676.12,185.4 676.42,179.6 676.54,185.4 676.84,190.6 676.96,185.4 677.26,180.1 677.38,185.4 677.68,191.2 677.80,185.4 678.10,179.9 678.22,185.4 678.52,192.3 678.64,185.4 678.94,179.9 679.06,185.4 679.36,193.0 679.48,185.4 679.78,179.5 679.90,185.4 680.20,190.8 680.32,185.4 680.62,177.6 680.74,185.4 681.04,192.1 681.16,185.4 681.46,180.5 681.58,185.4 681.88,190.4 682.00,185.4 682.30,179.2 682.42,185.4 682.72,191.0 682.84,185.4 683.14,179.5 683.26,185.4 683.56,192.6 683.68,185.4 683.98,180.4 684.10,185.4 684.40,191.5 684.52,185.4 684.82,179.4 684.94,185.4 685.24,190.3 685.36,185.4 685.66,180.4 685.78,185.4 686.08,190.9 686.20,185.4 686.50,179.6 686.62,185.4 686.92,190.2 687.04,185.4 687.34,180.5 687.46,185.4 687.76,191.1 687.88,185.4 688.18,177.2 688.30,185.4 688.60,192.5 688.72,185.4 689.02,180.2 689.14,185.4 689.44,191.7 689.56,185.4 689.86,178.7 689.98,185.4 690.28,191.1 690.40,185.4 690.70,179.2 690.82,185.4 691.12,191.2 691.24,185.4 691.54,178.9 691.66,185.4 691.96,190.8 692.08,185.4 692.38,179.9 692.50,185.4 692.80,192.2 692.92,185.4 693.22,178.5 693.34,185.4 693.64,190.3 693.76,185.4 694.06,178.1 694.18,185.4 694.48,192.7 694.60,185.4 694.90,179.1 695.02,185.4 695.32,190.5 695.44,185.4 695.74,178.3 695.86,185.4 696.16,191.5 696.28,185.4 696.58,178.8 696.70,185.4 697.00,191.8 697.12,185.4 697.42,178.3 697.54,185.4 697.84,191.7 697.96,185.4 698.26,180.3 698.38,185.4 698.68,190.9 698.80,185.4 699.10,178.8 699.22,185.4 699.52,192.3 699.64,185.4 699.94,179.7 700.06,185.4 700.36,191.2 700.48,185.4 700.78,179.5 700.90,185.4 701.20,192.3 701.32,185.4 701.62,178.7 701.74,185.4 702.04,192.7 702.16,185.4 702.46,180.4 702.58,185.4 702.88,190.2 703.00,185.4 703.30,180.6 703.42,185.4 703.72,192.1 703.84,185.4 704.14,176.2 704.26,185.4 704.56,190.1 704.68,185.4 704.98,179.8 705.10,185.4 705.40,191.0 705.52,185.4 705.82,179.3 705.94,185.4 706.24,192.1 706.36,185.4 706.66,179.7 706.78,185.4 707.08,192.8 707.20,185.4 707.50,178.0 707.62,185.4 707.92,192.7 708.04,185.4 708.34,180.6 708.46,185.4 708.76,192.4 708.88,185.4 709.18,177.5 709.30,185.4 709.60,193.4 709.72,185.4 710.02,177.6 710.14,185.4 710.44,192.7 710.56,185.4 710.86,179.0 710.98,185.4 711.28,193.1 711.40,185.4 711.70,179.4 711.82,185.4 712.12,192.9 712.24,185.4 712.54,179.9 712.66,185.4 712.96,190.8 713.08,185.4 713.38,178.6 713.50,185.4 713.80,191.9 713.92,185.4 714.22,179.1 714.34,185.4 714.64,192.5 714.76,185.4 715.06,177.6 715.18,185.4 715.48,193.4 715.60,185.4 715.90,180.5 716.02,185.4 716.32,190.1 716.44,185.4 716.74,178.1 716.86,185.4 717.16,192.9 717.28,185.4 717.58,178.9 717.70,185.4 718.00,192.6 718.12,185.4 718.42,178.5 718.54,185.4 718.84,191.1 718.96,185.4 719.26,180.4 719.38,185.4 719.68,191.8 719.80,185.4 720.10,180.5 720.22,185.4 720.52,192.9 720.64,185.4 720.94,177.7 721.06,185.4 721.36,192.6 721.48,185.4 721.78,178.7 721.90,185.4 722.20,191.7 722.32,185.4 722.62,179.6 722.74,185.4 723.04,193.1 723.16,185.4 723.46,179.4 723.58,185.4 723.88,191.2 724.00,185.4 724.30,178.7 724.42,185.4 724.72,190.8 724.84,185.4 725.14,179.3 725.26,185.4 725.56,192.8 725.68,185.4 725.98,180.4 726.10,185.4 726.40,190.4 726.52,185.4 726.82,180.1 726.94,185.4 727.24,190.9 727.36,185.4 727.66,178.2 727.78,185.4 728.08,191.0 728.20,185.4 728.50,179.2 728.62,185.4 728.92,193.0 729.04,185.4 729.34,179.3 729.46,185.4 729.76,193.1 729.88,185.4 730.18,178.0 730.30,185.4 730.60,191.4 730.72,185.4 731.02,179.7 731.14,185.4 731.44,193.8 731.56,185.4 731.86,178.9 731.98,185.4 732.28,191.7 732.40,185.4 732.70,180.7 732.82,185.4 733.12,190.4 733.24,185.4 733.54,180.5 733.66,185.4 733.96,191.2 734.08,185.4 734.38,180.2 734.50,185.4 734.80,190.8 734.92,185.4 735.22,179.9 735.34,185.4 735.64,192.5 735.76,185.4 736.06,178.4 736.18,185.4 736.48,191.5 736.60,185.4 736.90,178.1 737.02,185.4 737.32,192.1 737.44,185.4 737.74,179.4 737.86,185.4 738.16,191.1 738.28,185.4 738.58,178.8 738.70,185.4 739.00,190.5 739.12,185.4 739.42,178.8 739.54,185.4 739.84,191.2 739.96,185.4 740.26,178.4 740.38,185.4 740.68,192.4 740.80,185.4 741.10,179.4 741.22,185.4 741.52,191.3 741.64,185.4 741.94,178.9 742.06,185.4 742.36,192.1 742.48,185.4 742.78,178.7 742.90,185.4 743.20,190.7 743.32,185.4 743.62,178.0 743.74,185.4 744.04,190.6 744.16,185.4 744.46,179.2 744.58,185.4 744.88,191.6 745.00,185.4 745.30,178.5 745.42,185.4 745.72,190.5 745.84,185.4 746.14,179.2 746.26,185.4 746.56,191.0 746.68,185.4 746.98,180.7 747.10,185.4 747.40,192.1 747.52,185.4 747.82,180.1 747.94,185.4 748.24,190.9 748.36,185.4 748.66,180.2 748.78,185.4 749.08,192.2 749.20,185.4 749.50,179.0 749.62,185.4 749.92,191.8 750.04,185.4 750.34,178.1 750.46,185.4 750.76,191.0 750.88,185.4 751.18,178.7 751.30,185.4 751.60,193.0 751.72,185.4 752.02,179.7 752.14,185.4 752.44,191.7 752.56,185.4 752.86,179.9 752.98,185.4 753.28,190.8 753.40,185.4 753.70,178.8 753.82,185.4 754.12,193.2 754.24,185.4 754.54,179.8 754.66,185.4 754.96,190.3 755.08,185.4 755.38,177.7 755.50,185.4 755.80,192.7 755.92,185.4 756.22,178.1 756.34,185.4 756.64,191.2 756.76,185.4 757.06,180.1 757.18,185.4 757.48,190.6 757.60,185.4 757.90,177.4 758.02,185.4 758.32,193.1 758.44,185.4 758.74,178.1 758.86,185.4 759.16,191.6 759.28,185.4 759.58,178.4 759.70,185.4 760.00,191.8 760.12,185.4 760.42,179.7 760.54,185.4 760.84,191.3 760.96,185.4 761.26,180.5 761.38,185.4 761.68,190.6 761.80,185.4 762.10,180.1 762.22,185.4 762.52,192.2 762.64,185.4 762.94,178.5 763.06,185.4 763.36,190.3 763.48,185.4 763.78,179.3 763.90,185.4 764.20,193.2 764.32,185.4 764.62,180.1 764.74,185.4 765.04,192.9 765.16,185.4 765.46,180.2 765.58,185.4 765.88,192.6 766.00,185.4 766.30,177.9 766.42,185.4 766.72,192.5 766.84,185.4 767.14,179.5 767.26,185.4 767.56,192.7 767.68,185.4 767.98,180.8 768.10,185.4 768.40,193.0 768.52,185.4 768.82,180.5 768.94,185.4 769.24,193.3 769.36,185.4 769.66,177.9 769.78,185.4 770.08,191.7 770.20,185.4 770.50,178.8 770.62,185.4 770.92,190.8 771.04,185.4 771.34,178.4 771.46,185.4 771.76,193.0 771.88,185.4 772.18,178.4 772.30,185.4 772.60,190.2 772.72,185.4 773.02,180.6 773.14,185.4 773.44,192.4 773.56,185.4 773.86,178.8 773.98,185.4 774.28,192.0 774.40,185.4 774.70,179.8 774.82,185.4 775.12,190.8 775.24,185.4 775.54,179.6 775.66,185.4 775.96,191.1 776.08,185.4 776.38,178.5 776.50,185.4 776.80,191.4 776.92,185.4 777.22,179.3 777.34,185.4 777.64,191.4 777.76,185.4 778.06,178.3 778.18,185.4 778.48,191.9 778.60,185.4 778.90,178.5 779.02,185.4 779.32,192.4 779.44,185.4 779.74,180.3 779.86,185.4 780.16,191.9 780.28,185.4 780.58,180.1 780.70,185.4 781.00,190.8 781.12,185.4 781.42,180.1 781.54,185.4 781.84,192.0 781.96,185.4 782.26,180.7 782.38,185.4 782.68,191.3 782.80,185.4 783.10,180.1 783.22,185.4 783.52,192.3 783.64,185.4 783.94,178.6 784.06,185.4 784.36,193.0 784.48,185.4 784.78,178.2 784.90,185.4 785.20,191.0 785.32,185.4 785.62,179.1 785.74,185.4 786.04,192.1 786.16,185.4 786.46,180.0 786.58,185.4 786.88,191.6 787.00,185.4 787.30,180.8 787.42,185.4 787.72,192.0 787.84,185.4 788.14,178.7 788.26,185.4 788.56,190.5 788.68,185.4 788.98,180.2 789.10,185.4 789.40,191.7 789.52,185.4 789.82,178.4 789.94,185.4 790.24,190.7 790.36,185.4 790.66,179.7 790.78,185.4 791.08,192.2 791.20,185.4 791.50,179.7 791.62,185.4 791.92,192.4 792.04,185.4 792.34,180.1 792.46,185.4 792.76,190.9 792.88,185.4 793.18,179.5 793.30,185.4 793.60,191.6 793.72,185.4 794.02,178.2 794.14,185.4 794.44,192.2 794.56,185.4 794.86,179.3 794.98,185.4 795.28,191.3 795.40,185.4 795.70,179.6 795.82,185.4 796.12,191.6 796.24,185.4 796.54,177.8 796.66,185.4 796.96,192.4 797.08,185.4 797.38,178.5 797.50,185.4" fill="none" stroke="#000" stroke-width="0.6"/>
<line x1="447.5" y1="232.5" x2="447.5" y2="302.5" stroke="#444" stroke-width="1.1"/>
<line x1="462.5" y1="232.5" x2="462.5" y2="301.25" stroke="#444" stroke-width="1.1"/>
<line x1="476.5" y1="231.25" x2="476.5" y2="301.25" stroke="#444" stroke-width="1.1"/>
<line x1="491.5" y1="235" x2="491.5" y2="302.5" stroke="#444" stroke-width="1.1"/>
<line x1="509.5" y1="231.25" x2="509.5" y2="302.5" stroke="#444" stroke-width="1.1"/>
<line x1="520.5" y1="236.25" x2="520.5" y2="302.5" stroke="#444" stroke-width="1.1"/>
<line x1="532.5" y1="238" x2="532.5" y2="303.75" stroke="#444" stroke-width="1.1"/>
<line x1="546.5" y1="238" x2="546.5" y2="302.5" stroke="#444" stroke-width="1.1"/>
<line x1="562.5" y1="240" x2="562.5" y2="300" stroke="#444" stroke-width="1.1"/>
<line x1="577.5" y1="232" x2="577.5" y2="302.5" stroke="#444" stroke-width="1.1"/>
<line x1="593.5" y1="232" x2="593.5" y2="301.25" stroke="#444" stroke-width="1.1"/>
<line x1="608.5" y1="232.5" x2="608.5" y2="302.5" stroke="#444" stroke-width="1.1"/>
<line x1="638.5" y1="232" x2="638.5" y2="302" stroke="#444" stroke-width="1.1"/>
<line x1="655.5" y1="232" x2="655.5" y2="305" stroke="#444" stroke-width="1.1"/>
<line x1="667.5" y1="238.75" x2="667.5" y2="305" stroke="#444" stroke-width="1.1"/>
<line x1="681.5" y1="234.25" x2="681.5" y2="300" stroke="#444" stroke-width="1.1"/>
<line x1="698.5" y1="234.25" x2="698.5" y2="301.25" stroke="#444" stroke-width="1.1"/>
<line x1="716.5" y1="232" x2="716.5" y2="301.25" stroke="#444" stroke-width="1.1"/>
<line x1="735.5" y1="235" x2="735.5" y2="303.75" stroke="#444" stroke-width="1.1"/>
<line x1="750.5" y1="234.25" x2="750.5" y2="302.5" stroke="#444" stroke-width="1.1"/>
<line x1="767.5" y1="238" x2="767.5" y2="301.25" stroke="#444" stroke-width="1.1"/>
<line x1="788.5" y1="237" x2="788.5" y2="301.25" stroke="#444" stroke-width="1.1"/>
<rect x="434.5" y="281.90" width="363.0" height="9.00" fill="#000"/>
<polyline points="434.50,280.2 434.62,286.4 434.92,293.2 435.04,286.4 435.34,277.8 435.46,286.4 435.76,292.1 435.88,286.4 436.18,279.6 436.30,286.4 436.60,293.2 436.72,286.4 437.02,281.1 437.14,286.4 437.44,293.1 437.56,286.4 437.86,281.8 437.98,286.4 438.28,292.7 438.40,286.4 438.70,281.2 438.82,286.4 439.12,291.8 439.24,286.4 439.54,280.7 439.66,286.4 439.96,293.0 440.08,286.4 440.38,280.8 440.50,286.4 440.80,294.2 440.92,286.4 441.22,279.1 441.34,286.4 441.64,291.8 441.76,286.4 442.06,280.7 442.18,286.4 442.48,291.2 442.60,286.4 442.90,275.9 443.02,286.4 443.32,292.6 443.44,286.4 443.74,280.3 443.86,286.4 444.16,292.4 444.28,286.4 444.58,278.8 444.70,286.4 445.00,291.7 445.12,286.4 445.42,280.7 445.54,286.4 445.84,293.0 445.96,286.4 446.26,280.8 446.38,286.4 446.68,293.9 446.80,286.4 447.10,279.7 447.22,286.4 447.52,291.7 447.64,286.4 447.94,281.5 448.06,286.4 448.36,290.9 448.48,286.4 448.78,279.2 448.90,286.4 449.20,292.8 449.32,286.4 449.62,279.9 449.74,286.4 450.04,292.5 450.16,286.4 450.46,278.9 450.58,286.4 450.88,292.8 451.00,286.4 451.30,281.6 451.42,286.4 451.72,291.0 451.84,286.4 452.14,280.4 452.26,286.4 452.56,292.6 452.68,286.4 452.98,280.4 453.10,286.4 453.40,292.1 453.52,286.4 453.82,281.3 453.94,286.4 454.24,291.2 454.36,286.4 454.66,280.7 454.78,286.4 455.08,291.6 455.20,286.4 455.50,279.5 455.62,286.4 455.92,291.6 456.04,286.4 456.34,280.0 456.46,286.4 456.76,293.2 456.88,286.4 457.18,278.8 457.30,286.4 457.60,291.7 457.72,286.4 458.02,281.7 458.14,286.4 458.44,291.8 458.56,286.4 458.86,280.4 458.98,286.4 459.28,292.5 459.40,286.4 459.70,280.5 459.82,286.4 460.12,292.8 460.24,286.4 460.54,279.7 460.66,286.4 460.96,292.4 461.08,286.4 461.38,279.7 461.50,286.4 461.80,292.0 461.92,286.4 462.22,279.8 462.34,286.4 462.64,292.1 462.76,286.4 463.06,280.6 463.18,286.4 463.48,292.6 463.60,286.4 463.90,280.9 464.02,286.4 464.32,291.1 464.44,286.4 464.74,281.8 464.86,286.4 465.16,291.3 465.28,286.4 465.58,280.4 465.70,286.4 466.00,292.1 466.12,286.4 466.42,279.9 466.54,286.4 466.84,292.5 466.96,286.4 467.26,279.5 467.38,286.4 467.68,292.6 467.80,286.4 468.10,280.3 468.22,286.4 468.52,292.7 468.64,286.4 468.94,279.6 469.06,286.4 469.36,293.8 469.48,286.4 469.78,281.8 469.90,286.4 470.20,293.3 470.32,286.4 470.62,279.3 470.74,286.4 471.04,291.5 471.16,286.4 471.46,279.9 471.58,286.4 471.88,291.4 472.00,286.4 472.30,281.1 472.42,286.4 472.72,292.4 472.84,286.4 473.14,281.5 473.26,286.4 473.56,291.1 473.68,286.4 473.98,279.4 474.10,286.4 474.40,293.8 474.52,286.4 474.82,279.0 474.94,286.4 475.24,294.2 475.36,286.4 475.66,281.3 475.78,286.4 476.08,291.7 476.20,286.4 476.50,278.8 476.62,286.4 476.92,291.3 477.04,286.4 477.34,280.4 477.46,286.4 477.76,292.9 477.88,286.4 478.18,279.6 478.30,286.4 478.60,291.1 478.72,286.4 479.02,280.8 479.14,286.4 479.44,292.1 479.56,286.4 479.86,281.4 479.98,286.4 480.28,291.1 480.40,286.4 480.70,279.4 480.82,286.4 481.12,293.7 481.24,286.4 481.54,278.9 481.66,286.4 481.96,293.8 482.08,286.4 482.38,279.9 482.50,286.4 482.80,294.1 482.92,286.4 483.22,279.1 483.34,286.4 483.64,293.9 483.76,286.4 484.06,280.1 484.18,286.4 484.48,292.0 484.60,286.4 484.90,280.0 485.02,286.4 485.32,291.4 485.44,286.4 485.74,280.9 485.86,286.4 486.16,292.3 486.28,286.4 486.58,279.7 486.70,286.4 487.00,293.0 487.12,286.4 487.42,280.8 487.54,286.4 487.84,292.5 487.96,286.4 488.26,281.6 488.38,286.4 488.68,294.1 488.80,286.4 489.10,280.7 489.22,286.4 489.52,294.2 489.64,286.4 489.94,281.8 490.06,286.4 490.36,293.8 490.48,286.4 490.78,278.9 490.90,286.4 491.20,293.4 491.32,286.4 491.62,279.3 491.74,286.4 492.04,290.9 492.16,286.4 492.46,281.7 492.58,286.4 492.88,293.0 493.00,286.4 493.30,279.9 493.42,286.4 493.72,292.6 493.84,286.4 494.14,280.1 494.26,286.4 494.56,292.8 494.68,286.4 494.98,281.1 495.10,286.4 495.40,292.0 495.52,286.4 495.82,280.0 495.94,286.4 496.24,291.5 496.36,286.4 496.66,281.8 496.78,286.4 497.08,292.2 497.20,286.4 497.50,280.0 497.62,286.4 497.92,291.2 498.04,286.4 498.34,279.8 498.46,286.4 498.76,291.6 498.88,286.4 499.18,281.6 499.30,286.4 499.60,292.1 499.72,286.4 500.02,280.4 500.14,286.4 500.44,291.5 500.56,286.4 500.86,280.8 500.98,286.4 501.28,293.5 501.40,286.4 501.70,280.0 501.82,286.4 502.12,293.6 502.24,286.4 502.54,279.9 502.66,286.4 502.96,291.8 503.08,286.4 503.38,279.1 503.50,286.4 503.80,292.0 503.92,286.4 504.22,279.5 504.34,286.4 504.64,292.0 504.76,286.4 505.06,279.3 505.18,286.4 505.48,293.4 505.60,286.4 505.90,280.8 506.02,286.4 506.32,292.2 506.44,286.4 506.74,279.5 506.86,286.4 507.16,291.6 507.28,286.4 507.58,279.7 507.70,286.4 508.00,291.3 508.12,286.4 508.42,281.1 508.54,286.4 508.84,292.5 508.96,286.4 509.26,281.2 509.38,286.4 509.68,290.9 509.80,286.4 510.10,279.5 510.22,286.4 510.52,291.6 510.64,286.4 510.94,280.6 511.06,286.4 511.36,291.6 511.48,286.4 511.78,280.2 511.90,286.4 512.20,291.3 512.32,286.4 512.62,279.5 512.74,286.4 513.04,291.6 513.16,286.4 513.46,281.1 513.58,286.4 513.88,293.5 514.00,286.4 514.30,280.9 514.42,286.4 514.72,291.8 514.84,286.4 515.14,280.1 515.26,286.4 515.56,291.9 515.68,286.4 515.98,281.4 516.10,286.4 516.40,291.2 516.52,286.4 516.82,280.8 516.94,286.4 517.24,293.0 517.36,286.4 517.66,278.2 517.78,286.4 518.08,294.4 518.20,286.4 518.50,279.4 518.62,286.4 518.92,292.5 519.04,286.4 519.34,278.6 519.46,286.4 519.76,293.8 519.88,286.4 520.18,279.1 520.30,286.4 520.60,291.3 520.72,286.4 521.02,279.1 521.14,286.4 521.44,293.1 521.56,286.4 521.86,279.2 521.98,286.4 522.28,291.5 522.40,286.4 522.70,279.6 522.82,286.4 523.12,292.7 523.24,286.4 523.54,280.4 523.66,286.4 523.96,291.3 524.08,286.4 524.38,279.3 524.50,286.4 524.80,292.2 524.92,286.4 525.22,279.3 525.34,286.4 525.64,293.8 525.76,286.4 526.06,281.7 526.18,286.4 526.48,291.2 526.60,286.4 526.90,281.4 527.02,286.4 527.32,291.0 527.44,286.4 527.74,280.9 527.86,286.4 528.16,291.5 528.28,286.4 528.58,279.8 528.70,286.4 529.00,294.1 529.12,286.4 529.42,279.9 529.54,286.4 529.84,292.1 529.96,286.4 530.26,280.5 530.38,286.4 530.68,292.6 530.80,286.4 531.10,281.3 531.22,286.4 531.52,294.3 531.64,286.4 531.94,280.2 532.06,286.4 532.36,293.2 532.48,286.4 532.78,280.0 532.90,286.4 533.20,292.8 533.32,286.4 533.62,281.5 533.74,286.4 534.04,291.7 534.16,286.4 534.46,279.3 534.58,286.4 534.88,291.1 535.00,286.4 535.30,280.4 535.42,286.4 535.72,291.7 535.84,286.4 536.14,280.9 536.26,286.4 536.56,293.1 536.68,286.4 536.98,280.3 537.10,286.4 537.40,292.1 537.52,286.4 537.82,280.7 537.94,286.4 538.24,291.8 538.36,286.4 538.66,280.7 538.78,286.4 539.08,292.2 539.20,286.4 539.50,281.0 539.62,286.4 539.92,292.1 540.04,286.4 540.34,280.2 540.46,286.4 540.76,291.5 540.88,286.4 541.18,280.5 541.30,286.4 541.60,292.1 541.72,286.4 542.02,279.9 542.14,286.4 542.44,292.5 542.56,286.4 542.86,279.9 542.98,286.4 543.28,292.6 543.40,286.4 543.70,279.9 543.82,286.4 544.12,292.6 544.24,286.4 544.54,280.9 544.66,286.4 544.96,293.4 545.08,286.4 545.38,279.1 545.50,286.4 545.80,291.5 545.92,286.4 546.22,279.1 546.34,286.4 546.64,292.8 546.76,286.4 547.06,280.6 547.18,286.4 547.48,290.9 547.60,286.4 547.90,281.1 548.02,286.4 548.32,292.9 548.44,286.4 548.74,280.6 548.86,286.4 549.16,291.7 549.28,286.4 549.58,281.0 549.70,286.4 550.00,291.1 550.12,286.4 550.42,280.6 550.54,286.4 550.84,293.4 550.96,286.4 551.26,281.8 551.38,286.4 551.68,291.0 551.80,286.4 552.10,279.6 552.22,286.4 552.52,292.8 552.64,286.4 552.94,280.9 553.06,286.4 553.36,291.7 553.48,286.4 553.78,280.0 553.90,286.4 554.20,291.6 554.32,286.4 554.62,281.3 554.74,286.4 555.04,292.9 555.16,286.4 555.46,281.6 555.58,286.4 555.88,292.9 556.00,286.4 556.30,279.8 556.42,286.4 556.72,291.6 556.84,286.4 557.14,279.6 557.26,286.4 557.56,293.3 557.68,286.4 557.98,279.2 558.10,286.4 558.40,293.0 558.52,286.4 558.82,279.5 558.94,286.4 559.24,294.5 559.36,286.4 559.66,279.1 559.78,286.4 560.08,291.4 560.20,286.4 560.50,281.1 560.62,286.4 560.92,293.1 561.04,286.4 561.34,281.4 561.46,286.4 561.76,291.4 561.88,286.4 562.18,279.1 562.30,286.4 562.60,292.1 562.72,286.4 563.02,279.5 563.14,286.4 563.44,291.4 563.56,286.4 563.86,279.0 563.98,286.4 564.28,291.7 564.40,286.4 564.70,281.7 564.82,286.4 565.12,293.8 565.24,286.4 565.54,281.2 565.66,286.4 565.96,291.3 566.08,286.4 566.38,281.4 566.50,286.4 566.80,292.7 566.92,286.4 567.22,281.8 567.34,286.4 567.64,293.2 567.76,286.4 568.06,281.9 568.18,286.4 568.48,296.9 568.60,286.4 568.90,281.9 569.02,286.4 569.32,291.3 569.44,286.4 569.74,279.9 569.86,286.4 570.16,292.7 570.28,286.4 570.58,281.6 570.70,286.4 571.00,295.4 571.12,286.4 571.42,280.8 571.54,286.4 571.84,293.8 571.96,286.4 572.26,279.2 572.38,286.4 572.68,293.3 572.80,286.4 573.10,278.8 573.22,286.4 573.52,293.3 573.64,286.4 573.94,280.1 574.06,286.4 574.36,292.8 574.48,286.4 574.78,279.3 574.90,286.4 575.20,292.0 575.32,286.4 575.62,279.7 575.74,286.4 576.04,292.6 576.16,286.4 576.46,279.8 576.58,286.4 576.88,293.5 577.00,286.4 577.30,281.4 577.42,286.4 577.72,291.3 577.84,286.4 578.14,280.5 578.26,286.4 578.56,291.8 578.68,286.4 578.98,281.0 579.10,286.4 579.40,291.5 579.52,286.4 579.82,279.2 579.94,286.4 580.24,293.0 580.36,286.4 580.66,280.3 580.78,286.4 581.08,293.0 581.20,286.4 581.50,281.7 581.62,286.4 581.92,291.4 582.04,286.4 582.34,280.1 582.46,286.4 582.76,291.5 582.88,286.4 583.18,280.1 583.30,286.4 583.60,291.2 583.72,286.4 584.02,279.9 584.14,286.4 584.44,292.5 584.56,286.4 584.86,280.5 584.98,286.4 585.28,292.5 585.40,286.4 585.70,279.6 585.82,286.4 586.12,293.1 586.24,286.4 586.54,281.1 586.66,286.4 586.96,293.7 587.08,286.4 587.38,280.8 587.50,286.4 587.80,291.4 587.92,286.4 588.22,281.0 588.34,286.4 588.64,291.8 588.76,286.4 589.06,280.5 589.18,286.4 589.48,291.5 589.60,286.4 589.90,281.6 590.02,286.4 590.32,291.0 590.44,286.4 590.74,281.2 590.86,286.4 591.16,292.3 591.28,286.4 591.58,280.3 591.70,286.4 592.00,291.5 592.12,286.4 592.42,280.2 592.54,286.4 592.84,292.2 592.96,286.4 593.26,281.1 593.38,286.4 593.68,292.4 593.80,286.4 594.10,279.4 594.22,286.4 594.52,292.9 594.64,286.4 594.94,281.0 595.06,286.4 595.36,292.3 595.48,286.4 595.78,281.6 595.90,286.4 596.20,292.6 596.32,286.4 596.62,280.9 596.74,286.4 597.04,292.2 597.16,286.4 597.46,281.0 597.58,286.4 597.88,292.5 598.00,286.4 598.30,280.3 598.42,286.4 598.72,292.2 598.84,286.4 599.14,279.3 599.26,286.4 599.56,293.0 599.68,286.4 599.98,279.2 600.10,286.4 600.40,292.8 600.52,286.4 600.82,279.4 600.94,286.4 601.24,293.8 601.36,286.4 601.66,278.8 601.78,286.4 602.08,290.9 602.20,286.4 602.50,279.7 602.62,286.4 602.92,292.6 603.04,286.4 603.34,281.5 603.46,286.4 603.76,293.0 603.88,286.4 604.18,279.9 604.30,286.4 604.60,292.2 604.72,286.4 605.02,280.7 605.14,286.4 605.44,294.2 605.56,286.4 605.86,279.6 605.98,286.4 606.28,293.0 606.40,286.4 606.70,280.8 606.82,286.4 607.12,292.2 607.24,286.4 607.54,279.6 607.66,286.4 607.96,293.6 608.08,286.4 608.38,279.6 608.50,286.4 608.80,291.9 608.92,286.4 609.22,280.0 609.34,286.4 609.64,293.7 609.76,286.4 610.06,280.4 610.18,286.4 610.48,291.7 610.60,286.4 610.90,279.9 611.02,286.4 611.32,292.1 611.44,286.4 611.74,279.7 611.86,286.4 612.16,292.8 612.28,286.4 612.58,281.6 612.70,286.4 613.00,292.2 613.12,286.4 613.42,278.6 613.54,286.4 613.84,293.8 613.96,286.4 614.26,280.3 614.38,286.4 614.68,291.7 614.80,286.4 615.10,281.6 615.22,286.4 615.52,293.9 615.64,286.4 615.94,280.9 616.06,286.4 616.36,294.2 616.48,286.4 616.78,279.7 616.90,286.4 617.20,293.7 617.32,286.4 617.62,279.7 617.74,286.4 618.04,291.2 618.16,286.4 618.46,279.7 618.58,286.4 618.88,293.1 619.00,286.4 619.30,280.3 619.42,286.4 619.72,294.1 619.84,286.4 620.14,279.4 620.26,286.4 620.56,292.0 620.68,286.4 620.98,280.4 621.10,286.4 621.40,292.5 621.52,286.4 621.82,279.2 621.94,286.4 622.24,293.2 622.36,286.4 622.66,281.8 622.78,286.4 623.08,293.2 623.20,286.4 623.50,281.7 623.62,286.4 623.92,291.3 624.04,286.4 624.34,276.3 624.46,286.4 624.76,292.9 624.88,286.4 625.18,281.8 625.30,286.4 625.60,291.9 625.72,286.4 626.02,280.5 626.14,286.4 626.44,291.8 626.56,286.4 626.86,279.7 626.98,286.4 627.28,292.3 627.40,286.4 627.70,277.2 627.82,286.4 628.12,293.6 628.24,286.4 628.54,280.1 628.66,286.4 628.96,291.1 629.08,286.4 629.38,280.4 629.50,286.4 629.80,291.3 629.92,286.4 630.22,280.9 630.34,286.4 630.64,292.6 630.76,286.4 631.06,279.9 631.18,286.4 631.48,292.5 631.60,286.4 631.90,280.1 632.02,286.4 632.32,291.2 632.44,286.4 632.74,279.2 632.86,286.4 633.16,291.9 633.28,286.4 633.58,279.1 633.70,286.4 634.00,291.2 634.12,286.4 634.42,280.0 634.54,286.4 634.84,293.7 634.96,286.4 635.26,279.4 635.38,286.4 635.68,291.0 635.80,286.4 636.10,281.7 636.22,286.4 636.52,292.4 636.64,286.4 636.94,280.0 637.06,286.4 637.36,291.8 637.48,286.4 637.78,280.7 637.90,286.4 638.20,292.5 638.32,286.4 638.62,280.2 638.74,286.4 639.04,291.5 639.16,286.4 639.46,280.9 639.58,286.4 639.88,291.8 640.00,286.4 640.30,279.8 640.42,286.4 640.72,292.5 640.84,286.4 641.14,281.5 641.26,286.4 641.56,291.1 641.68,286.4 641.98,280.8 642.10,286.4 642.40,292.8 642.52,286.4 642.82,281.5 642.94,286.4 643.24,291.8 643.36,286.4 643.66,281.4 643.78,286.4 644.08,291.1 644.20,286.4 644.50,279.4 644.62,286.4 644.92,293.4 645.04,286.4 645.34,280.5 645.46,286.4 645.76,292.1 645.88,286.4 646.18,279.0 646.30,286.4 646.60,291.5 646.72,286.4 647.02,278.7 647.14,286.4 647.44,291.9 647.56,286.4 647.86,281.6 647.98,286.4 648.28,291.0 648.40,286.4 648.70,280.1 648.82,286.4 649.12,291.9 649.24,286.4 649.54,279.8 649.66,286.4 649.96,293.5 650.08,286.4 650.38,280.5 650.50,286.4 650.80,291.2 650.92,286.4 651.22,280.3 651.34,286.4 651.64,293.7 651.76,286.4 652.06,281.7 652.18,286.4 652.48,293.6 652.60,286.4 652.90,279.2 653.02,286.4 653.32,291.5 653.44,286.4 653.74,280.7 653.86,286.4 654.16,291.6 654.28,286.4 654.58,280.0 654.70,286.4 655.00,293.5 655.12,286.4 655.42,279.3 655.54,286.4 655.84,292.3 655.96,286.4 656.26,281.1 656.38,286.4 656.68,291.0 656.80,286.4 657.10,278.9 657.22,286.4 657.52,291.8 657.64,286.4 657.94,281.1 658.06,286.4 658.36,293.4 658.48,286.4 658.78,278.8 658.90,286.4 659.20,291.9 659.32,286.4 659.62,279.9 659.74,286.4 660.04,292.0 660.16,286.4 660.46,279.2 660.58,286.4 660.88,292.0 661.00,286.4 661.30,278.6 661.42,286.4 661.72,294.2 661.84,286.4 662.14,281.7 662.26,286.4 662.56,293.5 662.68,286.4 662.98,281.5 663.10,286.4 663.40,294.3 663.52,286.4 663.82,278.7 663.94,286.4 664.24,292.5 664.36,286.4 664.66,281.0 664.78,286.4 665.08,293.4 665.20,286.4 665.50,280.9 665.62,286.4 665.92,291.0 666.04,286.4 666.34,280.4 666.46,286.4 666.76,291.1 666.88,286.4 667.18,279.5 667.30,286.4 667.60,291.3 667.72,286.4 668.02,281.8 668.14,286.4 668.44,292.8 668.56,286.4 668.86,280.2 668.98,286.4 669.28,292.3 669.40,286.4 669.70,279.5 669.82,286.4 670.12,293.4 670.24,286.4 670.54,279.8 670.66,286.4 670.96,292.7 671.08,286.4 671.38,280.7 671.50,286.4 671.80,291.8 671.92,286.4 672.22,281.9 672.34,286.4 672.64,291.8 672.76,286.4 673.06,279.6 673.18,286.4 673.48,291.6 673.60,286.4 673.90,280.6 674.02,286.4 674.32,291.1 674.44,286.4 674.74,281.4 674.86,286.4 675.16,292.5 675.28,286.4 675.58,280.8 675.70,286.4 676.00,292.3 676.12,286.4 676.42,279.7 676.54,286.4 676.84,293.8 676.96,286.4 677.26,279.2 677.38,286.4 677.68,291.5 677.80,286.4 678.10,280.8 678.22,286.4 678.52,292.7 678.64,286.4 678.94,281.0 679.06,286.4 679.36,292.5 679.48,286.4 679.78,281.9 679.90,286.4 680.20,292.8 680.32,286.4 680.62,280.9 680.74,286.4 681.04,292.4 681.16,286.4 681.46,280.6 681.58,286.4 681.88,291.8 682.00,286.4 682.30,279.7 682.42,286.4 682.72,293.0 682.84,286.4 683.14,279.6 683.26,286.4 683.56,293.1 683.68,286.4 683.98,281.1 684.10,286.4 684.40,292.3 684.52,286.4 684.82,280.4 684.94,286.4 685.24,292.4 685.36,286.4 685.66,281.2 685.78,286.4 686.08,291.5 686.20,286.4 686.50,281.3 686.62,286.4 686.92,293.4 687.04,286.4 687.34,279.3 687.46,286.4 687.76,292.5 687.88,286.4 688.18,279.7 688.30,286.4 688.60,293.2 688.72,286.4 689.02,279.0 689.14,286.4 689.44,292.1 689.56,286.4 689.86,281.7 689.98,286.4 690.28,293.4 690.40,286.4 690.70,279.4 690.82,286.4 691.12,291.2 691.24,286.4 691.54,278.6 691.66,286.4 691.96,293.4 692.08,286.4 692.38,281.0 692.50,286.4 692.80,292.5 692.92,286.4 693.22,281.1 693.34,286.4 693.64,293.5 693.76,286.4 694.06,281.6 694.18,286.4 694.48,293.6 694.60,286.4 694.90,281.7 695.02,286.4 695.32,292.0 695.44,286.4 695.74,281.8 695.86,286.4 696.16,292.1 696.28,286.4 696.58,281.2 696.70,286.4 697.00,292.2 697.12,286.4 697.42,280.7 697.54,286.4 697.84,293.8 697.96,286.4 698.26,279.4 698.38,286.4 698.68,292.0 698.80,286.4 699.10,279.7 699.22,286.4 699.52,292.0 699.64,286.4 699.94,280.2 700.06,286.4 700.36,291.6 700.48,286.4 700.78,281.5 700.90,286.4 701.20,296.7 701.32,286.4 701.62,280.1 701.74,286.4 702.04,293.7 702.16,286.4 702.46,278.8 702.58,286.4 702.88,292.2 703.00,286.4 703.30,279.9 703.42,286.4 703.72,293.7 703.84,286.4 704.14,281.8 704.26,286.4 704.56,291.7 704.68,286.4 704.98,279.2 705.10,286.4 705.40,293.8 705.52,286.4 705.82,278.9 705.94,286.4 706.24,293.6 706.36,286.4 706.66,280.4 706.78,286.4 707.08,291.3 707.20,286.4 707.50,281.3 707.62,286.4 707.92,293.3 708.04,286.4 708.34,279.4 708.46,286.4 708.76,293.5 708.88,286.4 709.18,279.3 709.30,286.4 709.60,291.9 709.72,286.4 710.02,279.8 710.14,286.4 710.44,292.2 710.56,286.4 710.86,279.1 710.98,286.4 711.28,291.3 711.40,286.4 711.70,279.7 711.82,286.4 712.12,292.3 712.24,286.4 712.54,280.9 712.66,286.4 712.96,292.1 713.08,286.4 713.38,279.8 713.50,286.4 713.80,291.8 713.92,286.4 714.22,281.3 714.34,286.4 714.64,292.8 714.76,286.4 715.06,279.7 715.18,286.4 715.48,293.2 715.60,286.4 715.90,280.4 716.02,286.4 716.32,291.6 716.44,286.4 716.74,281.3 716.86,286.4 717.16,292.4 717.28,286.4 717.58,281.2 717.70,286.4 718.00,291.2 718.12,286.4 718.42,281.3 718.54,286.4 718.84,293.8 718.96,286.4 719.26,281.5 719.38,286.4 719.68,295.0 719.80,286.4 720.10,281.1 720.22,286.4 720.52,293.1 720.64,286.4 720.94,281.1 721.06,286.4 721.36,291.6 721.48,286.4 721.78,280.2 721.90,286.4 722.20,292.7 722.32,286.4 722.62,281.8 722.74,286.4 723.04,291.5 723.16,286.4 723.46,279.9 723.58,286.4 723.88,292.7 724.00,286.4 724.30,280.3 724.42,286.4 724.72,290.9 724.84,286.4 725.14,280.9 725.26,286.4 725.56,292.6 725.68,286.4 725.98,281.4 726.10,286.4 726.40,292.9 726.52,286.4 726.82,279.9 726.94,286.4 727.24,291.0 727.36,286.4 727.66,280.1 727.78,286.4 728.08,291.6 728.20,286.4 728.50,280.6 728.62,286.4 728.92,293.2 729.04,286.4 729.34,279.6 729.46,286.4 729.76,293.1 729.88,286.4 730.18,279.5 730.30,286.4 730.60,292.8 730.72,286.4 731.02,279.0 731.14,286.4 731.44,292.8 731.56,286.4 731.86,279.3 731.98,286.4 732.28,293.9 732.40,286.4 732.70,281.3 732.82,286.4 733.12,293.1 733.24,286.4 733.54,278.3 733.66,286.4 733.96,292.9 734.08,286.4 734.38,280.3 734.50,286.4 734.80,293.6 734.92,286.4 735.22,281.7 735.34,286.4 735.64,292.9 735.76,286.4 736.06,278.8 736.18,286.4 736.48,293.6 736.60,286.4 736.90,278.8 737.02,286.4 737.32,293.9 737.44,286.4 737.74,279.7 737.86,286.4 738.16,293.0 738.28,286.4 738.58,276.5 738.70,286.4 739.00,292.3 739.12,286.4 739.42,281.1 739.54,286.4 739.84,292.8 739.96,286.4 740.26,281.8 740.38,286.4 740.68,293.4 740.80,286.4 741.10,279.8 741.22,286.4 741.52,292.4 741.64,286.4 741.94,278.1 742.06,286.4 742.36,292.9 742.48,286.4 742.78,281.2 742.90,286.4 743.20,293.5 743.32,286.4 743.62,280.8 743.74,286.4 744.04,291.6 744.16,286.4 744.46,281.1 744.58,286.4 744.88,291.4 745.00,286.4 745.30,280.7 745.42,286.4 745.72,291.8 745.84,286.4 746.14,280.2 746.26,286.4 746.56,294.4 746.68,286.4 746.98,280.8 747.10,286.4 747.40,293.4 747.52,286.4 747.82,279.4 747.94,286.4 748.24,291.7 748.36,286.4 748.66,281.2 748.78,286.4 749.08,293.3 749.20,286.4 749.50,279.5 749.62,286.4 749.92,293.5 750.04,286.4 750.34,280.1 750.46,286.4 750.76,291.0 750.88,286.4 751.18,280.6 751.30,286.4 751.60,291.7 751.72,286.4 752.02,279.9 752.14,286.4 752.44,291.5 752.56,286.4 752.86,279.2 752.98,286.4 753.28,295.7 753.40,286.4 753.70,279.9 753.82,286.4 754.12,291.5 754.24,286.4 754.54,280.0 754.66,286.4 754.96,291.5 755.08,286.4 755.38,280.8 755.50,286.4 755.80,292.1 755.92,286.4 756.22,281.4 756.34,286.4 756.64,291.7 756.76,286.4 757.06,280.8 757.18,286.4 757.48,291.8 757.60,286.4 757.90,281.2 758.02,286.4 758.32,293.0 758.44,286.4 758.74,279.6 758.86,286.4 759.16,291.3 759.28,286.4 759.58,281.2 759.70,286.4 760.00,291.1 760.12,286.4 760.42,280.7 760.54,286.4 760.84,293.1 760.96,286.4 761.26,280.9 761.38,286.4 761.68,293.1 761.80,286.4 762.10,279.5 762.22,286.4 762.52,292.2 762.64,286.4 762.94,281.6 763.06,286.4 763.36,292.4 763.48,286.4 763.78,279.8 763.90,286.4 764.20,292.3 764.32,286.4 764.62,279.5 764.74,286.4 765.04,291.2 765.16,286.4 765.46,279.5 765.58,286.4 765.88,293.1 766.00,286.4 766.30,281.7 766.42,286.4 766.72,293.5 766.84,286.4 767.14,280.0 767.26,286.4 767.56,291.1 767.68,286.4 767.98,280.5 768.10,286.4 768.40,291.6 768.52,286.4 768.82,280.6 768.94,286.4 769.24,292.5 769.36,286.4 769.66,280.6 769.78,286.4 770.08,293.4 770.20,286.4 770.50,281.4 770.62,286.4 770.92,292.0 771.04,286.4 771.34,278.8 771.46,286.4 771.76,293.1 771.88,286.4 772.18,281.7 772.30,286.4 772.60,292.3 772.72,286.4 773.02,280.5 773.14,286.4 773.44,291.0 773.56,286.4 773.86,281.5 773.98,286.4 774.28,293.6 774.40,286.4 774.70,280.6 774.82,286.4 775.12,291.5 775.24,286.4 775.54,279.8 775.66,286.4 775.96,293.8 776.08,286.4 776.38,281.6 776.50,286.4 776.80,291.6 776.92,286.4 777.22,281.2 777.34,286.4 777.64,291.0 777.76,286.4 778.06,278.9 778.18,286.4 778.48,292.3 778.60,286.4 778.90,279.2 779.02,286.4 779.32,292.9 779.44,286.4 779.74,280.9 779.86,286.4 780.16,292.9 780.28,286.4 780.58,279.8 780.70,286.4 781.00,292.5 781.12,286.4 781.42,279.1 781.54,286.4 781.84,293.1 781.96,286.4 782.26,281.9 782.38,286.4 782.68,293.2 782.80,286.4 783.10,279.8 783.22,286.4 783.52,292.2 783.64,286.4 783.94,281.8 784.06,286.4 784.36,291.7 784.48,286.4 784.78,280.6 784.90,286.4 785.20,293.3 785.32,286.4 785.62,279.0 785.74,286.4 786.04,291.1 786.16,286.4 786.46,281.4 786.58,286.4 786.88,292.8 787.00,286.4 787.30,280.0 787.42,286.4 787.72,294.2 787.84,286.4 788.14,278.8 788.26,286.4 788.56,292.7 788.68,286.4 788.98,279.5 789.10,286.4 789.40,292.5 789.52,286.4 789.82,281.2 789.94,286.4 790.24,291.8 790.36,286.4 790.66,281.5 790.78,286.4 791.08,292.4 791.20,286.4 791.50,281.4 791.62,286.4 791.92,293.4 792.04,286.4 792.34,279.5 792.46,286.4 792.76,292.0 792.88,286.4 793.18,278.3 793.30,286.4 793.60,291.8 793.72,286.4 794.02,280.9 794.14,286.4 794.44,293.3 794.56,286.4 794.86,279.5 794.98,286.4 795.28,293.8 795.40,286.4 795.70,280.2 795.82,286.4 796.12,292.7 796.24,286.4 796.54,281.1 796.66,286.4 796.96,292.0 797.08,286.4 797.38,280.4 797.50,286.4" fill="none" stroke="#000" stroke-width="0.6"/>
<rect x="290.2" y="101.6" width="90.3" height="5" fill="#000"/>
<text x="315.2" y="126" font-size="18.9" font-weight="normal" text-anchor="start" >0.5 s</text>
<rect x="735.8" y="107" width="61.7" height="4.5" fill="#000"/>
<text x="746.9" y="129.3" font-size="18.9" font-weight="normal" text-anchor="start" >0.5 s</text>
<path d="M40,496.3 L40,390 L43.75,390 L43.75,397.5 L48.75,397.5 L48.75,394.4 L53,394.4 L53,390.9 L57.25,390.9 L57.25,400 L61.9,400 L61.9,398.75 L66.25,398.75 L66.25,397.25 L71.25,397.25 L71.25,393.1 L75,393.1 L75,396.9 L79.75,396.9 L79.75,397.5 L83.75,397.5 L83.75,401 L88.1,401 L88.1,391.25 L92.9,391.25 L92.9,399.4 L96.9,399.4 L96.9,394.4 L101.9,394.4 L101.9,405.6 L106.25,405.6 L106.25,399.75 L110.25,399.75 L110.25,393.1 L115,393.1 L115,403.5 L119.4,403.5 L119.4,401 L123.5,401 L123.5,399.75 L128.1,399.75 L128.1,384 L132.9,384 L132.9,401 L136.9,401 L136.9,396 L141.25,396 L141.25,393.1 L146,393.1 L146,387.1 L150.6,387.1 L150.6,394.4 L155,394.4 L155,400 L159.1,400 L159.1,397.25 L163.5,397.25 L163.5,391 L168.1,391 L168.1,393.75 L172.9,393.75 L172.9,396.9 L177,396.9 L177,396.9 L181,396.9 L181,401 L185.6,401 L185.6,394.4 L190,394.4 L190,398.1 L194.75,398.1 L194.75,390 L199,390 L199,396 L203.5,396 L203.5,388.5 L207.75,388.5 L207.75,394.4 L212.25,394.4 L212.25,395.4 L216.9,395.4 L216.9,398.1 L221.25,398.1 L221.25,393.75 L225.6,393.75 L225.6,397.5 L230,397.5 L230,393.1 L234.4,393.1 L234.4,394.75 L238.75,394.75 L238.75,394.75 L243.1,394.75 L243.1,393.1 L247.5,393.1 L247.5,393.1 L251.9,393.1 L251.9,396 L256.9,396 L256.9,401.25 L261.25,401.25 L261.25,401.9 L265,401.9 L265,396.9 L270,396.9 L270,400.6 L274.4,400.6 L274.4,397.25 L278.75,397.25 L278.75,402.25 L283.1,402.25 L283.1,393.1 L288.1,393.1 L288.1,400 L292.25,400 L292.25,388.5 L296.5,388.5 L296.5,396.25 L300.6,396.25 L300.6,391 L305,391 L305,393.5 L309.4,393.5 L309.4,387.9 L314,387.9 L314,386 L318.5,386 L318.5,394.4 L322.9,394.4 L322.9,392.5 L327.25,392.5 L327.25,391 L331.9,391 L331.9,401.9 L336.25,401.9 L336.25,396.25 L340.6,396.25 L340.6,405 L345.25,405 L345.25,394.4 L349.4,394.4 L349.4,388.5 L353.75,388.5 L353.75,405 L358.5,405 L358.5,397.25 L363.1,397.25 L363.1,390 L367.5,390 L367.5,391 L371.9,391 L371.9,404.1 L376.25,404.1 L376.25,394.4 L379.75,394.4 L379.75,496.3 Z" fill="#000"/>
<line x1="153.5" y1="395" x2="153.5" y2="496" stroke="#fff" stroke-width="1" stroke-dasharray="2,2.4"/>
<line x1="262.5" y1="402.5" x2="262.5" y2="496" stroke="#fff" stroke-width="1" stroke-dasharray="2,2.4"/>
<rect x="38" y="387.5" width="2" height="109" fill="#c8c8c8"/>
<line x1="37.5" y1="386.8" x2="37.5" y2="496.2" stroke="#4a4a4a" stroke-width="1"/>
<line x1="27" y1="387.4" x2="38" y2="387.4" stroke="#4a4a4a" stroke-width="1.2"/>
<line x1="30.1" y1="423.4" x2="38" y2="423.4" stroke="#4a4a4a" stroke-width="1.2"/>
<line x1="30.1" y1="460" x2="38" y2="460" stroke="#4a4a4a" stroke-width="1.2"/>
<line x1="27" y1="496.0" x2="38" y2="496.0" stroke="#4a4a4a" stroke-width="1.2"/>
<text x="0.6" y="391.8" font-size="18.6" font-weight="normal" text-anchor="start" >15</text>
<text x="0" y="0" font-size="20.6" font-weight="normal" text-anchor="start" transform="translate(19.2,483.7) rotate(-90)">Spikes/s</text>
<path d="M146.8,362.5 L160,362.5 L153.4,374.8 Z" fill="#000"/>
<text x="172.1" y="373.8" font-size="19.5" font-weight="normal" text-anchor="start" >Efa</text>
<path d="M255.5,362.5 L268.3,362.5 L261.9,375 Z" fill="#000"/>
<text x="281.3" y="374.1" font-size="20.1" font-weight="normal" text-anchor="start" >Agm+Efa</text>
<rect x="336.2" y="503.5" width="43.8" height="5" fill="#000"/>
<text x="333.0" y="527.2" font-size="18.7" font-weight="normal" text-anchor="start" >5 min</text>
<path d="M457.1,495.0 L457.1,390.6 L461,390.6 L461,393.1 L465.2,393.1 L465.2,393.1 L469.4,393.1 L469.4,384 L472.25,384 L472.25,400.25 L476,400.25 L476,396.25 L479.75,396.25 L479.75,394 L483.5,394 L483.5,396.9 L487,396.9 L487,396.9 L490.6,396.9 L490.6,405.25 L494.35,405.25 L494.35,405.25 L498.1,405.25 L498.1,398.5 L501.9,398.5 L501.9,394.75 L505.6,394.75 L505.6,392.25 L509.1,392.25 L509.1,390.9 L513.1,390.9 L513.1,393.75 L516.9,393.75 L516.9,400.25 L520.4,400.25 L520.4,390.9 L524,390.9 L524,400 L527.5,400 L527.5,390.9 L531.25,390.9 L531.25,397.25 L535.25,397.25 L535.25,406.25 L538.75,406.25 L538.75,387.25 L542.75,387.25 L542.75,396.9 L546.25,396.9 L546.25,386.25 L550,386.25 L550,391.9 L553.75,391.9 L553.75,398.5 L557.25,398.5 L557.25,396 L561,396 L561,393.1 L564.75,393.1 L564.75,398.5 L568.1,398.5 L568.1,389.4 L571.9,389.4 L571.9,397.75 L575.6,397.75 L575.6,396 L579.4,396 L579.4,392.25 L583.1,392.25 L583.1,395 L586.5,395 L586.5,395 L590,395 L590,386.25 L593.75,386.25 L593.75,393.1 L597.5,393.1 L597.5,390.9 L601,390.9 L601,398.5 L604.75,398.5 L604.75,402.25 L608.75,402.25 L608.75,387.25 L612.5,387.25 L612.5,385 L616.25,385 L616.25,385 L620,385 L620,390.9 L624,390.9 L624,379 L627.5,379 L627.5,386.25 L631.25,386.25 L631.25,386.25 L635,386.25 L635,389.4 L638.75,389.4 L638.75,386.25 L642.25,386.25 L642.25,391.25 L645.6,391.25 L645.6,390.6 L649.1,390.6 L649.1,387.25 L653.1,387.25 L653.1,392.25 L656.6,392.25 L656.6,398.5 L660.4,398.5 L660.4,402.25 L664.1,402.25 L664.1,386.5 L667.75,386.5 L667.75,390.6 L671.25,390.6 L671.25,388.1 L675,388.1 L675,385 L678.75,385 L678.75,386.25 L682.25,386.25 L682.25,395 L686,395 L686,396.9 L689.75,396.9 L689.75,394.6 L693.75,394.6 L693.75,399.4 L697.5,399.4 L697.5,396.25 L701,396.25 L701,393.1 L705,393.1 L705,391.9 L708.5,391.9 L708.5,391 L712.25,391 L712.25,388.75 L716,388.75 L716,394.4 L719.4,394.4 L719.4,390.6 L723.1,390.6 L723.1,390 L726.9,390 L726.9,394.4 L730.6,394.4 L730.6,393.1 L734.4,393.1 L734.4,391 L738.1,391 L738.1,395 L741.9,395 L741.9,388.75 L745.6,388.75 L745.6,391.25 L748.75,391.25 L748.75,393.75 L752.5,393.75 L752.5,392.9 L756.25,392.9 L756.25,397.25 L760,397.25 L760,398.5 L763.75,398.5 L763.75,391 L767.5,391 L767.5,383.1 L771,383.1 L771,388.75 L774.75,388.75 L774.75,393.1 L778.1,393.1 L778.1,393.1 L782,393.1 L782,393.1 L786,393.1 L786,400.6 L789.75,400.6 L789.75,386.25 L793.1,386.25 L793.1,391.9 L796.2,391.9 L796.2,495.0 Z" fill="#000"/>
<line x1="574.5" y1="398.5" x2="574.5" y2="495" stroke="#fff" stroke-width="1" stroke-dasharray="2,2.4"/>
<line x1="682.5" y1="387" x2="682.5" y2="495" stroke="#fff" stroke-width="1" stroke-dasharray="2,2.4"/>
<line x1="797.0" y1="392" x2="797.0" y2="495" stroke="#000" stroke-width="1.7" stroke-dasharray="2.2,2.2"/>
<line x1="454.9" y1="376.3" x2="454.9" y2="495.3" stroke="#999" stroke-width="1.6"/>
<line x1="457.4" y1="376.6" x2="457.4" y2="495" stroke="#333" stroke-width="0.8"/>
<line x1="444.2" y1="377.1" x2="455.5" y2="377.1" stroke="#888" stroke-width="1.5"/>
<line x1="446.7" y1="406.4" x2="455.5" y2="406.4" stroke="#555" stroke-width="1.1"/>
<line x1="446.7" y1="436.2" x2="455.5" y2="436.2" stroke="#555" stroke-width="1.1"/>
<line x1="446.7" y1="465.2" x2="455.5" y2="465.2" stroke="#555" stroke-width="1.1"/>
<line x1="444.2" y1="494.6" x2="455.5" y2="494.6" stroke="#888" stroke-width="1.5"/>
<text x="426.6" y="383.6" font-size="18.8" font-weight="normal" text-anchor="start" >8</text>
<text x="0" y="0" font-size="20.6" font-weight="normal" text-anchor="start" transform="translate(437.0,475.6) rotate(-90)">Spikes/s</text>
<path d="M567,361.3 L580.5,361.3 L573.8,374.3 Z" fill="#000"/>
<text x="589.5" y="372.6" font-size="19.5" font-weight="normal" text-anchor="start" >Efa</text>
<path d="M676.3,361.3 L689.5,361.3 L682.9,374.5 Z" fill="#000"/>
<text x="699.4" y="371.8" font-size="20.1" font-weight="normal" text-anchor="start" >Mox+Efa</text>
<rect x="752" y="499.8" width="45.8" height="4.7" fill="#000"/>
<text x="752.2" y="523.2" font-size="18.7" font-weight="normal" text-anchor="start" >6 min</text>
<rect x="138.8" y="610.6" width="49.50" height="228.90" fill="url(#hatch)" stroke="#000" stroke-width="2.3"/>
<line x1="213.1" y1="616.1" x2="213.1" y2="607.9" stroke="#000" stroke-width="2"/>
<line x1="197.9" y1="607.9" x2="228.0" y2="607.9" stroke="#000" stroke-width="2.4"/>
<rect x="188.3" y="616.1" width="49.70" height="223.40" fill="#fff" stroke="#000" stroke-width="2.3"/>
<line x1="262.9" y1="614.2" x2="262.9" y2="609.9" stroke="#000" stroke-width="2"/>
<line x1="248.0" y1="609.9" x2="277.7" y2="609.9" stroke="#000" stroke-width="2.4"/>
<rect x="238.0" y="614.2" width="50.00" height="225.30" fill="#000" stroke="#000" stroke-width="2.3"/>
<line x1="312.1" y1="607.5" x2="312.1" y2="595.5" stroke="#000" stroke-width="2"/>
<line x1="297.3" y1="595.5" x2="327.5" y2="595.5" stroke="#000" stroke-width="2.4"/>
<rect x="288.0" y="607.5" width="48.80" height="232.00" fill="#c0c0c0" stroke="#000" stroke-width="2.3"/>
<line x1="113.9" y1="580.70" x2="113.9" y2="840.50" stroke="#000" stroke-width="2.2"/>
<line x1="99" y1="839.5" x2="362.5" y2="839.5" stroke="#000" stroke-width="2.1"/>
<line x1="98.9" y1="610.50" x2="113.9" y2="610.50" stroke="#000" stroke-width="2.3"/>
<text x="91" y="619.50" font-size="24.5" font-weight="normal" text-anchor="end" >100</text>
<line x1="98.9" y1="667.70" x2="113.9" y2="667.70" stroke="#000" stroke-width="2.3"/>
<text x="91" y="676.70" font-size="24.5" font-weight="normal" text-anchor="end" >75</text>
<line x1="98.9" y1="724.90" x2="113.9" y2="724.90" stroke="#000" stroke-width="2.3"/>
<text x="91" y="733.90" font-size="24.5" font-weight="normal" text-anchor="end" >50</text>
<line x1="98.9" y1="782.10" x2="113.9" y2="782.10" stroke="#000" stroke-width="2.3"/>
<text x="91" y="791.10" font-size="24.5" font-weight="normal" text-anchor="end" >25</text>
<line x1="98.9" y1="839.30" x2="113.9" y2="839.30" stroke="#000" stroke-width="2.3"/>
<text x="91" y="848.30" font-size="24.5" font-weight="normal" text-anchor="end" >0</text>
<line x1="106.4" y1="581.90" x2="113.9" y2="581.90" stroke="#000" stroke-width="2.3"/>
<line x1="106.4" y1="639.10" x2="113.9" y2="639.10" stroke="#000" stroke-width="2.3"/>
<line x1="106.4" y1="696.30" x2="113.9" y2="696.30" stroke="#000" stroke-width="2.3"/>
<line x1="106.4" y1="753.50" x2="113.9" y2="753.50" stroke="#000" stroke-width="2.3"/>
<line x1="106.4" y1="810.70" x2="113.9" y2="810.70" stroke="#000" stroke-width="2.3"/>
<text x="0" y="0" font-size="22.8" font-weight="normal" text-anchor="middle" transform="translate(37.1,725.9) rotate(-90)">Mean firing rate [%]</text>
<text x="0" y="0" font-size="19" font-weight="bold" text-anchor="end" transform="translate(172.5,860.2) rotate(-45)">Control</text>
<text x="0" y="0" font-size="19.5" font-weight="bold" text-anchor="end" transform="translate(222.4,856.8) rotate(-45)">Efaroxan</text>
<text x="0" y="0" font-size="19.5" font-weight="bold" text-anchor="end" transform="translate(271.3,855.6) rotate(-45)">Agm+Efa</text>
<text x="0" y="0" font-size="20.7" font-weight="bold" text-anchor="end" transform="translate(322.6,856.5) rotate(-45)">Wash</text>
<text x="0" y="0" font-size="20.5" font-weight="normal" text-anchor="start" transform="translate(305.2,916.2)">n = 10</text>
<rect x="559.3" y="609.5" width="49.70" height="228.60" fill="url(#hatch)" stroke="#000" stroke-width="2.3"/>
<line x1="633.2" y1="605.4" x2="633.2" y2="597.3" stroke="#000" stroke-width="2"/>
<line x1="618.0" y1="597.3" x2="648.0" y2="597.3" stroke="#000" stroke-width="2.4"/>
<rect x="609.0" y="605.4" width="48.70" height="232.70" fill="#fff" stroke="#000" stroke-width="2.3"/>
<line x1="682.9" y1="603.9" x2="682.9" y2="585.8" stroke="#000" stroke-width="2"/>
<line x1="667.5" y1="585.8" x2="697.4" y2="585.8" stroke="#000" stroke-width="2.4"/>
<rect x="657.7" y="603.9" width="50.50" height="234.20" fill="#000" stroke="#000" stroke-width="2.3"/>
<line x1="732.4" y1="621.5" x2="732.4" y2="609.1" stroke="#000" stroke-width="2"/>
<line x1="717.3" y1="609.1" x2="747.0" y2="609.1" stroke="#000" stroke-width="2.4"/>
<rect x="708.2" y="621.5" width="48.70" height="216.60" fill="#c0c0c0" stroke="#000" stroke-width="2.3"/>
<line x1="534.0" y1="579.60" x2="534.0" y2="839.10" stroke="#000" stroke-width="2.2"/>
<line x1="519" y1="838.1" x2="783" y2="838.1" stroke="#000" stroke-width="2.1"/>
<line x1="519.0" y1="608.90" x2="534.0" y2="608.90" stroke="#000" stroke-width="2.3"/>
<text x="511.5" y="617.90" font-size="24.5" font-weight="normal" text-anchor="end" >100</text>
<line x1="519.0" y1="666.25" x2="534.0" y2="666.25" stroke="#000" stroke-width="2.3"/>
<text x="511.5" y="675.25" font-size="24.5" font-weight="normal" text-anchor="end" >75</text>
<line x1="519.0" y1="723.60" x2="534.0" y2="723.60" stroke="#000" stroke-width="2.3"/>
<text x="511.5" y="732.60" font-size="24.5" font-weight="normal" text-anchor="end" >50</text>
<line x1="519.0" y1="780.95" x2="534.0" y2="780.95" stroke="#000" stroke-width="2.3"/>
<text x="511.5" y="789.95" font-size="24.5" font-weight="normal" text-anchor="end" >25</text>
<line x1="519.0" y1="838.30" x2="534.0" y2="838.30" stroke="#000" stroke-width="2.3"/>
<text x="511.5" y="847.30" font-size="24.5" font-weight="normal" text-anchor="end" >0</text>
<line x1="526.5" y1="580.80" x2="534.0" y2="580.80" stroke="#000" stroke-width="2.3"/>
<line x1="526.5" y1="638.15" x2="534.0" y2="638.15" stroke="#000" stroke-width="2.3"/>
<line x1="526.5" y1="695.50" x2="534.0" y2="695.50" stroke="#000" stroke-width="2.3"/>
<line x1="526.5" y1="752.85" x2="534.0" y2="752.85" stroke="#000" stroke-width="2.3"/>
<line x1="526.5" y1="810.20" x2="534.0" y2="810.20" stroke="#000" stroke-width="2.3"/>
<text x="0" y="0" font-size="22.8" font-weight="normal" text-anchor="middle" transform="translate(458.1,727.2) rotate(-90)">Mean firing rate [%]</text>
<text x="0" y="0" font-size="19" font-weight="bold" text-anchor="end" transform="translate(592.5,859.1) rotate(-45)">Control</text>
<text x="0" y="0" font-size="19.5" font-weight="bold" text-anchor="end" transform="translate(642.1,855.1) rotate(-45)">Efaroxan</text>
<text x="0" y="0" font-size="19.8" font-weight="bold" text-anchor="end" transform="translate(690.9,856.6) rotate(-45)">Mox+Efa</text>
<text x="0" y="0" font-size="20.7" font-weight="bold" text-anchor="end" transform="translate(742.6,855.4) rotate(-45)">Wash</text>
<text x="0" y="0" font-size="20.5" font-weight="normal" text-anchor="start" transform="translate(735.9,914.5)">n = 9</text>
</svg>
</body></html>
